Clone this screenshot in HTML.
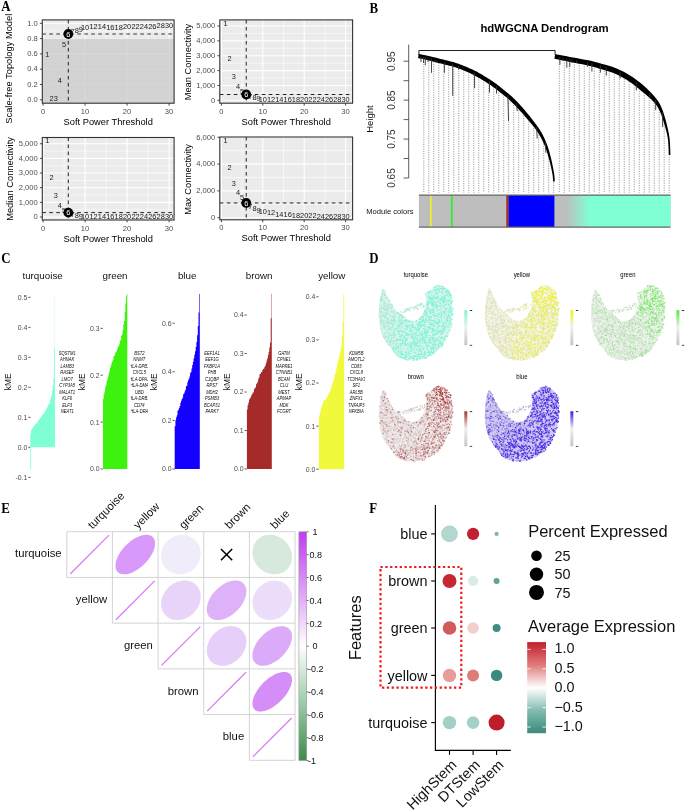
<!DOCTYPE html>
<html><head><meta charset="utf-8"><style>
html,body{margin:0;padding:0;background:#fff;}
body{width:685px;height:810px;overflow:hidden;}
svg{display:block;will-change:transform;}
</style></head><body>
<svg width="685" height="810" viewBox="0 0 685 810" font-family='"Liberation Sans", sans-serif'>
<rect width="685" height="810" fill="#fff"/>
<text x="0.00" y="0.00" font-size="14.3" text-anchor="start" fill="#000" font-weight="bold" font-family='"Liberation Serif", serif' transform="translate(1.30 11.00) scale(0.9 1)">A</text>
<text x="0.00" y="0.00" font-size="14.3" text-anchor="start" fill="#000" font-weight="bold" font-family='"Liberation Serif", serif' transform="translate(369.40 12.70) scale(0.9 1)">B</text>
<text x="0.00" y="0.00" font-size="14.3" text-anchor="start" fill="#000" font-weight="bold" font-family='"Liberation Serif", serif' transform="translate(1.20 262.50) scale(0.9 1)">C</text>
<text x="0.00" y="0.00" font-size="14.3" text-anchor="start" fill="#000" font-weight="bold" font-family='"Liberation Serif", serif' transform="translate(369.20 262.90) scale(0.9 1)">D</text>
<text x="0.00" y="0.00" font-size="14.3" text-anchor="start" fill="#000" font-weight="bold" font-family='"Liberation Serif", serif' transform="translate(1.30 512.50) scale(0.9 1)">E</text>
<text x="0.00" y="0.00" font-size="14.3" text-anchor="start" fill="#000" font-weight="bold" font-family='"Liberation Serif", serif' transform="translate(369.20 512.60) scale(0.9 1)">F</text>
<rect x="42.30" y="19.90" width="131.80" height="83.30" fill="#ebebeb" stroke="none" stroke-width="1"/>
<svg x="42.3" y="19.9" width="131.8" height="83.30000000000001" viewBox="42.3 19.9 131.8 83.30000000000001" overflow="hidden">
<line x1="64.10" y1="19.90" x2="64.10" y2="103.20" stroke="#fff" stroke-width="0.55"/>
<line x1="106.10" y1="19.90" x2="106.10" y2="103.20" stroke="#fff" stroke-width="0.55"/>
<line x1="148.10" y1="19.90" x2="148.10" y2="103.20" stroke="#fff" stroke-width="0.55"/>
<line x1="42.30" y1="92.15" x2="174.10" y2="92.15" stroke="#fff" stroke-width="0.55"/>
<line x1="42.30" y1="76.85" x2="174.10" y2="76.85" stroke="#fff" stroke-width="0.55"/>
<line x1="42.30" y1="61.55" x2="174.10" y2="61.55" stroke="#fff" stroke-width="0.55"/>
<line x1="42.30" y1="46.25" x2="174.10" y2="46.25" stroke="#fff" stroke-width="0.55"/>
<line x1="42.30" y1="30.95" x2="174.10" y2="30.95" stroke="#fff" stroke-width="0.55"/>
<line x1="43.10" y1="19.90" x2="43.10" y2="103.20" stroke="#fff" stroke-width="1.1"/>
<line x1="85.10" y1="19.90" x2="85.10" y2="103.20" stroke="#fff" stroke-width="1.1"/>
<line x1="127.10" y1="19.90" x2="127.10" y2="103.20" stroke="#fff" stroke-width="1.1"/>
<line x1="169.10" y1="19.90" x2="169.10" y2="103.20" stroke="#fff" stroke-width="1.1"/>
<line x1="42.30" y1="99.80" x2="174.10" y2="99.80" stroke="#fff" stroke-width="1.1"/>
<line x1="42.30" y1="84.50" x2="174.10" y2="84.50" stroke="#fff" stroke-width="1.1"/>
<line x1="42.30" y1="69.20" x2="174.10" y2="69.20" stroke="#fff" stroke-width="1.1"/>
<line x1="42.30" y1="53.90" x2="174.10" y2="53.90" stroke="#fff" stroke-width="1.1"/>
<line x1="42.30" y1="38.60" x2="174.10" y2="38.60" stroke="#fff" stroke-width="1.1"/>
<line x1="42.30" y1="23.30" x2="174.10" y2="23.30" stroke="#fff" stroke-width="1.1"/>
<rect x="42.30" y="38.60" width="131.80" height="64.60" fill="#c8c8c8" stroke="none" stroke-width="1" fill-opacity="0.72"/>
</svg>
<line x1="42.30" y1="34.01" x2="174.10" y2="34.01" stroke="#333" stroke-width="1.0" stroke-dasharray="3.6,3.4"/>
<line x1="68.30" y1="19.90" x2="68.30" y2="103.20" stroke="#222" stroke-width="1.0" stroke-dasharray="3.6,3.4"/>
<text x="47.30" y="57.27" font-size="7.4" text-anchor="middle" fill="#1a1a1a" font-family='"Liberation Sans", sans-serif'>1</text>
<text x="51.50" y="100.87" font-size="7.4" text-anchor="middle" fill="#1a1a1a" font-family='"Liberation Sans", sans-serif'>2</text>
<text x="55.70" y="101.02" font-size="7.4" text-anchor="middle" fill="#1a1a1a" font-family='"Liberation Sans", sans-serif'>3</text>
<text x="59.90" y="82.51" font-size="7.4" text-anchor="middle" fill="#1a1a1a" font-family='"Liberation Sans", sans-serif'>4</text>
<text x="64.10" y="46.55" font-size="7.4" text-anchor="middle" fill="#1a1a1a" font-family='"Liberation Sans", sans-serif'>5</text>
<circle cx="68.30" cy="34.01" r="4.9" fill="#000"/>
<text x="68.30" y="36.61" font-size="7.4" text-anchor="middle" fill="#fff" font-family='"Liberation Sans", sans-serif'>6</text>
<text x="72.50" y="34.31" font-size="7.4" text-anchor="middle" fill="#1a1a1a" font-family='"Liberation Sans", sans-serif'>7</text>
<text x="76.70" y="33.17" font-size="7.4" text-anchor="middle" fill="#1a1a1a" font-family='"Liberation Sans", sans-serif'>8</text>
<text x="80.90" y="32.40" font-size="7.4" text-anchor="middle" fill="#1a1a1a" font-family='"Liberation Sans", sans-serif'>9</text>
<text x="85.10" y="30.49" font-size="7.4" text-anchor="middle" fill="#1a1a1a" font-family='"Liberation Sans", sans-serif'>10</text>
<text x="93.50" y="29.34" font-size="7.4" text-anchor="middle" fill="#1a1a1a" font-family='"Liberation Sans", sans-serif'>12</text>
<text x="101.90" y="29.34" font-size="7.4" text-anchor="middle" fill="#1a1a1a" font-family='"Liberation Sans", sans-serif'>14</text>
<text x="110.30" y="29.57" font-size="7.4" text-anchor="middle" fill="#1a1a1a" font-family='"Liberation Sans", sans-serif'>16</text>
<text x="118.70" y="29.88" font-size="7.4" text-anchor="middle" fill="#1a1a1a" font-family='"Liberation Sans", sans-serif'>18</text>
<text x="127.10" y="28.96" font-size="7.4" text-anchor="middle" fill="#1a1a1a" font-family='"Liberation Sans", sans-serif'>20</text>
<text x="135.50" y="29.34" font-size="7.4" text-anchor="middle" fill="#1a1a1a" font-family='"Liberation Sans", sans-serif'>22</text>
<text x="143.90" y="28.58" font-size="7.4" text-anchor="middle" fill="#1a1a1a" font-family='"Liberation Sans", sans-serif'>24</text>
<text x="152.30" y="28.58" font-size="7.4" text-anchor="middle" fill="#1a1a1a" font-family='"Liberation Sans", sans-serif'>26</text>
<text x="160.70" y="28.20" font-size="7.4" text-anchor="middle" fill="#1a1a1a" font-family='"Liberation Sans", sans-serif'>28</text>
<text x="169.10" y="27.81" font-size="7.4" text-anchor="middle" fill="#1a1a1a" font-family='"Liberation Sans", sans-serif'>30</text>
<rect x="42.30" y="19.90" width="131.80" height="83.30" fill="none" stroke="#333" stroke-width="1.1"/>
<line x1="43.10" y1="103.20" x2="43.10" y2="105.60" stroke="#333" stroke-width="0.9"/>
<text x="43.10" y="113.80" font-size="7.6" text-anchor="middle" fill="#4d4d4d" font-family='"Liberation Sans", sans-serif'>0</text>
<line x1="85.10" y1="103.20" x2="85.10" y2="105.60" stroke="#333" stroke-width="0.9"/>
<text x="85.10" y="113.80" font-size="7.6" text-anchor="middle" fill="#4d4d4d" font-family='"Liberation Sans", sans-serif'>10</text>
<line x1="127.10" y1="103.20" x2="127.10" y2="105.60" stroke="#333" stroke-width="0.9"/>
<text x="127.10" y="113.80" font-size="7.6" text-anchor="middle" fill="#4d4d4d" font-family='"Liberation Sans", sans-serif'>20</text>
<line x1="169.10" y1="103.20" x2="169.10" y2="105.60" stroke="#333" stroke-width="0.9"/>
<text x="169.10" y="113.80" font-size="7.6" text-anchor="middle" fill="#4d4d4d" font-family='"Liberation Sans", sans-serif'>30</text>
<line x1="39.90" y1="99.80" x2="42.30" y2="99.80" stroke="#333" stroke-width="0.9"/>
<text x="37.80" y="102.00" font-size="7.6" text-anchor="end" fill="#4d4d4d" font-family='"Liberation Sans", sans-serif'>0.0</text>
<line x1="39.90" y1="84.50" x2="42.30" y2="84.50" stroke="#333" stroke-width="0.9"/>
<text x="37.80" y="86.70" font-size="7.6" text-anchor="end" fill="#4d4d4d" font-family='"Liberation Sans", sans-serif'>0.2</text>
<line x1="39.90" y1="69.20" x2="42.30" y2="69.20" stroke="#333" stroke-width="0.9"/>
<text x="37.80" y="71.40" font-size="7.6" text-anchor="end" fill="#4d4d4d" font-family='"Liberation Sans", sans-serif'>0.4</text>
<line x1="39.90" y1="53.90" x2="42.30" y2="53.90" stroke="#333" stroke-width="0.9"/>
<text x="37.80" y="56.10" font-size="7.6" text-anchor="end" fill="#4d4d4d" font-family='"Liberation Sans", sans-serif'>0.6</text>
<line x1="39.90" y1="38.60" x2="42.30" y2="38.60" stroke="#333" stroke-width="0.9"/>
<text x="37.80" y="40.80" font-size="7.6" text-anchor="end" fill="#4d4d4d" font-family='"Liberation Sans", sans-serif'>0.8</text>
<line x1="39.90" y1="23.30" x2="42.30" y2="23.30" stroke="#333" stroke-width="0.9"/>
<text x="37.80" y="25.50" font-size="7.6" text-anchor="end" fill="#4d4d4d" font-family='"Liberation Sans", sans-serif'>1.0</text>
<text x="108.20" y="124.70" font-size="9.3" text-anchor="middle" fill="#000" font-family='"Liberation Sans", sans-serif'>Soft Power Threshold</text>
<text x="12.40" y="68.75" font-size="9.3" text-anchor="middle" fill="#000" font-family='"Liberation Sans", sans-serif' transform="rotate(-90 12.40 68.75)">Scale-free Topology Model</text>
<rect x="219.80" y="19.90" width="132.80" height="83.30" fill="#ebebeb" stroke="none" stroke-width="1"/>
<svg x="219.8" y="19.9" width="132.8" height="83.30000000000001" viewBox="219.8 19.9 132.8 83.30000000000001" overflow="hidden">
<line x1="242.10" y1="19.90" x2="242.10" y2="103.20" stroke="#fff" stroke-width="0.55"/>
<line x1="283.50" y1="19.90" x2="283.50" y2="103.20" stroke="#fff" stroke-width="0.55"/>
<line x1="324.90" y1="19.90" x2="324.90" y2="103.20" stroke="#fff" stroke-width="0.55"/>
<line x1="219.80" y1="92.87" x2="352.60" y2="92.87" stroke="#fff" stroke-width="0.55"/>
<line x1="219.80" y1="78.01" x2="352.60" y2="78.01" stroke="#fff" stroke-width="0.55"/>
<line x1="219.80" y1="63.15" x2="352.60" y2="63.15" stroke="#fff" stroke-width="0.55"/>
<line x1="219.80" y1="48.29" x2="352.60" y2="48.29" stroke="#fff" stroke-width="0.55"/>
<line x1="219.80" y1="33.43" x2="352.60" y2="33.43" stroke="#fff" stroke-width="0.55"/>
<line x1="221.40" y1="19.90" x2="221.40" y2="103.20" stroke="#fff" stroke-width="1.1"/>
<line x1="262.80" y1="19.90" x2="262.80" y2="103.20" stroke="#fff" stroke-width="1.1"/>
<line x1="304.20" y1="19.90" x2="304.20" y2="103.20" stroke="#fff" stroke-width="1.1"/>
<line x1="345.60" y1="19.90" x2="345.60" y2="103.20" stroke="#fff" stroke-width="1.1"/>
<line x1="219.80" y1="100.30" x2="352.60" y2="100.30" stroke="#fff" stroke-width="1.1"/>
<line x1="219.80" y1="85.44" x2="352.60" y2="85.44" stroke="#fff" stroke-width="1.1"/>
<line x1="219.80" y1="70.58" x2="352.60" y2="70.58" stroke="#fff" stroke-width="1.1"/>
<line x1="219.80" y1="55.72" x2="352.60" y2="55.72" stroke="#fff" stroke-width="1.1"/>
<line x1="219.80" y1="40.86" x2="352.60" y2="40.86" stroke="#fff" stroke-width="1.1"/>
<line x1="219.80" y1="26.00" x2="352.60" y2="26.00" stroke="#fff" stroke-width="1.1"/>
</svg>
<line x1="219.80" y1="94.50" x2="352.60" y2="94.50" stroke="#222" stroke-width="1.0" stroke-dasharray="3.6,3.4"/>
<line x1="246.24" y1="19.90" x2="246.24" y2="103.20" stroke="#222" stroke-width="1.0" stroke-dasharray="3.6,3.4"/>
<text x="225.54" y="26.37" font-size="7.4" text-anchor="middle" fill="#1a1a1a" font-family='"Liberation Sans", sans-serif'>1</text>
<text x="229.68" y="61.29" font-size="7.4" text-anchor="middle" fill="#1a1a1a" font-family='"Liberation Sans", sans-serif'>2</text>
<text x="233.82" y="79.12" font-size="7.4" text-anchor="middle" fill="#1a1a1a" font-family='"Liberation Sans", sans-serif'>3</text>
<text x="237.96" y="88.78" font-size="7.4" text-anchor="middle" fill="#1a1a1a" font-family='"Liberation Sans", sans-serif'>4</text>
<text x="242.10" y="93.98" font-size="7.4" text-anchor="middle" fill="#1a1a1a" font-family='"Liberation Sans", sans-serif'>5</text>
<circle cx="246.24" cy="94.50" r="4.9" fill="#000"/>
<text x="246.24" y="97.10" font-size="7.4" text-anchor="middle" fill="#fff" font-family='"Liberation Sans", sans-serif'>6</text>
<text x="250.38" y="99.04" font-size="7.4" text-anchor="middle" fill="#1a1a1a" font-family='"Liberation Sans", sans-serif'>7</text>
<text x="254.52" y="100.37" font-size="7.4" text-anchor="middle" fill="#1a1a1a" font-family='"Liberation Sans", sans-serif'>8</text>
<text x="258.66" y="101.12" font-size="7.4" text-anchor="middle" fill="#1a1a1a" font-family='"Liberation Sans", sans-serif'>9</text>
<text x="262.80" y="101.56" font-size="7.4" text-anchor="middle" fill="#1a1a1a" font-family='"Liberation Sans", sans-serif'>10</text>
<text x="271.08" y="102.31" font-size="7.4" text-anchor="middle" fill="#1a1a1a" font-family='"Liberation Sans", sans-serif'>12</text>
<text x="279.36" y="102.31" font-size="7.4" text-anchor="middle" fill="#1a1a1a" font-family='"Liberation Sans", sans-serif'>14</text>
<text x="287.64" y="102.31" font-size="7.4" text-anchor="middle" fill="#1a1a1a" font-family='"Liberation Sans", sans-serif'>16</text>
<text x="295.92" y="102.31" font-size="7.4" text-anchor="middle" fill="#1a1a1a" font-family='"Liberation Sans", sans-serif'>18</text>
<text x="304.20" y="102.31" font-size="7.4" text-anchor="middle" fill="#1a1a1a" font-family='"Liberation Sans", sans-serif'>20</text>
<text x="312.48" y="102.31" font-size="7.4" text-anchor="middle" fill="#1a1a1a" font-family='"Liberation Sans", sans-serif'>22</text>
<text x="320.76" y="102.31" font-size="7.4" text-anchor="middle" fill="#1a1a1a" font-family='"Liberation Sans", sans-serif'>24</text>
<text x="329.04" y="102.31" font-size="7.4" text-anchor="middle" fill="#1a1a1a" font-family='"Liberation Sans", sans-serif'>26</text>
<text x="337.32" y="102.31" font-size="7.4" text-anchor="middle" fill="#1a1a1a" font-family='"Liberation Sans", sans-serif'>28</text>
<text x="345.60" y="102.31" font-size="7.4" text-anchor="middle" fill="#1a1a1a" font-family='"Liberation Sans", sans-serif'>30</text>
<rect x="219.80" y="19.90" width="132.80" height="83.30" fill="none" stroke="#333" stroke-width="1.1"/>
<line x1="221.40" y1="103.20" x2="221.40" y2="105.60" stroke="#333" stroke-width="0.9"/>
<text x="221.40" y="113.80" font-size="7.6" text-anchor="middle" fill="#4d4d4d" font-family='"Liberation Sans", sans-serif'>0</text>
<line x1="262.80" y1="103.20" x2="262.80" y2="105.60" stroke="#333" stroke-width="0.9"/>
<text x="262.80" y="113.80" font-size="7.6" text-anchor="middle" fill="#4d4d4d" font-family='"Liberation Sans", sans-serif'>10</text>
<line x1="304.20" y1="103.20" x2="304.20" y2="105.60" stroke="#333" stroke-width="0.9"/>
<text x="304.20" y="113.80" font-size="7.6" text-anchor="middle" fill="#4d4d4d" font-family='"Liberation Sans", sans-serif'>20</text>
<line x1="345.60" y1="103.20" x2="345.60" y2="105.60" stroke="#333" stroke-width="0.9"/>
<text x="345.60" y="113.80" font-size="7.6" text-anchor="middle" fill="#4d4d4d" font-family='"Liberation Sans", sans-serif'>30</text>
<line x1="217.40" y1="100.30" x2="219.80" y2="100.30" stroke="#333" stroke-width="0.9"/>
<text x="215.30" y="102.50" font-size="7.6" text-anchor="end" fill="#4d4d4d" font-family='"Liberation Sans", sans-serif'>0</text>
<line x1="217.40" y1="85.44" x2="219.80" y2="85.44" stroke="#333" stroke-width="0.9"/>
<text x="215.30" y="87.64" font-size="7.6" text-anchor="end" fill="#4d4d4d" font-family='"Liberation Sans", sans-serif'>1,000</text>
<line x1="217.40" y1="70.58" x2="219.80" y2="70.58" stroke="#333" stroke-width="0.9"/>
<text x="215.30" y="72.78" font-size="7.6" text-anchor="end" fill="#4d4d4d" font-family='"Liberation Sans", sans-serif'>2,000</text>
<line x1="217.40" y1="55.72" x2="219.80" y2="55.72" stroke="#333" stroke-width="0.9"/>
<text x="215.30" y="57.92" font-size="7.6" text-anchor="end" fill="#4d4d4d" font-family='"Liberation Sans", sans-serif'>3,000</text>
<line x1="217.40" y1="40.86" x2="219.80" y2="40.86" stroke="#333" stroke-width="0.9"/>
<text x="215.30" y="43.06" font-size="7.6" text-anchor="end" fill="#4d4d4d" font-family='"Liberation Sans", sans-serif'>4,000</text>
<line x1="217.40" y1="26.00" x2="219.80" y2="26.00" stroke="#333" stroke-width="0.9"/>
<text x="215.30" y="28.20" font-size="7.6" text-anchor="end" fill="#4d4d4d" font-family='"Liberation Sans", sans-serif'>5,000</text>
<text x="286.20" y="124.70" font-size="9.3" text-anchor="middle" fill="#000" font-family='"Liberation Sans", sans-serif'>Soft Power Threshold</text>
<text x="190.70" y="62.05" font-size="9.3" text-anchor="middle" fill="#000" font-family='"Liberation Sans", sans-serif' transform="rotate(-90 190.70 62.05)">Mean Connectivity</text>
<rect x="42.30" y="137.50" width="131.80" height="82.50" fill="#ebebeb" stroke="none" stroke-width="1"/>
<svg x="42.3" y="137.5" width="131.8" height="82.5" viewBox="42.3 137.5 131.8 82.5" overflow="hidden">
<line x1="64.10" y1="137.50" x2="64.10" y2="220.00" stroke="#fff" stroke-width="0.55"/>
<line x1="106.10" y1="137.50" x2="106.10" y2="220.00" stroke="#fff" stroke-width="0.55"/>
<line x1="148.10" y1="137.50" x2="148.10" y2="220.00" stroke="#fff" stroke-width="0.55"/>
<line x1="42.30" y1="209.68" x2="174.10" y2="209.68" stroke="#fff" stroke-width="0.55"/>
<line x1="42.30" y1="195.03" x2="174.10" y2="195.03" stroke="#fff" stroke-width="0.55"/>
<line x1="42.30" y1="180.38" x2="174.10" y2="180.38" stroke="#fff" stroke-width="0.55"/>
<line x1="42.30" y1="165.72" x2="174.10" y2="165.72" stroke="#fff" stroke-width="0.55"/>
<line x1="42.30" y1="151.07" x2="174.10" y2="151.07" stroke="#fff" stroke-width="0.55"/>
<line x1="43.10" y1="137.50" x2="43.10" y2="220.00" stroke="#fff" stroke-width="1.1"/>
<line x1="85.10" y1="137.50" x2="85.10" y2="220.00" stroke="#fff" stroke-width="1.1"/>
<line x1="127.10" y1="137.50" x2="127.10" y2="220.00" stroke="#fff" stroke-width="1.1"/>
<line x1="169.10" y1="137.50" x2="169.10" y2="220.00" stroke="#fff" stroke-width="1.1"/>
<line x1="42.30" y1="217.00" x2="174.10" y2="217.00" stroke="#fff" stroke-width="1.1"/>
<line x1="42.30" y1="202.35" x2="174.10" y2="202.35" stroke="#fff" stroke-width="1.1"/>
<line x1="42.30" y1="187.70" x2="174.10" y2="187.70" stroke="#fff" stroke-width="1.1"/>
<line x1="42.30" y1="173.05" x2="174.10" y2="173.05" stroke="#fff" stroke-width="1.1"/>
<line x1="42.30" y1="158.40" x2="174.10" y2="158.40" stroke="#fff" stroke-width="1.1"/>
<line x1="42.30" y1="143.75" x2="174.10" y2="143.75" stroke="#fff" stroke-width="1.1"/>
</svg>
<line x1="42.30" y1="212.60" x2="174.10" y2="212.60" stroke="#222" stroke-width="1.0" stroke-dasharray="3.6,3.4"/>
<line x1="68.30" y1="137.50" x2="68.30" y2="220.00" stroke="#222" stroke-width="1.0" stroke-dasharray="3.6,3.4"/>
<text x="47.30" y="143.42" font-size="7.4" text-anchor="middle" fill="#1a1a1a" font-family='"Liberation Sans", sans-serif'>1</text>
<text x="51.50" y="180.04" font-size="7.4" text-anchor="middle" fill="#1a1a1a" font-family='"Liberation Sans", sans-serif'>2</text>
<text x="55.70" y="198.36" font-size="7.4" text-anchor="middle" fill="#1a1a1a" font-family='"Liberation Sans", sans-serif'>3</text>
<text x="59.90" y="207.88" font-size="7.4" text-anchor="middle" fill="#1a1a1a" font-family='"Liberation Sans", sans-serif'>4</text>
<text x="64.10" y="212.57" font-size="7.4" text-anchor="middle" fill="#1a1a1a" font-family='"Liberation Sans", sans-serif'>5</text>
<circle cx="68.30" cy="212.60" r="4.9" fill="#000"/>
<text x="68.30" y="215.20" font-size="7.4" text-anchor="middle" fill="#fff" font-family='"Liberation Sans", sans-serif'>6</text>
<text x="72.50" y="217.11" font-size="7.4" text-anchor="middle" fill="#1a1a1a" font-family='"Liberation Sans", sans-serif'>7</text>
<text x="76.70" y="217.99" font-size="7.4" text-anchor="middle" fill="#1a1a1a" font-family='"Liberation Sans", sans-serif'>8</text>
<text x="80.90" y="218.57" font-size="7.4" text-anchor="middle" fill="#1a1a1a" font-family='"Liberation Sans", sans-serif'>9</text>
<text x="85.10" y="219.01" font-size="7.4" text-anchor="middle" fill="#1a1a1a" font-family='"Liberation Sans", sans-serif'>10</text>
<text x="93.50" y="219.31" font-size="7.4" text-anchor="middle" fill="#1a1a1a" font-family='"Liberation Sans", sans-serif'>12</text>
<text x="101.90" y="219.31" font-size="7.4" text-anchor="middle" fill="#1a1a1a" font-family='"Liberation Sans", sans-serif'>14</text>
<text x="110.30" y="219.31" font-size="7.4" text-anchor="middle" fill="#1a1a1a" font-family='"Liberation Sans", sans-serif'>16</text>
<text x="118.70" y="219.31" font-size="7.4" text-anchor="middle" fill="#1a1a1a" font-family='"Liberation Sans", sans-serif'>18</text>
<text x="127.10" y="219.31" font-size="7.4" text-anchor="middle" fill="#1a1a1a" font-family='"Liberation Sans", sans-serif'>20</text>
<text x="135.50" y="219.31" font-size="7.4" text-anchor="middle" fill="#1a1a1a" font-family='"Liberation Sans", sans-serif'>22</text>
<text x="143.90" y="219.31" font-size="7.4" text-anchor="middle" fill="#1a1a1a" font-family='"Liberation Sans", sans-serif'>24</text>
<text x="152.30" y="219.31" font-size="7.4" text-anchor="middle" fill="#1a1a1a" font-family='"Liberation Sans", sans-serif'>26</text>
<text x="160.70" y="219.31" font-size="7.4" text-anchor="middle" fill="#1a1a1a" font-family='"Liberation Sans", sans-serif'>28</text>
<text x="169.10" y="219.31" font-size="7.4" text-anchor="middle" fill="#1a1a1a" font-family='"Liberation Sans", sans-serif'>30</text>
<rect x="42.30" y="137.50" width="131.80" height="82.50" fill="none" stroke="#333" stroke-width="1.1"/>
<line x1="43.10" y1="220.00" x2="43.10" y2="222.40" stroke="#333" stroke-width="0.9"/>
<text x="43.10" y="230.60" font-size="7.6" text-anchor="middle" fill="#4d4d4d" font-family='"Liberation Sans", sans-serif'>0</text>
<line x1="85.10" y1="220.00" x2="85.10" y2="222.40" stroke="#333" stroke-width="0.9"/>
<text x="85.10" y="230.60" font-size="7.6" text-anchor="middle" fill="#4d4d4d" font-family='"Liberation Sans", sans-serif'>10</text>
<line x1="127.10" y1="220.00" x2="127.10" y2="222.40" stroke="#333" stroke-width="0.9"/>
<text x="127.10" y="230.60" font-size="7.6" text-anchor="middle" fill="#4d4d4d" font-family='"Liberation Sans", sans-serif'>20</text>
<line x1="169.10" y1="220.00" x2="169.10" y2="222.40" stroke="#333" stroke-width="0.9"/>
<text x="169.10" y="230.60" font-size="7.6" text-anchor="middle" fill="#4d4d4d" font-family='"Liberation Sans", sans-serif'>30</text>
<line x1="39.90" y1="217.00" x2="42.30" y2="217.00" stroke="#333" stroke-width="0.9"/>
<text x="37.80" y="219.20" font-size="7.6" text-anchor="end" fill="#4d4d4d" font-family='"Liberation Sans", sans-serif'>0</text>
<line x1="39.90" y1="202.35" x2="42.30" y2="202.35" stroke="#333" stroke-width="0.9"/>
<text x="37.80" y="204.55" font-size="7.6" text-anchor="end" fill="#4d4d4d" font-family='"Liberation Sans", sans-serif'>1,000</text>
<line x1="39.90" y1="187.70" x2="42.30" y2="187.70" stroke="#333" stroke-width="0.9"/>
<text x="37.80" y="189.90" font-size="7.6" text-anchor="end" fill="#4d4d4d" font-family='"Liberation Sans", sans-serif'>2,000</text>
<line x1="39.90" y1="173.05" x2="42.30" y2="173.05" stroke="#333" stroke-width="0.9"/>
<text x="37.80" y="175.25" font-size="7.6" text-anchor="end" fill="#4d4d4d" font-family='"Liberation Sans", sans-serif'>3,000</text>
<line x1="39.90" y1="158.40" x2="42.30" y2="158.40" stroke="#333" stroke-width="0.9"/>
<text x="37.80" y="160.60" font-size="7.6" text-anchor="end" fill="#4d4d4d" font-family='"Liberation Sans", sans-serif'>4,000</text>
<line x1="39.90" y1="143.75" x2="42.30" y2="143.75" stroke="#333" stroke-width="0.9"/>
<text x="37.80" y="145.95" font-size="7.6" text-anchor="end" fill="#4d4d4d" font-family='"Liberation Sans", sans-serif'>5,000</text>
<text x="108.20" y="241.50" font-size="9.3" text-anchor="middle" fill="#000" font-family='"Liberation Sans", sans-serif'>Soft Power Threshold</text>
<text x="12.60" y="178.95" font-size="9.3" text-anchor="middle" fill="#000" font-family='"Liberation Sans", sans-serif' transform="rotate(-90 12.60 178.95)">Median Connectivity</text>
<rect x="219.80" y="137.00" width="132.80" height="82.80" fill="#ebebeb" stroke="none" stroke-width="1"/>
<svg x="219.8" y="137.0" width="132.8" height="82.80000000000001" viewBox="219.8 137.0 132.8 82.80000000000001" overflow="hidden">
<line x1="242.10" y1="137.00" x2="242.10" y2="219.80" stroke="#fff" stroke-width="0.55"/>
<line x1="283.50" y1="137.00" x2="283.50" y2="219.80" stroke="#fff" stroke-width="0.55"/>
<line x1="324.90" y1="137.00" x2="324.90" y2="219.80" stroke="#fff" stroke-width="0.55"/>
<line x1="219.80" y1="204.30" x2="352.60" y2="204.30" stroke="#fff" stroke-width="0.55"/>
<line x1="219.80" y1="177.50" x2="352.60" y2="177.50" stroke="#fff" stroke-width="0.55"/>
<line x1="219.80" y1="150.70" x2="352.60" y2="150.70" stroke="#fff" stroke-width="0.55"/>
<line x1="221.40" y1="137.00" x2="221.40" y2="219.80" stroke="#fff" stroke-width="1.1"/>
<line x1="262.80" y1="137.00" x2="262.80" y2="219.80" stroke="#fff" stroke-width="1.1"/>
<line x1="304.20" y1="137.00" x2="304.20" y2="219.80" stroke="#fff" stroke-width="1.1"/>
<line x1="345.60" y1="137.00" x2="345.60" y2="219.80" stroke="#fff" stroke-width="1.1"/>
<line x1="219.80" y1="217.70" x2="352.60" y2="217.70" stroke="#fff" stroke-width="1.1"/>
<line x1="219.80" y1="190.90" x2="352.60" y2="190.90" stroke="#fff" stroke-width="1.1"/>
<line x1="219.80" y1="164.10" x2="352.60" y2="164.10" stroke="#fff" stroke-width="1.1"/>
<line x1="219.80" y1="137.30" x2="352.60" y2="137.30" stroke="#fff" stroke-width="1.1"/>
</svg>
<line x1="219.80" y1="202.96" x2="352.60" y2="202.96" stroke="#222" stroke-width="1.0" stroke-dasharray="3.6,3.4"/>
<line x1="246.24" y1="137.00" x2="246.24" y2="219.80" stroke="#222" stroke-width="1.0" stroke-dasharray="3.6,3.4"/>
<text x="225.54" y="143.12" font-size="7.4" text-anchor="middle" fill="#1a1a1a" font-family='"Liberation Sans", sans-serif'>1</text>
<text x="229.68" y="170.32" font-size="7.4" text-anchor="middle" fill="#1a1a1a" font-family='"Liberation Sans", sans-serif'>2</text>
<text x="233.82" y="185.59" font-size="7.4" text-anchor="middle" fill="#1a1a1a" font-family='"Liberation Sans", sans-serif'>3</text>
<text x="237.96" y="194.84" font-size="7.4" text-anchor="middle" fill="#1a1a1a" font-family='"Liberation Sans", sans-serif'>4</text>
<text x="242.10" y="199.93" font-size="7.4" text-anchor="middle" fill="#1a1a1a" font-family='"Liberation Sans", sans-serif'>5</text>
<circle cx="246.24" cy="202.96" r="4.9" fill="#000"/>
<text x="246.24" y="205.56" font-size="7.4" text-anchor="middle" fill="#fff" font-family='"Liberation Sans", sans-serif'>6</text>
<text x="250.38" y="209.11" font-size="7.4" text-anchor="middle" fill="#1a1a1a" font-family='"Liberation Sans", sans-serif'>7</text>
<text x="254.52" y="210.79" font-size="7.4" text-anchor="middle" fill="#1a1a1a" font-family='"Liberation Sans", sans-serif'>8</text>
<text x="258.66" y="212.59" font-size="7.4" text-anchor="middle" fill="#1a1a1a" font-family='"Liberation Sans", sans-serif'>9</text>
<text x="262.80" y="213.80" font-size="7.4" text-anchor="middle" fill="#1a1a1a" font-family='"Liberation Sans", sans-serif'>10</text>
<text x="271.08" y="215.27" font-size="7.4" text-anchor="middle" fill="#1a1a1a" font-family='"Liberation Sans", sans-serif'>12</text>
<text x="279.36" y="216.68" font-size="7.4" text-anchor="middle" fill="#1a1a1a" font-family='"Liberation Sans", sans-serif'>14</text>
<text x="287.64" y="217.22" font-size="7.4" text-anchor="middle" fill="#1a1a1a" font-family='"Liberation Sans", sans-serif'>16</text>
<text x="295.92" y="217.62" font-size="7.4" text-anchor="middle" fill="#1a1a1a" font-family='"Liberation Sans", sans-serif'>18</text>
<text x="304.20" y="218.02" font-size="7.4" text-anchor="middle" fill="#1a1a1a" font-family='"Liberation Sans", sans-serif'>20</text>
<text x="312.48" y="218.29" font-size="7.4" text-anchor="middle" fill="#1a1a1a" font-family='"Liberation Sans", sans-serif'>22</text>
<text x="320.76" y="218.69" font-size="7.4" text-anchor="middle" fill="#1a1a1a" font-family='"Liberation Sans", sans-serif'>24</text>
<text x="329.04" y="218.96" font-size="7.4" text-anchor="middle" fill="#1a1a1a" font-family='"Liberation Sans", sans-serif'>26</text>
<text x="337.32" y="219.09" font-size="7.4" text-anchor="middle" fill="#1a1a1a" font-family='"Liberation Sans", sans-serif'>28</text>
<text x="345.60" y="219.29" font-size="7.4" text-anchor="middle" fill="#1a1a1a" font-family='"Liberation Sans", sans-serif'>30</text>
<rect x="219.80" y="137.00" width="132.80" height="82.80" fill="none" stroke="#333" stroke-width="1.1"/>
<line x1="221.40" y1="219.80" x2="221.40" y2="222.20" stroke="#333" stroke-width="0.9"/>
<text x="221.40" y="230.40" font-size="7.6" text-anchor="middle" fill="#4d4d4d" font-family='"Liberation Sans", sans-serif'>0</text>
<line x1="262.80" y1="219.80" x2="262.80" y2="222.20" stroke="#333" stroke-width="0.9"/>
<text x="262.80" y="230.40" font-size="7.6" text-anchor="middle" fill="#4d4d4d" font-family='"Liberation Sans", sans-serif'>10</text>
<line x1="304.20" y1="219.80" x2="304.20" y2="222.20" stroke="#333" stroke-width="0.9"/>
<text x="304.20" y="230.40" font-size="7.6" text-anchor="middle" fill="#4d4d4d" font-family='"Liberation Sans", sans-serif'>20</text>
<line x1="345.60" y1="219.80" x2="345.60" y2="222.20" stroke="#333" stroke-width="0.9"/>
<text x="345.60" y="230.40" font-size="7.6" text-anchor="middle" fill="#4d4d4d" font-family='"Liberation Sans", sans-serif'>30</text>
<line x1="217.40" y1="217.70" x2="219.80" y2="217.70" stroke="#333" stroke-width="0.9"/>
<text x="215.30" y="219.90" font-size="7.6" text-anchor="end" fill="#4d4d4d" font-family='"Liberation Sans", sans-serif'>0</text>
<line x1="217.40" y1="190.90" x2="219.80" y2="190.90" stroke="#333" stroke-width="0.9"/>
<text x="215.30" y="193.10" font-size="7.6" text-anchor="end" fill="#4d4d4d" font-family='"Liberation Sans", sans-serif'>2,000</text>
<line x1="217.40" y1="164.10" x2="219.80" y2="164.10" stroke="#333" stroke-width="0.9"/>
<text x="215.30" y="166.30" font-size="7.6" text-anchor="end" fill="#4d4d4d" font-family='"Liberation Sans", sans-serif'>4,000</text>
<line x1="217.40" y1="137.30" x2="219.80" y2="137.30" stroke="#333" stroke-width="0.9"/>
<text x="215.30" y="139.50" font-size="7.6" text-anchor="end" fill="#4d4d4d" font-family='"Liberation Sans", sans-serif'>6,000</text>
<text x="286.20" y="241.30" font-size="9.3" text-anchor="middle" fill="#000" font-family='"Liberation Sans", sans-serif'>Soft Power Threshold</text>
<text x="190.70" y="179.40" font-size="9.3" text-anchor="middle" fill="#000" font-family='"Liberation Sans", sans-serif' transform="rotate(-90 190.70 179.40)">Max Connectivity</text>
<text x="544.50" y="31.90" font-size="11.35" text-anchor="middle" fill="#000" font-weight="bold" font-family='"Liberation Sans", sans-serif'>hdWGCNA Dendrogram</text>
<line x1="408.70" y1="44.60" x2="408.70" y2="178.00" stroke="#333" stroke-width="0.8"/>
<line x1="403.60" y1="61.20" x2="408.70" y2="61.20" stroke="#333" stroke-width="0.8"/>
<text x="395.40" y="61.20" font-size="10.0" text-anchor="middle" fill="#333" font-family='"Liberation Sans", sans-serif' transform="rotate(-90 395.40 61.20)">0.95</text>
<line x1="403.60" y1="80.67" x2="408.70" y2="80.67" stroke="#333" stroke-width="0.8"/>
<line x1="403.60" y1="100.13" x2="408.70" y2="100.13" stroke="#333" stroke-width="0.8"/>
<text x="395.40" y="100.13" font-size="10.0" text-anchor="middle" fill="#333" font-family='"Liberation Sans", sans-serif' transform="rotate(-90 395.40 100.13)">0.85</text>
<line x1="403.60" y1="119.60" x2="408.70" y2="119.60" stroke="#333" stroke-width="0.8"/>
<line x1="403.60" y1="139.07" x2="408.70" y2="139.07" stroke="#333" stroke-width="0.8"/>
<text x="395.40" y="139.07" font-size="10.0" text-anchor="middle" fill="#333" font-family='"Liberation Sans", sans-serif' transform="rotate(-90 395.40 139.07)">0.75</text>
<line x1="403.60" y1="158.53" x2="408.70" y2="158.53" stroke="#333" stroke-width="0.8"/>
<line x1="403.60" y1="178.00" x2="408.70" y2="178.00" stroke="#333" stroke-width="0.8"/>
<text x="395.40" y="178.00" font-size="10.0" text-anchor="middle" fill="#333" font-family='"Liberation Sans", sans-serif' transform="rotate(-90 395.40 178.00)">0.65</text>
<text x="372.60" y="119.00" font-size="9.5" text-anchor="middle" fill="#111" font-family='"Liberation Sans", sans-serif' transform="rotate(-90 372.60 119.00)">Height</text>
<text x="366.30" y="213.90" font-size="7.6" text-anchor="start" fill="#111" font-family='"Liberation Sans", sans-serif'>Module colors</text>
<line x1="423.80" y1="56.91" x2="423.80" y2="192.80" stroke="#8c8c8c" stroke-width="0.9" stroke-dasharray="1.1,1.25"/>
<line x1="428.80" y1="58.02" x2="428.80" y2="192.80" stroke="#8c8c8c" stroke-width="0.9" stroke-dasharray="1.1,1.25"/>
<line x1="433.79" y1="59.21" x2="433.79" y2="192.80" stroke="#8c8c8c" stroke-width="0.9" stroke-dasharray="1.1,1.25"/>
<line x1="438.79" y1="60.44" x2="438.79" y2="192.80" stroke="#8c8c8c" stroke-width="0.9" stroke-dasharray="1.1,1.25"/>
<line x1="443.78" y1="61.71" x2="443.78" y2="192.80" stroke="#8c8c8c" stroke-width="0.9" stroke-dasharray="1.1,1.25"/>
<line x1="448.78" y1="62.95" x2="448.78" y2="192.80" stroke="#8c8c8c" stroke-width="0.9" stroke-dasharray="1.1,1.25"/>
<line x1="453.77" y1="64.24" x2="453.77" y2="192.80" stroke="#8c8c8c" stroke-width="0.9" stroke-dasharray="1.1,1.25"/>
<line x1="458.77" y1="65.91" x2="458.77" y2="192.80" stroke="#8c8c8c" stroke-width="0.9" stroke-dasharray="1.1,1.25"/>
<line x1="463.76" y1="67.83" x2="463.76" y2="192.80" stroke="#8c8c8c" stroke-width="0.9" stroke-dasharray="1.1,1.25"/>
<line x1="468.76" y1="69.88" x2="468.76" y2="192.80" stroke="#8c8c8c" stroke-width="0.9" stroke-dasharray="1.1,1.25"/>
<line x1="473.75" y1="72.16" x2="473.75" y2="192.80" stroke="#8c8c8c" stroke-width="0.9" stroke-dasharray="1.1,1.25"/>
<line x1="478.75" y1="74.78" x2="478.75" y2="192.80" stroke="#8c8c8c" stroke-width="0.9" stroke-dasharray="1.1,1.25"/>
<line x1="483.74" y1="77.72" x2="483.74" y2="192.80" stroke="#8c8c8c" stroke-width="0.9" stroke-dasharray="1.1,1.25"/>
<line x1="488.74" y1="80.82" x2="488.74" y2="192.80" stroke="#8c8c8c" stroke-width="0.9" stroke-dasharray="1.1,1.25"/>
<line x1="493.73" y1="84.10" x2="493.73" y2="192.80" stroke="#8c8c8c" stroke-width="0.9" stroke-dasharray="1.1,1.25"/>
<line x1="498.73" y1="87.82" x2="498.73" y2="192.80" stroke="#8c8c8c" stroke-width="0.9" stroke-dasharray="1.1,1.25"/>
<line x1="503.72" y1="91.83" x2="503.72" y2="192.80" stroke="#8c8c8c" stroke-width="0.9" stroke-dasharray="1.1,1.25"/>
<line x1="508.72" y1="95.83" x2="508.72" y2="192.80" stroke="#8c8c8c" stroke-width="0.9" stroke-dasharray="1.1,1.25"/>
<line x1="513.71" y1="100.38" x2="513.71" y2="192.80" stroke="#8c8c8c" stroke-width="0.9" stroke-dasharray="1.1,1.25"/>
<line x1="518.71" y1="105.44" x2="518.71" y2="192.80" stroke="#8c8c8c" stroke-width="0.9" stroke-dasharray="1.1,1.25"/>
<line x1="523.70" y1="110.99" x2="523.70" y2="192.80" stroke="#8c8c8c" stroke-width="0.9" stroke-dasharray="1.1,1.25"/>
<line x1="528.70" y1="116.99" x2="528.70" y2="192.80" stroke="#8c8c8c" stroke-width="0.9" stroke-dasharray="1.1,1.25"/>
<line x1="533.69" y1="123.28" x2="533.69" y2="192.80" stroke="#8c8c8c" stroke-width="0.9" stroke-dasharray="1.1,1.25"/>
<line x1="538.69" y1="130.11" x2="538.69" y2="192.80" stroke="#8c8c8c" stroke-width="0.9" stroke-dasharray="1.1,1.25"/>
<line x1="543.68" y1="138.73" x2="543.68" y2="192.80" stroke="#8c8c8c" stroke-width="0.9" stroke-dasharray="1.1,1.25"/>
<line x1="548.68" y1="151.52" x2="548.68" y2="192.80" stroke="#8c8c8c" stroke-width="0.9" stroke-dasharray="1.1,1.25"/>
<line x1="553.67" y1="173.03" x2="553.67" y2="192.80" stroke="#8c8c8c" stroke-width="0.9" stroke-dasharray="1.1,1.25"/>
<line x1="559.30" y1="56.96" x2="559.30" y2="192.80" stroke="#8c8c8c" stroke-width="0.9" stroke-dasharray="1.1,1.25"/>
<line x1="564.29" y1="57.88" x2="564.29" y2="192.80" stroke="#8c8c8c" stroke-width="0.9" stroke-dasharray="1.1,1.25"/>
<line x1="569.29" y1="58.81" x2="569.29" y2="192.80" stroke="#8c8c8c" stroke-width="0.9" stroke-dasharray="1.1,1.25"/>
<line x1="574.28" y1="59.72" x2="574.28" y2="192.80" stroke="#8c8c8c" stroke-width="0.9" stroke-dasharray="1.1,1.25"/>
<line x1="579.28" y1="60.64" x2="579.28" y2="192.80" stroke="#8c8c8c" stroke-width="0.9" stroke-dasharray="1.1,1.25"/>
<line x1="584.27" y1="61.57" x2="584.27" y2="192.80" stroke="#8c8c8c" stroke-width="0.9" stroke-dasharray="1.1,1.25"/>
<line x1="589.27" y1="62.55" x2="589.27" y2="192.80" stroke="#8c8c8c" stroke-width="0.9" stroke-dasharray="1.1,1.25"/>
<line x1="594.26" y1="63.70" x2="594.26" y2="192.80" stroke="#8c8c8c" stroke-width="0.9" stroke-dasharray="1.1,1.25"/>
<line x1="599.26" y1="65.09" x2="599.26" y2="192.80" stroke="#8c8c8c" stroke-width="0.9" stroke-dasharray="1.1,1.25"/>
<line x1="604.25" y1="66.46" x2="604.25" y2="192.80" stroke="#8c8c8c" stroke-width="0.9" stroke-dasharray="1.1,1.25"/>
<line x1="609.25" y1="67.88" x2="609.25" y2="192.80" stroke="#8c8c8c" stroke-width="0.9" stroke-dasharray="1.1,1.25"/>
<line x1="614.25" y1="69.59" x2="614.25" y2="192.80" stroke="#8c8c8c" stroke-width="0.9" stroke-dasharray="1.1,1.25"/>
<line x1="619.24" y1="71.70" x2="619.24" y2="192.80" stroke="#8c8c8c" stroke-width="0.9" stroke-dasharray="1.1,1.25"/>
<line x1="624.24" y1="74.13" x2="624.24" y2="192.80" stroke="#8c8c8c" stroke-width="0.9" stroke-dasharray="1.1,1.25"/>
<line x1="629.23" y1="76.98" x2="629.23" y2="192.80" stroke="#8c8c8c" stroke-width="0.9" stroke-dasharray="1.1,1.25"/>
<line x1="634.23" y1="80.29" x2="634.23" y2="192.80" stroke="#8c8c8c" stroke-width="0.9" stroke-dasharray="1.1,1.25"/>
<line x1="639.22" y1="84.01" x2="639.22" y2="192.80" stroke="#8c8c8c" stroke-width="0.9" stroke-dasharray="1.1,1.25"/>
<line x1="644.22" y1="88.14" x2="644.22" y2="192.80" stroke="#8c8c8c" stroke-width="0.9" stroke-dasharray="1.1,1.25"/>
<line x1="649.21" y1="92.81" x2="649.21" y2="192.80" stroke="#8c8c8c" stroke-width="0.9" stroke-dasharray="1.1,1.25"/>
<line x1="654.21" y1="98.16" x2="654.21" y2="192.80" stroke="#8c8c8c" stroke-width="0.9" stroke-dasharray="1.1,1.25"/>
<line x1="659.20" y1="104.97" x2="659.20" y2="192.80" stroke="#8c8c8c" stroke-width="0.9" stroke-dasharray="1.1,1.25"/>
<line x1="664.20" y1="117.00" x2="664.20" y2="192.80" stroke="#8c8c8c" stroke-width="0.9" stroke-dasharray="1.1,1.25"/>
<line x1="669.19" y1="137.95" x2="669.19" y2="192.80" stroke="#8c8c8c" stroke-width="0.9" stroke-dasharray="1.1,1.25"/>
<path d="M418.9 55.5V50.5H555.1V55" fill="none" stroke="#222" stroke-width="1.0"/>
<path d="M418.80 54.00 L419.45 54.12 L420.32 54.27 L421.36 54.45 L422.55 54.67 L423.84 54.92 L425.20 55.20 L426.68 55.53 L428.31 55.90 L430.06 56.31 L431.85 56.74 L433.65 57.17 L435.40 57.60 L437.11 58.02 L438.83 58.45 L440.55 58.88 L442.27 59.32 L443.99 59.76 L445.70 60.20 L447.37 60.62 L449.01 61.01 L450.64 61.40 L452.30 61.83 L454.04 62.32 L455.90 62.90 L457.94 63.61 L460.16 64.43 L462.44 65.31 L464.71 66.21 L466.86 67.09 L468.80 67.90 L470.49 68.63 L472.01 69.32 L473.41 69.99 L474.75 70.66 L476.09 71.35 L477.50 72.10 L478.96 72.90 L480.43 73.74 L481.90 74.61 L483.37 75.49 L484.84 76.39 L486.30 77.30 L487.75 78.21 L489.20 79.12 L490.65 80.04 L492.10 80.99 L493.55 81.97 L495.00 83.00 L496.46 84.07 L497.93 85.19 L499.39 86.34 L500.86 87.52 L502.33 88.71 L503.80 89.90 L505.23 91.05 L506.62 92.14 L508.01 93.25 L509.44 94.44 L510.96 95.77 L512.60 97.30 L514.36 99.01 L516.20 100.84 L518.12 102.81 L520.13 104.95 L522.22 107.27 L524.40 109.80 L526.79 112.66 L529.41 115.87 L532.12 119.26 L534.77 122.68 L537.21 125.98 L539.30 129.00 L541.00 131.72 L542.43 134.26 L543.66 136.68 L544.73 139.03 L545.73 141.38 L546.70 143.80 L547.62 146.27 L548.44 148.75 L549.18 151.22 L549.86 153.70 L550.49 156.16 L551.10 158.60 L551.69 161.09 L552.26 163.65 L552.77 166.19 L553.24 168.65 L553.66 170.95 L554.00 173.00 L554.26 174.86 L554.45 176.59 L554.58 178.15 L554.67 179.51 L554.74 180.64 L554.80 181.50 L553.18 181.62 L553.10 180.75 L553.03 179.62 L552.93 178.27 L552.78 176.75 L552.57 175.07 L552.28 173.27 L551.89 171.25 L551.43 168.99 L550.90 166.56 L550.31 164.06 L549.68 161.55 L549.02 159.11 L548.33 156.71 L547.62 154.29 L546.91 151.87 L546.13 149.48 L545.28 147.10 L544.31 144.73 L543.28 142.39 L542.24 140.13 L541.13 137.89 L539.87 135.63 L538.41 133.27 L536.68 130.73 L534.57 127.87 L532.08 124.72 L529.36 121.43 L526.57 118.17 L523.86 115.09 L521.42 112.33 L519.26 109.88 L517.20 107.64 L515.22 105.58 L513.32 103.68 L511.50 101.91 L509.77 100.26 L508.19 98.82 L506.75 97.59 L505.38 96.49 L504.02 95.43 L502.61 94.35 L501.14 93.20 L499.65 92.02 L498.18 90.86 L496.72 89.72 L495.29 88.60 L493.88 87.52 L492.48 86.50 L491.09 85.52 L489.70 84.58 L488.30 83.67 L486.89 82.76 L485.46 81.87 L484.02 80.97 L482.57 80.07 L481.12 79.19 L479.68 78.33 L478.26 77.49 L476.84 76.69 L475.44 75.92 L474.08 75.19 L472.78 74.53 L471.51 73.89 L470.18 73.26 L468.73 72.61 L467.09 71.90 L465.20 71.11 L463.08 70.25 L460.85 69.37 L458.62 68.51 L456.47 67.72 L454.52 67.05 L452.79 66.51 L451.17 66.06 L449.58 65.65 L447.98 65.27 L446.33 64.88 L444.62 64.46 L442.89 64.01 L441.18 63.58 L439.47 63.15 L437.76 62.71 L436.06 62.27 L434.37 61.83 L432.63 61.39 L430.84 60.94 L429.06 60.50 L427.34 60.08 L425.74 59.70 L424.30 59.36 L423.00 59.08 L421.76 58.83 L420.62 58.61 L419.59 58.42 L418.72 58.26 L418.06 58.13Z" fill="#000"/>
<path d="M555.20 54.20 L556.73 54.48 L558.80 54.86 L561.27 55.32 L564.01 55.83 L566.90 56.36 L569.80 56.90 L572.89 57.47 L576.33 58.10 L579.91 58.75 L583.43 59.40 L586.69 60.03 L589.50 60.60 L591.73 61.09 L593.52 61.51 L595.06 61.90 L596.52 62.30 L598.11 62.76 L600.00 63.30 L602.22 63.91 L604.61 64.56 L607.13 65.26 L609.71 66.02 L612.28 66.86 L614.80 67.80 L617.27 68.82 L619.73 69.91 L622.20 71.09 L624.67 72.35 L627.13 73.72 L629.60 75.20 L632.10 76.82 L634.64 78.58 L637.18 80.44 L639.68 82.37 L642.10 84.33 L644.40 86.30 L646.62 88.31 L648.80 90.40 L650.91 92.53 L652.89 94.65 L654.70 96.72 L656.30 98.70 L657.65 100.52 L658.76 102.21 L659.71 103.85 L660.56 105.52 L661.37 107.31 L662.20 109.30 L663.05 111.52 L663.86 113.92 L664.64 116.44 L665.37 119.01 L666.06 121.58 L666.70 124.10 L667.30 126.55 L667.86 128.99 L668.38 131.42 L668.85 133.87 L669.26 136.36 L669.60 138.90 L669.86 141.69 L670.05 144.77 L670.18 147.88 L670.27 150.78 L670.34 153.23 L670.40 155.00 L668.80 155.06 L668.72 153.28 L668.64 150.83 L668.54 147.93 L668.39 144.85 L668.17 141.82 L667.87 139.10 L667.47 136.62 L667.00 134.20 L666.46 131.81 L665.86 129.43 L665.21 127.05 L664.52 124.65 L663.78 122.18 L663.00 119.67 L662.17 117.17 L661.29 114.75 L660.38 112.48 L659.44 110.40 L658.50 108.56 L657.59 106.94 L656.67 105.50 L655.66 104.13 L654.48 102.75 L653.03 101.24 L651.36 99.54 L649.48 97.74 L647.41 95.89 L645.21 94.05 L642.94 92.26 L640.70 90.50 L638.53 88.62 L636.23 86.73 L633.85 84.87 L631.43 83.08 L629.03 81.40 L626.69 79.86 L624.39 78.47 L622.09 77.17 L619.79 75.97 L617.47 74.85 L615.13 73.80 L612.82 72.82 L610.51 71.94 L608.11 71.14 L605.66 70.40 L603.21 69.70 L600.82 69.04 L598.57 68.40 L596.66 67.82 L595.10 67.35 L593.72 66.95 L592.29 66.56 L590.59 66.13 L588.45 65.63 L585.71 65.03 L582.49 64.36 L579.00 63.65 L575.44 62.95 L572.02 62.27 L568.92 61.65 L566.03 61.07 L563.15 60.49 L560.42 59.94 L557.95 59.44 L555.89 59.03 L554.36 58.73Z" fill="#000"/>
<line x1="421.00" y1="56.39" x2="421.00" y2="62.00" stroke="#333" stroke-width="0.9"/>
<line x1="423.50" y1="56.85" x2="423.50" y2="63.00" stroke="#333" stroke-width="0.9"/>
<line x1="425.30" y1="57.22" x2="425.30" y2="65.20" stroke="#333" stroke-width="0.9"/>
<line x1="428.00" y1="57.83" x2="428.00" y2="62.00" stroke="#333" stroke-width="0.9"/>
<line x1="431.50" y1="58.66" x2="431.50" y2="72.80" stroke="#333" stroke-width="0.9"/>
<line x1="436.00" y1="59.75" x2="436.00" y2="63.00" stroke="#333" stroke-width="0.9"/>
<line x1="444.40" y1="61.86" x2="444.40" y2="72.80" stroke="#333" stroke-width="0.9"/>
<line x1="452.70" y1="63.94" x2="452.70" y2="95.80" stroke="#333" stroke-width="0.9"/>
<line x1="458.60" y1="65.85" x2="458.60" y2="69.60" stroke="#333" stroke-width="0.9"/>
<line x1="463.00" y1="67.53" x2="463.00" y2="68.00" stroke="#333" stroke-width="0.9"/>
<line x1="474.60" y1="72.58" x2="474.60" y2="88.20" stroke="#333" stroke-width="0.9"/>
<line x1="489.50" y1="81.31" x2="489.50" y2="92.60" stroke="#333" stroke-width="0.9"/>
<line x1="496.50" y1="86.10" x2="496.50" y2="93.60" stroke="#333" stroke-width="0.9"/>
<line x1="507.90" y1="95.16" x2="508.50" y2="121.00" stroke="#333" stroke-width="0.9"/>
<line x1="516.60" y1="103.25" x2="517.20" y2="111.20" stroke="#333" stroke-width="0.9"/>
<line x1="536.60" y1="127.15" x2="537.20" y2="138.50" stroke="#333" stroke-width="0.9"/>
<line x1="545.30" y1="142.37" x2="545.90" y2="152.80" stroke="#333" stroke-width="0.9"/>
<line x1="559.90" y1="57.07" x2="559.90" y2="64.70" stroke="#333" stroke-width="0.9"/>
<line x1="563.00" y1="57.64" x2="563.00" y2="61.00" stroke="#333" stroke-width="0.9"/>
<line x1="566.80" y1="58.34" x2="566.80" y2="67.70" stroke="#333" stroke-width="0.9"/>
<line x1="569.80" y1="58.90" x2="569.80" y2="67.00" stroke="#333" stroke-width="0.9"/>
<line x1="572.00" y1="59.31" x2="572.00" y2="63.00" stroke="#333" stroke-width="0.9"/>
<line x1="576.70" y1="60.16" x2="576.70" y2="63.00" stroke="#333" stroke-width="0.9"/>
<line x1="587.50" y1="62.19" x2="587.50" y2="66.70" stroke="#333" stroke-width="0.9"/>
<line x1="591.90" y1="63.13" x2="591.90" y2="71.60" stroke="#333" stroke-width="0.9"/>
<line x1="600.40" y1="65.41" x2="600.40" y2="72.60" stroke="#333" stroke-width="0.9"/>
<line x1="606.30" y1="67.03" x2="606.30" y2="75.60" stroke="#333" stroke-width="0.9"/>
<line x1="620.10" y1="72.09" x2="620.10" y2="78.50" stroke="#333" stroke-width="0.9"/>
<line x1="636.30" y1="81.79" x2="636.30" y2="90.40" stroke="#333" stroke-width="0.9"/>
<line x1="649.80" y1="93.41" x2="649.80" y2="97.30" stroke="#333" stroke-width="0.9"/>
<line x1="655.70" y1="99.96" x2="655.70" y2="110.10" stroke="#333" stroke-width="0.9"/>
<line x1="662.60" y1="112.35" x2="662.60" y2="126.90" stroke="#333" stroke-width="0.9"/>
<rect x="418.90" y="195.10" width="251.60" height="32.00" fill="#bebebe" stroke="none" stroke-width="1"/>
<rect x="508.30" y="195.10" width="46.10" height="32.00" fill="#0000ff" stroke="none" stroke-width="1"/>
<rect x="506.30" y="195.10" width="2.20" height="32.00" fill="#a52a2a" stroke="none" stroke-width="1"/>
<rect x="430.20" y="195.10" width="1.30" height="32.00" fill="#ffff00" stroke="none" stroke-width="1"/>
<rect x="451.20" y="195.10" width="1.30" height="32.00" fill="#00ff00" stroke="none" stroke-width="1"/>
<defs><linearGradient id="tq" x1="0" x2="1" y1="0" y2="0"><stop offset="0" stop-color="#bebebe"/><stop offset="1" stop-color="#7fffd4"/></linearGradient></defs>
<rect x="565.80" y="195.10" width="24.20" height="32.00" fill="url(#tq)" stroke="none" stroke-width="1"/>
<rect x="590.00" y="195.10" width="80.50" height="32.00" fill="#7fffd4" stroke="none" stroke-width="1"/>
<line x1="418.90" y1="195.10" x2="670.50" y2="195.10" stroke="#666" stroke-width="1.1"/>
<line x1="418.90" y1="227.10" x2="670.50" y2="227.10" stroke="#666" stroke-width="1.1"/>
<text x="42.60" y="279.00" font-size="9.8" text-anchor="middle" fill="#111" font-family='"Liberation Sans", sans-serif'>turquoise</text>
<line x1="28.30" y1="297.30" x2="30.60" y2="297.30" stroke="#333" stroke-width="0.8"/>
<text x="27.30" y="299.70" font-size="6.9" text-anchor="end" fill="#4d4d4d" font-family='"Liberation Sans", sans-serif'>0.5</text>
<line x1="28.30" y1="327.30" x2="30.60" y2="327.30" stroke="#333" stroke-width="0.8"/>
<text x="27.30" y="329.70" font-size="6.9" text-anchor="end" fill="#4d4d4d" font-family='"Liberation Sans", sans-serif'>0.4</text>
<line x1="28.30" y1="357.30" x2="30.60" y2="357.30" stroke="#333" stroke-width="0.8"/>
<text x="27.30" y="359.70" font-size="6.9" text-anchor="end" fill="#4d4d4d" font-family='"Liberation Sans", sans-serif'>0.3</text>
<line x1="28.30" y1="387.30" x2="30.60" y2="387.30" stroke="#333" stroke-width="0.8"/>
<text x="27.30" y="389.70" font-size="6.9" text-anchor="end" fill="#4d4d4d" font-family='"Liberation Sans", sans-serif'>0.2</text>
<line x1="28.30" y1="417.30" x2="30.60" y2="417.30" stroke="#333" stroke-width="0.8"/>
<text x="27.30" y="419.70" font-size="6.9" text-anchor="end" fill="#4d4d4d" font-family='"Liberation Sans", sans-serif'>0.1</text>
<line x1="28.30" y1="447.30" x2="30.60" y2="447.30" stroke="#333" stroke-width="0.8"/>
<text x="27.30" y="449.70" font-size="6.9" text-anchor="end" fill="#4d4d4d" font-family='"Liberation Sans", sans-serif'>0.0</text>
<line x1="28.30" y1="477.30" x2="30.60" y2="477.30" stroke="#333" stroke-width="0.8"/>
<text x="27.30" y="479.70" font-size="6.9" text-anchor="end" fill="#4d4d4d" font-family='"Liberation Sans", sans-serif'>-0.1</text>
<path d="M30.30 447.30V434.37H31.00V430.03H31.70V428.81H32.40V427.88H33.10V426.78H33.80V425.97H34.50V424.67H35.20V424.04H35.90V423.43H36.60V422.44H37.30V421.72H38.00V420.48H38.70V419.81H39.40V418.78H40.10V417.96H40.80V416.99H41.50V415.74H42.20V414.86H42.90V413.91H43.60V413.25H44.30V412.20H45.00V410.84H45.70V409.79H46.40V408.09H47.10V406.96H47.80V405.34H48.50V403.91H49.20V402.97H49.90V400.25H50.60V397.30H51.30V394.72H52.00V390.69H52.70V385.41H53.40V378.19H54.10V348.30H54.80V294.60H55.00V447.30Z" fill="#7fffd4"/>
<rect x="30.30" y="447.30" width="0.80" height="21.90" fill="#7fffd4" stroke="none" stroke-width="1"/>
<text x="11.00" y="381.80" font-size="8.4" text-anchor="middle" fill="#111" font-family='"Liberation Sans", sans-serif' transform="rotate(-90 11.00 381.80)">kME</text>
<clipPath id="clturquoise"><rect x="58.50" y="340" width="17.10" height="80"/></clipPath>
<g clip-path="url(#clturquoise)">
<text x="0.00" y="0.00" font-size="5.3" text-anchor="middle" fill="#0a0a0a" font-style="italic" font-family='"Liberation Sans", sans-serif' transform="translate(67.20 355.00) scale(0.78 1)">SQSTM1</text>
<text x="0.00" y="0.00" font-size="5.3" text-anchor="middle" fill="#0a0a0a" font-style="italic" font-family='"Liberation Sans", sans-serif' transform="translate(67.20 361.49) scale(0.78 1)">AHNAK</text>
<text x="0.00" y="0.00" font-size="5.3" text-anchor="middle" fill="#0a0a0a" font-style="italic" font-family='"Liberation Sans", sans-serif' transform="translate(67.20 367.98) scale(0.78 1)">LAMB3</text>
<text x="0.00" y="0.00" font-size="5.3" text-anchor="middle" fill="#0a0a0a" font-style="italic" font-family='"Liberation Sans", sans-serif' transform="translate(67.20 374.47) scale(0.78 1)">RASEF</text>
<text x="0.00" y="0.00" font-size="5.3" text-anchor="middle" fill="#0a0a0a" font-style="italic" font-family='"Liberation Sans", sans-serif' transform="translate(67.20 380.96) scale(0.78 1)">LMO7</text>
<text x="0.00" y="0.00" font-size="5.3" text-anchor="middle" fill="#0a0a0a" font-style="italic" font-family='"Liberation Sans", sans-serif' transform="translate(67.20 387.45) scale(0.78 1)">CYP3A5</text>
<text x="0.00" y="0.00" font-size="5.3" text-anchor="middle" fill="#0a0a0a" font-style="italic" font-family='"Liberation Sans", sans-serif' transform="translate(67.20 393.94) scale(0.78 1)">MALAT1</text>
<text x="0.00" y="0.00" font-size="5.3" text-anchor="middle" fill="#0a0a0a" font-style="italic" font-family='"Liberation Sans", sans-serif' transform="translate(67.20 400.43) scale(0.78 1)">KLF6</text>
<text x="0.00" y="0.00" font-size="5.3" text-anchor="middle" fill="#0a0a0a" font-style="italic" font-family='"Liberation Sans", sans-serif' transform="translate(67.20 406.92) scale(0.78 1)">ELF3</text>
<text x="0.00" y="0.00" font-size="5.3" text-anchor="middle" fill="#0a0a0a" font-style="italic" font-family='"Liberation Sans", sans-serif' transform="translate(67.20 413.41) scale(0.78 1)">NEAT1</text>
</g>
<text x="115.00" y="279.00" font-size="9.8" text-anchor="middle" fill="#111" font-family='"Liberation Sans", sans-serif'>green</text>
<line x1="100.60" y1="328.30" x2="102.90" y2="328.30" stroke="#333" stroke-width="0.8"/>
<text x="99.60" y="330.70" font-size="6.9" text-anchor="end" fill="#4d4d4d" font-family='"Liberation Sans", sans-serif'>0.3</text>
<line x1="100.60" y1="375.20" x2="102.90" y2="375.20" stroke="#333" stroke-width="0.8"/>
<text x="99.60" y="377.60" font-size="6.9" text-anchor="end" fill="#4d4d4d" font-family='"Liberation Sans", sans-serif'>0.2</text>
<line x1="100.60" y1="422.10" x2="102.90" y2="422.10" stroke="#333" stroke-width="0.8"/>
<text x="99.60" y="424.50" font-size="6.9" text-anchor="end" fill="#4d4d4d" font-family='"Liberation Sans", sans-serif'>0.1</text>
<line x1="100.60" y1="469.00" x2="102.90" y2="469.00" stroke="#333" stroke-width="0.8"/>
<text x="99.60" y="471.40" font-size="6.9" text-anchor="end" fill="#4d4d4d" font-family='"Liberation Sans", sans-serif'>0.0</text>
<path d="M103.00 469.00V398.73H103.70V394.60H104.40V391.48H105.10V387.26H105.80V385.21H106.50V381.56H107.20V379.48H107.90V376.78H108.60V373.13H109.30V370.67H110.00V367.75H110.70V365.47H111.40V363.10H112.10V361.31H112.80V359.64H113.50V356.34H114.20V355.75H114.90V353.56H115.60V351.93H116.30V351.26H117.00V349.08H117.70V347.20H118.40V345.92H119.10V344.54H119.80V340.86H120.50V340.00H121.20V335.77H121.90V334.56H122.60V330.25H123.30V324.14H124.00V320.90H124.70V312.10H125.40V303.51H126.10V295.59H126.80V294.06H127.30V469.00Z" fill="#3cf20e"/>
<text x="85.30" y="381.80" font-size="8.4" text-anchor="middle" fill="#111" font-family='"Liberation Sans", sans-serif' transform="rotate(-90 85.30 381.80)">kME</text>
<clipPath id="clgreen"><rect x="130.80" y="340" width="17.10" height="80"/></clipPath>
<g clip-path="url(#clgreen)">
<text x="0.00" y="0.00" font-size="5.3" text-anchor="middle" fill="#0a0a0a" font-style="italic" font-family='"Liberation Sans", sans-serif' transform="translate(139.30 355.00) scale(0.78 1)">BST2</text>
<text x="0.00" y="0.00" font-size="5.3" text-anchor="middle" fill="#0a0a0a" font-style="italic" font-family='"Liberation Sans", sans-serif' transform="translate(139.30 361.49) scale(0.78 1)">NNMT</text>
<text x="0.00" y="0.00" font-size="5.3" text-anchor="middle" fill="#0a0a0a" font-style="italic" font-family='"Liberation Sans", sans-serif' transform="translate(139.30 367.98) scale(0.78 1)">HLA-DPB1</text>
<text x="0.00" y="0.00" font-size="5.3" text-anchor="middle" fill="#0a0a0a" font-style="italic" font-family='"Liberation Sans", sans-serif' transform="translate(139.30 374.47) scale(0.78 1)">CXCL5</text>
<text x="0.00" y="0.00" font-size="5.3" text-anchor="middle" fill="#0a0a0a" font-style="italic" font-family='"Liberation Sans", sans-serif' transform="translate(139.30 380.96) scale(0.78 1)">HLA-DPA1</text>
<text x="0.00" y="0.00" font-size="5.3" text-anchor="middle" fill="#0a0a0a" font-style="italic" font-family='"Liberation Sans", sans-serif' transform="translate(139.30 387.45) scale(0.78 1)">HLA-DMA</text>
<text x="0.00" y="0.00" font-size="5.3" text-anchor="middle" fill="#0a0a0a" font-style="italic" font-family='"Liberation Sans", sans-serif' transform="translate(139.30 393.94) scale(0.78 1)">UBD</text>
<text x="0.00" y="0.00" font-size="5.3" text-anchor="middle" fill="#0a0a0a" font-style="italic" font-family='"Liberation Sans", sans-serif' transform="translate(139.30 400.43) scale(0.78 1)">HLA-DRB1</text>
<text x="0.00" y="0.00" font-size="5.3" text-anchor="middle" fill="#0a0a0a" font-style="italic" font-family='"Liberation Sans", sans-serif' transform="translate(139.30 406.92) scale(0.78 1)">CD74</text>
<text x="0.00" y="0.00" font-size="5.3" text-anchor="middle" fill="#0a0a0a" font-style="italic" font-family='"Liberation Sans", sans-serif' transform="translate(139.30 413.41) scale(0.78 1)">HLA-DRA</text>
</g>
<text x="187.20" y="279.00" font-size="9.8" text-anchor="middle" fill="#111" font-family='"Liberation Sans", sans-serif'>blue</text>
<line x1="172.50" y1="323.20" x2="174.80" y2="323.20" stroke="#333" stroke-width="0.8"/>
<text x="171.50" y="325.60" font-size="6.9" text-anchor="end" fill="#4d4d4d" font-family='"Liberation Sans", sans-serif'>0.6</text>
<line x1="172.50" y1="371.80" x2="174.80" y2="371.80" stroke="#333" stroke-width="0.8"/>
<text x="171.50" y="374.20" font-size="6.9" text-anchor="end" fill="#4d4d4d" font-family='"Liberation Sans", sans-serif'>0.4</text>
<line x1="172.50" y1="420.40" x2="174.80" y2="420.40" stroke="#333" stroke-width="0.8"/>
<text x="171.50" y="422.80" font-size="6.9" text-anchor="end" fill="#4d4d4d" font-family='"Liberation Sans", sans-serif'>0.2</text>
<line x1="172.50" y1="469.00" x2="174.80" y2="469.00" stroke="#333" stroke-width="0.8"/>
<text x="171.50" y="471.40" font-size="6.9" text-anchor="end" fill="#4d4d4d" font-family='"Liberation Sans", sans-serif'>0.0</text>
<path d="M174.70 469.00V426.18H175.40V420.31H176.10V417.15H176.80V415.14H177.50V410.85H178.20V409.77H178.90V407.99H179.60V405.93H180.30V402.76H181.00V400.69H181.70V398.92H182.40V397.40H183.10V394.22H183.80V393.40H184.50V391.51H185.20V389.65H185.90V386.19H186.60V385.86H187.30V382.31H188.00V380.32H188.70V378.38H189.40V376.49H190.10V373.02H190.80V371.63H191.50V368.52H192.20V364.98H192.90V361.69H193.60V358.14H194.30V354.66H195.00V351.34H195.70V346.92H196.40V342.07H197.10V335.17H197.80V326.03H198.50V312.42H199.20V294.04H199.80V469.00Z" fill="#1400ff"/>
<text x="157.40" y="381.80" font-size="8.4" text-anchor="middle" fill="#111" font-family='"Liberation Sans", sans-serif' transform="rotate(-90 157.40 381.80)">kME</text>
<clipPath id="clblue"><rect x="203.30" y="340" width="17.10" height="80"/></clipPath>
<g clip-path="url(#clblue)">
<text x="0.00" y="0.00" font-size="5.3" text-anchor="middle" fill="#0a0a0a" font-style="italic" font-family='"Liberation Sans", sans-serif' transform="translate(212.00 355.00) scale(0.78 1)">EEF1A1</text>
<text x="0.00" y="0.00" font-size="5.3" text-anchor="middle" fill="#0a0a0a" font-style="italic" font-family='"Liberation Sans", sans-serif' transform="translate(212.00 361.49) scale(0.78 1)">EEF1G</text>
<text x="0.00" y="0.00" font-size="5.3" text-anchor="middle" fill="#0a0a0a" font-style="italic" font-family='"Liberation Sans", sans-serif' transform="translate(212.00 367.98) scale(0.78 1)">FKBP1A</text>
<text x="0.00" y="0.00" font-size="5.3" text-anchor="middle" fill="#0a0a0a" font-style="italic" font-family='"Liberation Sans", sans-serif' transform="translate(212.00 374.47) scale(0.78 1)">PHB</text>
<text x="0.00" y="0.00" font-size="5.3" text-anchor="middle" fill="#0a0a0a" font-style="italic" font-family='"Liberation Sans", sans-serif' transform="translate(212.00 380.96) scale(0.78 1)">C1QBP</text>
<text x="0.00" y="0.00" font-size="5.3" text-anchor="middle" fill="#0a0a0a" font-style="italic" font-family='"Liberation Sans", sans-serif' transform="translate(212.00 387.45) scale(0.78 1)">RPS7</text>
<text x="0.00" y="0.00" font-size="5.3" text-anchor="middle" fill="#0a0a0a" font-style="italic" font-family='"Liberation Sans", sans-serif' transform="translate(212.00 393.94) scale(0.78 1)">MDH2</text>
<text x="0.00" y="0.00" font-size="5.3" text-anchor="middle" fill="#0a0a0a" font-style="italic" font-family='"Liberation Sans", sans-serif' transform="translate(212.00 400.43) scale(0.78 1)">PSMB3</text>
<text x="0.00" y="0.00" font-size="5.3" text-anchor="middle" fill="#0a0a0a" font-style="italic" font-family='"Liberation Sans", sans-serif' transform="translate(212.00 406.92) scale(0.78 1)">BCAP31</text>
<text x="0.00" y="0.00" font-size="5.3" text-anchor="middle" fill="#0a0a0a" font-style="italic" font-family='"Liberation Sans", sans-serif' transform="translate(212.00 413.41) scale(0.78 1)">PARK7</text>
</g>
<text x="259.10" y="279.00" font-size="9.8" text-anchor="middle" fill="#111" font-family='"Liberation Sans", sans-serif'>brown</text>
<line x1="244.50" y1="315.00" x2="246.80" y2="315.00" stroke="#333" stroke-width="0.8"/>
<text x="243.50" y="317.40" font-size="6.9" text-anchor="end" fill="#4d4d4d" font-family='"Liberation Sans", sans-serif'>0.4</text>
<line x1="244.50" y1="353.50" x2="246.80" y2="353.50" stroke="#333" stroke-width="0.8"/>
<text x="243.50" y="355.90" font-size="6.9" text-anchor="end" fill="#4d4d4d" font-family='"Liberation Sans", sans-serif'>0.3</text>
<line x1="244.50" y1="392.00" x2="246.80" y2="392.00" stroke="#333" stroke-width="0.8"/>
<text x="243.50" y="394.40" font-size="6.9" text-anchor="end" fill="#4d4d4d" font-family='"Liberation Sans", sans-serif'>0.2</text>
<line x1="244.50" y1="430.50" x2="246.80" y2="430.50" stroke="#333" stroke-width="0.8"/>
<text x="243.50" y="432.90" font-size="6.9" text-anchor="end" fill="#4d4d4d" font-family='"Liberation Sans", sans-serif'>0.1</text>
<line x1="244.50" y1="469.00" x2="246.80" y2="469.00" stroke="#333" stroke-width="0.8"/>
<text x="243.50" y="471.40" font-size="6.9" text-anchor="end" fill="#4d4d4d" font-family='"Liberation Sans", sans-serif'>0.0</text>
<path d="M246.90 469.00V409.48H247.60V405.34H248.30V402.42H249.00V399.42H249.70V398.31H250.40V397.50H251.10V395.61H251.80V394.33H252.50V392.44H253.20V392.39H253.90V389.16H254.60V388.36H255.30V387.35H256.00V384.35H256.70V383.37H257.40V381.70H258.10V379.07H258.80V377.29H259.50V374.33H260.20V373.78H260.90V372.12H261.60V372.23H262.30V370.09H263.00V369.03H263.70V368.54H264.40V366.80H265.10V365.56H265.80V363.15H266.50V360.51H267.20V358.15H267.90V354.90H268.60V351.66H269.30V347.52H270.00V342.71H270.70V318.27H271.40V293.82H271.80V469.00Z" fill="#a52a2a"/>
<text x="229.60" y="381.80" font-size="8.4" text-anchor="middle" fill="#111" font-family='"Liberation Sans", sans-serif' transform="rotate(-90 229.60 381.80)">kME</text>
<clipPath id="clbrown"><rect x="275.30" y="340" width="17.10" height="80"/></clipPath>
<g clip-path="url(#clbrown)">
<text x="0.00" y="0.00" font-size="5.3" text-anchor="middle" fill="#0a0a0a" font-style="italic" font-family='"Liberation Sans", sans-serif' transform="translate(284.00 355.00) scale(0.78 1)">GATM</text>
<text x="0.00" y="0.00" font-size="5.3" text-anchor="middle" fill="#0a0a0a" font-style="italic" font-family='"Liberation Sans", sans-serif' transform="translate(284.00 361.49) scale(0.78 1)">CPNE1</text>
<text x="0.00" y="0.00" font-size="5.3" text-anchor="middle" fill="#0a0a0a" font-style="italic" font-family='"Liberation Sans", sans-serif' transform="translate(284.00 367.98) scale(0.78 1)">MAPRE1</text>
<text x="0.00" y="0.00" font-size="5.3" text-anchor="middle" fill="#0a0a0a" font-style="italic" font-family='"Liberation Sans", sans-serif' transform="translate(284.00 374.47) scale(0.78 1)">CTNNB1</text>
<text x="0.00" y="0.00" font-size="5.3" text-anchor="middle" fill="#0a0a0a" font-style="italic" font-family='"Liberation Sans", sans-serif' transform="translate(284.00 380.96) scale(0.78 1)">BCAM</text>
<text x="0.00" y="0.00" font-size="5.3" text-anchor="middle" fill="#0a0a0a" font-style="italic" font-family='"Liberation Sans", sans-serif' transform="translate(284.00 387.45) scale(0.78 1)">CLU</text>
<text x="0.00" y="0.00" font-size="5.3" text-anchor="middle" fill="#0a0a0a" font-style="italic" font-family='"Liberation Sans", sans-serif' transform="translate(284.00 393.94) scale(0.78 1)">MEST</text>
<text x="0.00" y="0.00" font-size="5.3" text-anchor="middle" fill="#0a0a0a" font-style="italic" font-family='"Liberation Sans", sans-serif' transform="translate(284.00 400.43) scale(0.78 1)">APMAP</text>
<text x="0.00" y="0.00" font-size="5.3" text-anchor="middle" fill="#0a0a0a" font-style="italic" font-family='"Liberation Sans", sans-serif' transform="translate(284.00 406.92) scale(0.78 1)">MDK</text>
<text x="0.00" y="0.00" font-size="5.3" text-anchor="middle" fill="#0a0a0a" font-style="italic" font-family='"Liberation Sans", sans-serif' transform="translate(284.00 413.41) scale(0.78 1)">FCGRT</text>
</g>
<text x="331.80" y="279.00" font-size="9.8" text-anchor="middle" fill="#111" font-family='"Liberation Sans", sans-serif'>yellow</text>
<line x1="316.30" y1="296.80" x2="318.60" y2="296.80" stroke="#333" stroke-width="0.8"/>
<text x="315.30" y="299.20" font-size="6.9" text-anchor="end" fill="#4d4d4d" font-family='"Liberation Sans", sans-serif'>0.4</text>
<line x1="316.30" y1="339.90" x2="318.60" y2="339.90" stroke="#333" stroke-width="0.8"/>
<text x="315.30" y="342.30" font-size="6.9" text-anchor="end" fill="#4d4d4d" font-family='"Liberation Sans", sans-serif'>0.3</text>
<line x1="316.30" y1="383.00" x2="318.60" y2="383.00" stroke="#333" stroke-width="0.8"/>
<text x="315.30" y="385.40" font-size="6.9" text-anchor="end" fill="#4d4d4d" font-family='"Liberation Sans", sans-serif'>0.2</text>
<line x1="316.30" y1="426.10" x2="318.60" y2="426.10" stroke="#333" stroke-width="0.8"/>
<text x="315.30" y="428.50" font-size="6.9" text-anchor="end" fill="#4d4d4d" font-family='"Liberation Sans", sans-serif'>0.1</text>
<line x1="316.30" y1="469.20" x2="318.60" y2="469.20" stroke="#333" stroke-width="0.8"/>
<text x="315.30" y="471.60" font-size="6.9" text-anchor="end" fill="#4d4d4d" font-family='"Liberation Sans", sans-serif'>0.0</text>
<path d="M318.90 469.20V416.87H319.60V413.75H320.30V410.32H321.00V407.85H321.70V405.76H322.40V403.61H323.10V401.29H323.80V400.24H324.50V400.24H325.20V399.48H325.90V397.65H326.60V397.50H327.30V396.14H328.00V394.53H328.70V393.01H329.40V391.72H330.10V389.49H330.80V387.89H331.50V384.91H332.20V383.06H332.90V381.35H333.60V378.86H334.30V375.31H335.00V373.65H335.70V370.28H336.40V367.32H337.10V363.44H337.80V361.52H338.50V358.11H339.20V355.80H339.90V352.01H340.60V349.24H341.30V345.06H342.00V335.46H342.70V322.01H343.40V294.64H344.10V294.64H344.20V469.20Z" fill="#f0f93c"/>
<text x="302.00" y="381.80" font-size="8.4" text-anchor="middle" fill="#111" font-family='"Liberation Sans", sans-serif' transform="rotate(-90 302.00 381.80)">kME</text>
<clipPath id="clyellow"><rect x="347.70" y="340" width="17.10" height="80"/></clipPath>
<g clip-path="url(#clyellow)">
<text x="0.00" y="0.00" font-size="5.3" text-anchor="middle" fill="#0a0a0a" font-style="italic" font-family='"Liberation Sans", sans-serif' transform="translate(356.30 355.00) scale(0.78 1)">KDM5B</text>
<text x="0.00" y="0.00" font-size="5.3" text-anchor="middle" fill="#0a0a0a" font-style="italic" font-family='"Liberation Sans", sans-serif' transform="translate(356.30 361.49) scale(0.78 1)">AMOTL2</text>
<text x="0.00" y="0.00" font-size="5.3" text-anchor="middle" fill="#0a0a0a" font-style="italic" font-family='"Liberation Sans", sans-serif' transform="translate(356.30 367.98) scale(0.78 1)">CD83</text>
<text x="0.00" y="0.00" font-size="5.3" text-anchor="middle" fill="#0a0a0a" font-style="italic" font-family='"Liberation Sans", sans-serif' transform="translate(356.30 374.47) scale(0.78 1)">CXCL8</text>
<text x="0.00" y="0.00" font-size="5.3" text-anchor="middle" fill="#0a0a0a" font-style="italic" font-family='"Liberation Sans", sans-serif' transform="translate(356.30 380.96) scale(0.78 1)">TC3HAV1</text>
<text x="0.00" y="0.00" font-size="5.3" text-anchor="middle" fill="#0a0a0a" font-style="italic" font-family='"Liberation Sans", sans-serif' transform="translate(356.30 387.45) scale(0.78 1)">SF1</text>
<text x="0.00" y="0.00" font-size="5.3" text-anchor="middle" fill="#0a0a0a" font-style="italic" font-family='"Liberation Sans", sans-serif' transform="translate(356.30 393.94) scale(0.78 1)">ARL5B</text>
<text x="0.00" y="0.00" font-size="5.3" text-anchor="middle" fill="#0a0a0a" font-style="italic" font-family='"Liberation Sans", sans-serif' transform="translate(356.30 400.43) scale(0.78 1)">ZNFX1</text>
<text x="0.00" y="0.00" font-size="5.3" text-anchor="middle" fill="#0a0a0a" font-style="italic" font-family='"Liberation Sans", sans-serif' transform="translate(356.30 406.92) scale(0.78 1)">TNFAIP3</text>
<text x="0.00" y="0.00" font-size="5.3" text-anchor="middle" fill="#0a0a0a" font-style="italic" font-family='"Liberation Sans", sans-serif' transform="translate(356.30 413.41) scale(0.78 1)">NFKBIA</text>
</g>
<path d="M382.9 288.3 L384.9 290.5 L386.8 295.5 L388.7 300.0 L392.8 306.5 L396.6 311.0 L400.0 313.2 L402.5 315.6 L405.5 318.9 L410.9 321.2 L416.5 320.5 L420.5 316.8 L423.2 312.6 L425.6 306.5 L426.0 301.0 L424.9 293.0 L427.3 291.7 L431.5 289.5 L434.5 286.0 L437.5 285.1 L441.5 285.6 L445.5 287.8 L448.8 291.0 L451.2 296.0 L452.2 302.0 L452.5 311.5 L452.0 318.5 L451.3 325.0 L448.5 333.5 L443.5 343.5 L437.5 351.0 L430.5 356.0 L422.6 359.0 L414.4 360.6 L405.1 359.6 L398.5 357.2 L395.0 354.5 L392.5 350.0 L387.0 344.0 L383.0 337.5 L380.2 329.0 L378.6 316.0 L379.2 304.0 L380.6 294.5Z" fill="#d6f5ed"/>
<path d="M385.1 308.1h1.15M383.2 302.4h1.15M394.1 316.5h1.15M387.7 319.5h1.15M384.5 336.4h1.15M383.6 294.1h1.15M383.9 291.3h1.15M382.7 319.9h1.15M378.9 313.7h1.15M384.8 302.2h1.15M389.0 300.6h1.15M382.7 315.7h1.15M387.4 313.6h1.15M386.8 298.8h1.15M384.6 312.6h1.15M383.0 320.1h1.15M381.6 332.5h1.15M381.9 312.0h1.15M386.0 321.1h1.15M382.4 322.4h1.15M382.4 292.5h1.15M384.9 296.0h1.15M388.3 300.0h1.15M387.1 308.0h1.15M381.7 321.1h1.15M389.8 328.1h1.15M381.6 300.2h1.15M386.6 326.0h1.15M380.2 298.4h1.15M385.9 322.4h1.15M385.1 313.8h1.15M383.4 301.1h1.15M385.7 309.1h1.15M386.5 306.8h1.15M387.1 338.3h1.15M393.5 313.1h1.15M381.4 298.8h1.15M385.9 298.2h1.15M392.7 338.0h1.15M386.9 304.5h1.15M389.7 329.2h1.15M380.3 299.3h1.15" stroke="#d6e0dd" stroke-width="1.15" fill="none"/>
<path d="M391.8 323.9h1.15M386.8 303.7h1.15M422.7 307.3h1.15M424.1 306.3h1.15M379.2 305.5h1.15M384.2 318.5h1.15M413.7 309.1h1.15M384.3 291.2h1.15M407.6 310.7h1.15M383.7 308.2h1.15M406.9 310.2h1.15M379.4 310.2h1.15M389.9 343.3h1.15M417.0 305.0h1.15M434.9 342.1h1.15M387.3 319.0h1.15M395.7 322.2h1.15M389.0 308.6h1.15M381.2 308.9h1.15M382.6 316.2h1.15M405.3 310.6h1.15M399.9 311.2h1.15M394.2 337.4h1.15M382.5 314.1h1.15M382.1 322.7h1.15M379.8 311.4h1.15M388.2 323.5h1.15M401.1 312.4h1.15M406.0 308.5h1.15M380.8 311.3h1.15M403.5 309.0h1.15M409.5 311.0h1.15M412.9 309.0h1.15M416.4 307.3h1.15M394.3 319.3h1.15M405.9 308.9h1.15M393.8 316.5h1.15M418.3 304.3h1.15M380.2 328.4h1.15M379.5 322.2h1.15M384.1 301.9h1.15M399.0 318.6h1.15M414.2 307.1h1.15M416.7 309.0h1.15M421.6 303.3h1.15M419.3 305.7h1.15M421.4 304.1h1.15M388.9 331.0h1.15M413.1 307.0h1.15M416.6 308.5h1.15M389.1 314.6h1.15M391.0 320.3h1.15M380.5 299.4h1.15M389.2 328.2h1.15M388.8 315.7h1.15M397.7 312.8h1.15M409.6 309.1h1.15M399.8 319.6h1.15M411.3 307.4h1.15M381.1 323.3h1.15M387.6 338.4h1.15M420.3 306.2h1.15M381.4 314.4h1.15M380.3 309.1h1.15M383.3 303.7h1.15M388.8 342.3h1.15M384.1 338.9h1.15M380.5 321.4h1.15M417.3 305.2h1.15M416.3 305.4h1.15M390.0 306.0h1.15M421.7 304.6h1.15M394.2 340.7h1.15M384.8 336.3h1.15M414.6 306.9h1.15M423.1 305.5h1.15M399.9 326.9h1.15M419.3 304.4h1.15M403.1 312.5h1.15M405.3 309.9h1.15M414.8 307.6h1.15M385.9 317.8h1.15M413.9 306.8h1.15M380.9 316.4h1.15M383.3 327.6h1.15M388.3 323.6h1.15M391.0 307.1h1.15M388.7 301.7h1.15M382.3 329.2h1.15M415.6 308.7h1.15M386.4 337.4h1.15M381.9 300.1h1.15M387.5 305.4h1.15M403.1 311.6h1.15M421.6 304.4h1.15M385.1 317.5h1.15M407.0 308.8h1.15M410.4 307.5h1.15M398.1 314.0h1.15M380.2 312.4h1.15M379.9 319.0h1.15M379.7 320.3h1.15M419.6 305.4h1.15M416.3 307.1h1.15M391.4 331.2h1.15M397.5 312.6h1.15M380.9 323.0h1.15M380.8 330.1h1.15M395.1 328.4h1.15M379.1 310.1h1.15M387.8 335.4h1.15M389.7 317.0h1.15M381.6 306.4h1.15M406.0 309.3h1.15M388.0 308.8h1.15M420.5 308.0h1.15M379.5 312.1h1.15M384.6 324.7h1.15M383.7 337.5h1.15M410.9 307.7h1.15M390.3 320.1h1.15M415.1 306.5h1.15M411.4 307.4h1.15M405.6 309.1h1.15M400.9 315.0h1.15M420.3 304.2h1.15M379.8 317.3h1.15M384.3 323.5h1.15M380.0 300.1h1.15M414.4 307.1h1.15M379.9 301.7h1.15M386.0 336.2h1.15M384.7 322.0h1.15M405.4 322.6h1.15M389.4 304.4h1.15M392.1 316.0h1.15M417.8 309.3h1.15M386.0 336.4h1.15" stroke="#c4e4dc" stroke-width="1.15" fill="none"/>
<path d="M380.3 320.3h1.15M384.8 329.3h1.15M391.2 313.0h1.15M429.3 300.1h1.15M394.6 325.0h1.15M393.3 333.0h1.15M391.6 319.5h1.15M390.7 322.7h1.15M451.0 303.5h1.15M398.3 317.3h1.15M393.8 311.1h1.15M396.6 312.5h1.15M391.2 342.7h1.15M395.7 339.5h1.15M387.3 325.9h1.15M384.5 306.7h1.15M394.1 320.5h1.15M391.7 304.9h1.15M381.1 296.5h1.15M389.3 329.3h1.15M390.0 332.2h1.15M411.2 348.4h1.15M385.1 310.4h1.15M391.8 312.1h1.15M392.8 335.8h1.15M388.7 315.0h1.15M390.5 334.3h1.15M379.8 311.7h1.15M387.3 328.2h1.15M401.6 322.8h1.15M382.0 292.1h1.15M386.8 309.3h1.15M410.5 331.9h1.15M392.9 325.7h1.15M387.9 321.9h1.15M388.1 307.8h1.15M388.8 300.6h1.15M387.0 305.7h1.15M391.9 311.4h1.15M381.7 308.3h1.15M420.6 342.9h1.15M383.8 308.5h1.15M402.8 328.2h1.15M437.8 339.1h1.15M390.1 345.5h1.15M398.9 324.7h1.15M396.8 326.1h1.15M382.2 290.4h1.15M382.1 321.0h1.15M388.2 344.3h1.15M388.5 300.3h1.15M431.6 299.1h1.15M382.9 299.2h1.15M386.4 306.8h1.15M393.2 331.9h1.15M382.8 336.3h1.15M385.2 297.9h1.15M380.6 317.0h1.15M384.8 327.3h1.15M383.2 305.3h1.15M387.0 297.5h1.15M387.6 311.8h1.15M381.8 316.3h1.15M387.3 318.9h1.15M393.4 319.3h1.15M424.1 333.5h1.15M382.1 294.9h1.15M383.2 335.9h1.15M397.0 347.6h1.15M384.7 329.2h1.15M430.1 302.0h1.15M392.9 321.6h1.15M384.0 316.7h1.15M400.0 328.7h1.15M390.5 323.9h1.15M396.0 313.3h1.15M384.4 334.1h1.15M384.3 326.2h1.15M391.4 323.3h1.15M393.4 342.9h1.15M404.5 339.1h1.15M380.0 324.9h1.15M434.6 286.9h1.15M383.6 312.7h1.15M390.9 309.3h1.15M440.4 342.7h1.15M394.5 330.2h1.15M399.9 331.7h1.15M384.5 337.1h1.15M380.9 300.8h1.15M385.5 313.1h1.15M387.1 311.3h1.15M443.3 338.9h1.15M443.4 325.3h1.15M389.6 335.0h1.15M380.7 297.4h1.15M390.5 307.6h1.15M383.0 314.5h1.15M386.0 309.4h1.15M389.1 300.9h1.15M389.4 334.4h1.15M432.0 334.6h1.15M390.3 320.1h1.15M384.2 309.4h1.15M384.4 294.7h1.15M380.4 305.0h1.15M385.9 332.1h1.15M379.0 309.7h1.15M390.6 316.9h1.15M383.3 309.3h1.15M392.8 331.4h1.15M386.7 321.4h1.15M385.0 326.9h1.15M439.0 288.3h1.15M383.8 321.0h1.15M395.4 321.0h1.15M383.9 329.0h1.15M390.0 321.7h1.15" stroke="#b4e8da" stroke-width="1.15" fill="none"/>
<path d="M392.3 340.6h1.15M387.8 333.9h1.15M393.8 315.0h1.15M449.9 321.8h1.15M414.2 340.5h1.15M404.4 337.1h1.15M433.1 329.2h1.15M445.9 335.2h1.15M392.9 317.7h1.15M444.0 314.2h1.15M388.2 322.7h1.15M401.2 345.2h1.15M406.3 328.2h1.15M387.2 323.8h1.15M445.7 309.0h1.15M415.9 342.6h1.15M402.5 320.5h1.15M381.8 299.9h1.15M396.8 353.8h1.15M390.0 320.9h1.15M389.7 342.4h1.15M401.8 315.4h1.15M392.6 327.8h1.15M438.3 289.9h1.15M393.3 317.3h1.15M382.4 308.4h1.15M391.9 306.4h1.15M384.2 305.5h1.15M385.9 315.0h1.15M391.5 315.6h1.15M386.0 313.7h1.15M393.0 320.6h1.15M417.4 324.9h1.15M401.0 315.1h1.15M398.8 333.6h1.15M398.9 326.7h1.15M412.6 342.0h1.15M394.6 329.1h1.15M397.9 329.7h1.15M390.9 304.4h1.15M401.4 317.2h1.15M399.0 339.2h1.15M390.5 335.6h1.15M382.7 290.2h1.15M386.5 319.3h1.15M397.0 323.6h1.15M395.1 321.6h1.15M383.5 327.2h1.15M381.5 316.6h1.15M382.6 325.1h1.15M399.4 336.7h1.15M401.3 357.5h1.15M390.5 329.5h1.15M390.3 311.6h1.15M397.6 340.5h1.15M423.7 326.3h1.15M436.1 304.7h1.15M440.5 316.0h1.15M435.3 303.6h1.15M390.2 323.7h1.15M390.8 340.0h1.15M415.3 321.6h1.15M442.7 325.7h1.15M401.7 332.4h1.15M408.8 308.1h1.15M446.5 289.5h1.15M381.3 311.8h1.15M379.2 308.6h1.15M437.7 332.1h1.15M383.6 303.8h1.15M434.9 289.3h1.15M380.7 319.9h1.15M444.3 327.1h1.15M399.5 343.9h1.15M388.8 344.3h1.15M396.7 326.9h1.15M407.0 333.8h1.15M388.7 333.5h1.15M381.5 297.2h1.15M448.3 300.9h1.15M393.0 346.2h1.15M409.4 356.6h1.15M445.0 340.2h1.15M408.8 320.9h1.15M387.3 330.4h1.15M432.5 303.6h1.15M388.8 322.3h1.15M429.1 346.4h1.15M388.9 328.3h1.15M399.0 331.1h1.15M388.6 342.4h1.15M387.6 323.6h1.15M392.1 324.9h1.15M440.1 343.7h1.15M426.9 308.9h1.15M398.9 321.2h1.15M437.3 306.2h1.15M383.1 307.7h1.15M388.6 304.5h1.15M389.1 335.6h1.15M384.0 295.6h1.15M381.2 307.3h1.15M386.8 341.6h1.15M390.1 340.8h1.15M424.5 357.9h1.15M399.1 320.2h1.15M433.2 345.8h1.15M401.2 330.6h1.15M415.3 346.5h1.15M383.6 334.0h1.15M386.8 332.2h1.15M385.0 306.4h1.15M392.4 317.0h1.15M391.6 348.4h1.15M418.5 322.1h1.15M381.5 315.5h1.15M400.0 340.5h1.15M433.5 347.2h1.15M429.8 315.6h1.15M388.3 305.6h1.15M384.3 315.4h1.15M408.7 322.5h1.15M405.0 341.6h1.15M413.3 333.6h1.15M400.9 321.1h1.15M400.8 316.7h1.15M388.0 326.2h1.15M406.1 356.8h1.15M430.2 348.7h1.15M402.5 317.3h1.15M388.1 338.5h1.15M383.3 324.6h1.15M397.5 352.5h1.15M398.4 326.8h1.15M397.8 333.9h1.15M387.3 313.6h1.15M397.0 343.5h1.15M446.6 304.1h1.15M433.5 337.9h1.15M441.3 286.5h1.15M442.2 336.7h1.15M390.6 341.2h1.15M416.7 327.6h1.15M439.1 325.8h1.15M391.2 307.5h1.15M392.8 349.1h1.15M398.0 345.3h1.15M388.7 341.3h1.15M441.5 305.5h1.15M391.2 335.2h1.15M379.9 301.0h1.15M394.1 335.5h1.15M391.3 338.0h1.15M382.1 334.2h1.15M405.6 325.9h1.15M399.5 326.6h1.15M387.8 328.9h1.15M399.4 313.7h1.15M397.4 339.0h1.15M449.0 316.7h1.15M393.2 347.0h1.15M393.5 340.8h1.15M386.3 323.3h1.15M408.1 326.1h1.15M439.5 299.1h1.15M385.3 315.9h1.15" stroke="#a2ebd9" stroke-width="1.15" fill="none"/>
<path d="M411.0 349.0h1.15M384.5 310.3h1.15M437.8 298.5h1.15M436.0 310.0h1.15M444.2 330.9h1.15M395.9 338.5h1.15M424.9 314.1h1.15M424.9 322.5h1.15M424.1 342.5h1.15M438.0 298.1h1.15M399.8 340.4h1.15M441.3 327.6h1.15M450.7 324.2h1.15M398.2 321.0h1.15M441.8 331.5h1.15M396.0 340.2h1.15M437.2 294.6h1.15M430.9 350.4h1.15M425.2 315.7h1.15M397.4 354.3h1.15M430.1 343.3h1.15M403.6 320.6h1.15M427.5 328.3h1.15M399.3 339.5h1.15M433.1 303.1h1.15M406.0 321.4h1.15M438.7 313.0h1.15M402.4 326.7h1.15M436.2 290.8h1.15M394.0 335.3h1.15M388.8 341.7h1.15M432.1 338.8h1.15M417.3 339.0h1.15M419.1 357.7h1.15M443.2 324.2h1.15M431.7 292.4h1.15M446.8 291.9h1.15M440.0 300.8h1.15M413.0 339.4h1.15M431.3 303.0h1.15M406.2 326.0h1.15M447.0 317.5h1.15M445.7 326.7h1.15M388.6 339.2h1.15M421.2 338.0h1.15M418.8 327.6h1.15M428.3 341.1h1.15M401.1 322.9h1.15M393.2 333.1h1.15M381.8 293.1h1.15M431.5 295.3h1.15M415.9 349.3h1.15M407.5 349.1h1.15M391.8 326.8h1.15M448.2 312.3h1.15M451.2 307.7h1.15M402.6 322.8h1.15M403.6 317.1h1.15M392.0 320.7h1.15M424.1 357.6h1.15M415.0 334.4h1.15M450.7 310.3h1.15M431.7 304.1h1.15M431.7 309.8h1.15M425.4 315.2h1.15M424.3 343.2h1.15M438.0 296.2h1.15M393.2 350.9h1.15M437.4 340.9h1.15M427.3 346.6h1.15M405.4 333.5h1.15M433.7 326.5h1.15M442.2 332.8h1.15M425.0 319.0h1.15M447.9 296.5h1.15M408.2 350.9h1.15M437.8 323.9h1.15M393.5 332.8h1.15M416.0 356.6h1.15M399.4 351.3h1.15M411.1 357.5h1.15M400.0 337.8h1.15M445.2 304.1h1.15M440.2 334.4h1.15M387.0 320.6h1.15M402.7 322.2h1.15M433.4 304.6h1.15M378.7 315.9h1.15M422.5 358.0h1.15M440.4 309.9h1.15M433.3 316.8h1.15M434.4 313.7h1.15M415.0 337.4h1.15M385.9 341.4h1.15M422.4 324.5h1.15M446.2 319.6h1.15M434.5 292.8h1.15M429.7 312.7h1.15M398.8 323.7h1.15M433.0 325.6h1.15M448.8 323.4h1.15M422.3 337.1h1.15M448.0 291.6h1.15M435.8 304.9h1.15M403.2 336.3h1.15M427.1 304.8h1.15M402.7 340.2h1.15M394.3 316.5h1.15M439.4 286.1h1.15M397.5 332.0h1.15M405.7 320.9h1.15M421.6 316.7h1.15M395.6 348.0h1.15M445.7 323.3h1.15M395.2 334.7h1.15M392.2 343.2h1.15M401.9 343.3h1.15M433.8 315.6h1.15M431.3 294.8h1.15M441.9 322.0h1.15M451.5 311.0h1.15M394.6 315.3h1.15M440.8 314.7h1.15M430.8 338.1h1.15M401.5 318.6h1.15M450.3 310.9h1.15M428.8 298.0h1.15M441.5 320.7h1.15M429.9 323.0h1.15M407.8 327.0h1.15M410.7 342.9h1.15M440.1 299.0h1.15M439.8 304.2h1.15M413.1 349.1h1.15M435.1 339.9h1.15M393.0 333.7h1.15M433.5 350.8h1.15M441.7 300.1h1.15M432.8 328.5h1.15M419.1 350.1h1.15M397.8 330.7h1.15M423.3 320.8h1.15M388.5 326.5h1.15M426.3 312.7h1.15M435.7 331.2h1.15M408.5 334.3h1.15M404.4 311.8h1.15M404.5 358.9h1.15M428.7 293.1h1.15M384.0 317.4h1.15M433.3 308.0h1.15M428.6 310.5h1.15M428.5 320.1h1.15M422.9 354.0h1.15M390.3 327.8h1.15M386.2 310.3h1.15M393.7 340.5h1.15M434.0 343.3h1.15M438.2 320.1h1.15M409.2 337.8h1.15M409.7 346.0h1.15M443.0 341.3h1.15M402.7 343.6h1.15M401.5 347.9h1.15M430.7 302.7h1.15M397.7 347.5h1.15M384.7 337.7h1.15M437.2 328.3h1.15M441.0 329.5h1.15M396.5 331.7h1.15M428.9 352.8h1.15M419.0 324.4h1.15M428.9 327.4h1.15M387.3 318.4h1.15M391.4 345.0h1.15M424.8 321.5h1.15M424.2 326.7h1.15M435.6 306.9h1.15M433.7 330.9h1.15M425.6 326.7h1.15M402.3 357.6h1.15M421.3 324.7h1.15M401.6 322.3h1.15M436.5 292.9h1.15M407.3 343.7h1.15M395.5 344.2h1.15M416.1 345.8h1.15M422.7 320.0h1.15M426.4 316.2h1.15M423.9 326.8h1.15M430.3 352.3h1.15M440.2 316.8h1.15M399.7 335.6h1.15M443.5 298.7h1.15M448.8 320.5h1.15M408.2 353.6h1.15M399.5 353.3h1.15M432.9 296.8h1.15M434.6 290.7h1.15M448.5 291.1h1.15M399.8 314.8h1.15M408.7 334.6h1.15M393.6 322.2h1.15M429.9 291.0h1.15M427.5 355.7h1.15M437.6 324.2h1.15M434.1 330.6h1.15M398.7 331.1h1.15M413.5 334.2h1.15M434.5 344.1h1.15M432.4 337.6h1.15M427.6 326.8h1.15M424.2 331.6h1.15M416.0 360.2h1.15M434.5 307.3h1.15M385.0 332.6h1.15M397.4 328.4h1.15M412.5 345.0h1.15M401.6 316.5h1.15M424.0 354.5h1.15M411.8 326.4h1.15M439.0 320.8h1.15M401.5 323.6h1.15M441.6 293.6h1.15M444.3 299.8h1.15M423.9 322.6h1.15M395.3 345.3h1.15M419.7 339.3h1.15M404.6 345.7h1.15M451.8 313.5h1.15M386.8 323.5h1.15M393.5 323.8h1.15M446.5 295.4h1.15M437.0 338.4h1.15M427.3 345.5h1.15M392.2 349.7h1.15M419.2 354.6h1.15M420.6 317.5h1.15M448.5 318.5h1.15M383.6 325.9h1.15M439.2 331.4h1.15M410.1 334.5h1.15M424.3 311.3h1.15M446.8 318.6h1.15M421.0 341.2h1.15M400.1 324.4h1.15M396.0 341.1h1.15M444.2 297.4h1.15M420.5 354.3h1.15M412.9 352.1h1.15M420.2 325.6h1.15M398.3 318.8h1.15M399.9 340.0h1.15M416.9 335.0h1.15M396.4 340.5h1.15M404.2 345.0h1.15M434.0 341.2h1.15M387.8 336.6h1.15M398.9 316.3h1.15M405.2 338.1h1.15M431.8 337.9h1.15M438.1 326.0h1.15M393.6 336.0h1.15M405.1 359.4h1.15M434.6 287.1h1.15M415.2 342.8h1.15M433.6 297.4h1.15M435.9 350.4h1.15M419.5 338.0h1.15M449.9 293.8h1.15M437.4 326.3h1.15M439.8 343.8h1.15M431.7 312.4h1.15M451.3 322.7h1.15M391.8 335.1h1.15M399.1 326.4h1.15M398.6 321.6h1.15M413.9 340.4h1.15M404.6 323.7h1.15M418.0 352.9h1.15M447.9 315.3h1.15M395.5 346.7h1.15M419.2 341.8h1.15M416.8 359.7h1.15M430.0 297.4h1.15M418.7 340.5h1.15M411.0 330.7h1.15M443.5 312.3h1.15M391.1 338.2h1.15M451.2 324.6h1.15M392.3 349.7h1.15M382.6 322.3h1.15M433.7 323.1h1.15M412.3 338.4h1.15M443.3 297.7h1.15M391.0 311.5h1.15M437.2 348.1h1.15M422.7 318.8h1.15M423.1 314.3h1.15M435.9 293.5h1.15M429.9 311.5h1.15M447.4 291.1h1.15M396.5 348.8h1.15M434.4 340.6h1.15M405.7 329.0h1.15M435.1 305.7h1.15M421.8 320.6h1.15M393.8 318.6h1.15M400.6 320.1h1.15M432.3 353.0h1.15M416.5 359.9h1.15M405.1 310.2h1.15M406.2 333.0h1.15M444.5 305.0h1.15M449.5 308.6h1.15M444.1 327.8h1.15M445.3 324.3h1.15" stroke="#92efd7" stroke-width="1.15" fill="none"/>
<path d="M411.9 327.5h1.15M416.1 329.6h1.15M427.0 331.8h1.15M415.5 335.3h1.15M441.0 338.8h1.15M435.5 315.4h1.15M441.5 314.4h1.15M446.3 320.7h1.15M451.5 315.2h1.15M436.4 305.5h1.15M400.8 352.2h1.15M405.9 319.4h1.15M405.2 352.7h1.15M429.8 329.4h1.15M383.6 326.5h1.15M433.3 353.4h1.15M409.3 345.1h1.15M421.7 331.3h1.15M432.6 314.5h1.15M430.4 322.8h1.15M424.1 355.0h1.15M400.6 336.5h1.15M402.5 335.6h1.15M451.7 319.4h1.15M443.5 288.2h1.15M440.2 303.0h1.15M425.2 318.9h1.15M425.2 334.8h1.15M431.6 298.6h1.15M430.3 324.6h1.15M446.0 291.6h1.15M448.8 320.2h1.15M432.1 347.2h1.15M426.1 339.5h1.15M418.3 345.1h1.15M402.0 354.2h1.15M419.3 343.4h1.15M438.7 289.9h1.15M416.7 340.0h1.15M441.0 337.4h1.15M393.6 349.7h1.15M418.2 323.2h1.15M420.2 322.3h1.15M447.4 294.8h1.15M429.5 309.5h1.15M404.7 332.1h1.15M442.3 302.7h1.15M401.6 355.1h1.15M444.6 295.2h1.15M440.4 317.0h1.15M429.2 354.3h1.15M419.4 324.1h1.15M447.5 292.2h1.15M412.7 343.1h1.15M430.6 349.2h1.15M433.8 344.1h1.15M435.4 315.8h1.15M425.9 332.4h1.15M428.0 310.7h1.15M430.6 342.9h1.15M424.2 341.1h1.15M438.7 290.8h1.15M422.8 342.7h1.15M448.9 317.0h1.15M417.5 330.4h1.15M427.1 327.6h1.15M407.2 353.2h1.15M410.2 321.3h1.15M432.2 320.6h1.15M424.8 319.6h1.15M411.2 335.8h1.15M421.7 316.9h1.15M436.8 332.5h1.15M429.4 327.9h1.15M422.4 333.1h1.15M438.7 332.4h1.15M420.3 321.8h1.15M432.4 337.7h1.15M404.8 340.2h1.15M431.2 328.3h1.15M446.5 318.3h1.15M437.8 326.1h1.15M444.1 306.4h1.15M418.8 328.1h1.15M433.3 353.3h1.15M426.7 303.7h1.15M417.1 343.1h1.15M446.6 316.2h1.15M438.2 317.0h1.15M436.2 298.6h1.15M401.4 326.7h1.15M439.3 321.4h1.15M446.6 311.0h1.15M438.1 314.3h1.15M417.6 324.2h1.15M427.3 303.1h1.15M405.9 345.6h1.15M398.0 325.6h1.15M449.7 329.6h1.15M442.3 308.1h1.15M412.6 358.5h1.15M438.0 300.7h1.15M407.4 335.7h1.15M432.9 310.0h1.15M432.3 310.2h1.15M440.0 292.0h1.15M428.8 338.8h1.15M435.5 347.4h1.15M427.5 331.3h1.15M416.2 344.9h1.15M431.7 348.5h1.15M384.2 303.6h1.15M405.1 320.2h1.15M439.3 330.7h1.15M399.6 353.2h1.15M440.3 299.1h1.15M380.4 298.7h1.15M427.4 308.4h1.15M438.3 286.2h1.15M428.3 296.0h1.15M424.8 337.4h1.15M420.4 353.8h1.15M432.4 353.4h1.15M432.9 330.4h1.15M427.9 350.9h1.15M409.6 346.2h1.15M420.5 353.7h1.15M400.2 355.1h1.15M440.8 311.9h1.15M432.4 308.8h1.15M431.3 299.9h1.15M427.8 345.1h1.15M405.9 335.3h1.15M411.0 325.2h1.15M423.0 306.6h1.15M419.7 334.0h1.15M405.0 335.0h1.15M429.3 324.6h1.15M436.5 297.6h1.15M411.0 343.8h1.15M422.8 339.3h1.15M420.9 351.3h1.15M397.7 345.7h1.15M420.7 326.3h1.15M440.3 344.8h1.15M414.7 342.9h1.15M412.1 341.6h1.15M444.8 295.8h1.15M435.2 340.8h1.15M412.6 355.9h1.15M403.7 337.8h1.15M442.8 329.9h1.15M406.6 344.4h1.15M442.7 300.5h1.15M429.9 312.6h1.15M407.5 355.2h1.15M435.4 340.0h1.15M402.4 343.6h1.15M431.0 304.8h1.15M442.9 302.2h1.15M420.4 346.5h1.15M443.1 302.8h1.15M408.2 321.1h1.15M444.9 328.0h1.15M425.1 332.2h1.15M398.7 348.0h1.15M429.0 302.8h1.15M420.1 348.2h1.15M401.5 339.4h1.15M430.2 337.2h1.15M414.8 327.8h1.15M434.2 325.6h1.15M435.9 321.5h1.15M443.2 289.1h1.15M420.6 317.0h1.15M431.0 332.3h1.15M428.2 302.6h1.15M421.9 356.5h1.15M450.8 295.2h1.15M399.5 340.6h1.15M418.7 321.7h1.15M451.6 314.6h1.15M448.0 304.1h1.15M444.9 308.5h1.15M438.5 315.1h1.15M427.3 332.4h1.15M398.8 356.4h1.15M432.4 298.4h1.15M404.9 342.3h1.15M401.3 324.1h1.15M417.5 346.6h1.15M440.1 343.3h1.15M449.3 315.6h1.15M445.9 309.4h1.15M429.0 298.5h1.15M404.3 317.7h1.15M408.3 309.4h1.15M402.1 342.3h1.15M410.3 358.2h1.15M431.0 298.5h1.15M398.5 336.5h1.15M425.6 313.7h1.15M424.2 352.5h1.15M429.7 319.4h1.15M427.9 316.9h1.15M423.0 328.5h1.15M413.2 360.5h1.15M441.0 334.3h1.15M443.3 339.1h1.15M412.1 325.8h1.15M442.9 299.9h1.15M437.0 322.3h1.15M442.1 343.6h1.15M419.2 353.8h1.15M424.3 353.5h1.15M430.0 320.5h1.15M448.6 331.4h1.15M433.2 312.4h1.15M401.3 316.0h1.15M409.9 347.3h1.15M395.6 329.0h1.15M428.8 319.6h1.15M448.0 314.5h1.15M406.1 340.0h1.15M408.1 334.9h1.15M393.7 313.1h1.15M424.7 341.4h1.15M432.8 344.0h1.15M418.2 325.6h1.15M400.6 323.6h1.15M441.8 292.9h1.15M441.8 296.8h1.15M408.5 331.5h1.15M433.1 339.2h1.15M426.2 349.4h1.15M427.1 352.4h1.15M415.6 353.7h1.15M423.7 329.8h1.15M437.7 317.3h1.15M437.1 333.8h1.15M446.8 290.7h1.15M428.0 326.7h1.15M418.2 348.8h1.15M428.6 355.5h1.15M441.2 312.2h1.15M421.8 321.5h1.15M430.3 302.8h1.15M406.3 339.5h1.15M420.6 326.9h1.15M438.4 292.4h1.15M435.4 329.3h1.15M399.8 350.2h1.15M443.5 297.2h1.15M405.2 344.8h1.15M405.8 340.4h1.15M445.6 292.8h1.15M452.2 308.5h1.15M442.1 344.6h1.15M430.9 316.7h1.15M414.5 327.4h1.15M403.2 338.4h1.15M416.9 357.9h1.15M440.2 337.3h1.15M417.0 329.1h1.15M444.1 298.4h1.15M413.9 344.6h1.15M443.8 299.0h1.15M404.7 354.2h1.15M452.3 314.4h1.15M436.7 310.7h1.15M437.3 313.8h1.15M433.6 321.2h1.15M447.9 311.0h1.15M428.9 352.1h1.15M417.5 326.1h1.15M400.1 345.3h1.15M423.2 349.3h1.15M433.2 301.1h1.15M437.9 322.9h1.15M427.0 320.3h1.15M404.7 352.2h1.15M402.9 354.4h1.15M395.6 329.4h1.15M429.5 311.4h1.15M419.9 322.8h1.15M421.1 333.0h1.15M410.0 327.2h1.15M394.1 348.4h1.15M438.7 345.9h1.15M437.4 331.4h1.15M428.0 293.3h1.15M430.1 342.6h1.15M387.4 340.2h1.15M435.6 344.7h1.15M443.5 328.3h1.15M426.6 337.2h1.15M399.8 357.4h1.15M424.5 358.2h1.15M426.0 316.5h1.15M413.5 357.9h1.15M429.4 342.9h1.15M419.6 333.7h1.15M409.9 328.6h1.15M407.3 320.6h1.15M442.9 323.7h1.15M444.5 304.6h1.15M436.9 315.5h1.15M428.3 341.3h1.15M428.2 318.1h1.15M427.0 302.2h1.15M409.2 343.2h1.15M422.3 339.1h1.15M449.3 305.9h1.15M420.5 325.2h1.15M424.9 352.9h1.15M427.7 307.0h1.15M412.5 325.3h1.15M449.5 311.8h1.15M434.9 290.7h1.15M429.8 348.0h1.15M404.9 325.8h1.15M427.3 296.3h1.15M401.3 351.3h1.15M433.4 305.1h1.15M414.7 337.8h1.15M442.5 301.1h1.15M394.4 321.0h1.15M394.2 352.1h1.15M443.4 302.2h1.15M441.1 326.3h1.15M442.7 289.8h1.15M430.3 298.4h1.15M430.2 309.5h1.15M424.7 335.1h1.15M415.8 320.6h1.15M417.7 325.5h1.15M429.3 337.6h1.15M420.2 356.4h1.15M445.5 336.2h1.15M421.3 333.0h1.15M427.3 301.3h1.15M403.0 357.8h1.15M425.8 304.9h1.15M413.5 357.8h1.15M446.8 336.3h1.15M441.3 338.2h1.15M425.1 314.1h1.15M406.8 325.4h1.15M451.7 313.2h1.15M422.4 354.5h1.15M415.5 343.2h1.15M420.4 303.2h1.15M443.8 314.0h1.15M441.5 330.7h1.15M444.6 329.7h1.15M407.4 326.2h1.15M406.8 338.8h1.15M405.9 338.7h1.15M434.3 344.6h1.15M430.5 355.3h1.15M442.0 343.2h1.15M421.3 352.6h1.15M436.6 289.7h1.15M402.2 331.1h1.15M431.7 302.7h1.15M414.1 339.9h1.15M433.6 320.2h1.15M423.3 347.6h1.15M428.3 340.4h1.15M425.5 320.6h1.15M416.2 323.8h1.15M423.5 336.8h1.15M407.6 355.0h1.15M428.8 296.5h1.15M423.2 343.0h1.15M444.4 321.7h1.15M448.2 310.5h1.15M426.9 320.7h1.15M393.6 333.9h1.15M402.0 340.0h1.15M433.8 342.7h1.15M430.2 340.3h1.15M405.5 334.2h1.15M447.1 308.0h1.15M444.9 291.4h1.15M394.9 351.7h1.15M404.5 321.0h1.15M425.9 346.0h1.15M437.4 330.8h1.15M443.1 328.7h1.15M434.8 334.1h1.15M413.5 344.1h1.15M416.7 339.2h1.15M429.7 328.3h1.15M441.4 346.1h1.15M435.7 329.9h1.15M440.7 313.9h1.15M451.3 298.5h1.15M446.2 321.0h1.15M432.0 344.0h1.15M412.1 337.1h1.15M422.3 348.8h1.15M435.4 302.5h1.15M432.3 345.1h1.15M401.7 343.4h1.15M413.4 345.3h1.15M397.6 346.6h1.15M429.1 300.5h1.15M432.8 310.9h1.15M443.9 312.4h1.15M411.3 324.9h1.15M436.9 327.3h1.15M434.3 323.2h1.15M417.4 347.3h1.15M442.4 289.0h1.15M401.0 352.1h1.15M433.0 351.8h1.15M432.9 289.6h1.15M412.5 333.9h1.15M452.4 308.7h1.15M441.1 288.2h1.15M431.7 320.9h1.15M417.4 335.3h1.15M402.3 333.6h1.15M432.9 348.5h1.15M440.8 288.3h1.15M414.6 352.9h1.15M428.7 335.5h1.15M446.5 336.4h1.15M423.7 340.6h1.15M424.0 311.9h1.15M429.1 354.2h1.15M428.1 331.1h1.15M442.7 331.5h1.15M440.3 332.5h1.15M442.0 343.7h1.15M445.3 315.2h1.15M429.8 292.4h1.15M392.7 325.3h1.15M400.6 353.1h1.15M439.2 343.5h1.15M424.8 331.0h1.15M400.7 331.1h1.15M402.0 335.5h1.15M449.2 294.6h1.15M431.8 325.1h1.15M439.4 322.7h1.15M417.5 355.3h1.15M432.1 338.3h1.15M417.4 306.0h1.15M404.2 343.6h1.15M423.9 332.3h1.15M449.7 307.5h1.15M405.6 357.3h1.15M443.6 288.8h1.15M405.7 354.2h1.15M410.5 331.8h1.15M427.3 292.3h1.15M411.1 346.4h1.15M437.4 285.3h1.15M419.6 325.8h1.15M407.2 359.8h1.15M448.6 300.9h1.15M423.5 321.2h1.15M422.5 333.9h1.15M438.1 347.8h1.15M438.4 301.4h1.15M435.3 321.0h1.15M410.3 350.8h1.15M398.4 331.9h1.15M449.4 323.4h1.15M439.3 341.2h1.15M440.0 331.4h1.15M410.4 349.2h1.15M447.8 300.7h1.15M443.3 296.7h1.15M397.4 351.1h1.15M423.3 356.1h1.15M424.7 329.2h1.15M420.7 303.8h1.15M432.0 302.1h1.15M410.6 349.3h1.15M426.2 330.6h1.15M412.8 337.3h1.15M433.1 339.7h1.15M431.9 331.8h1.15M430.8 317.5h1.15M444.6 298.5h1.15M446.1 319.1h1.15M425.8 320.0h1.15M411.1 351.1h1.15M437.4 330.6h1.15M419.1 350.9h1.15M437.7 346.1h1.15M397.1 339.2h1.15M410.8 337.0h1.15M397.8 351.1h1.15M439.4 305.9h1.15M442.1 329.9h1.15M447.3 321.7h1.15M438.4 305.8h1.15M415.9 337.3h1.15M422.0 342.1h1.15M435.5 318.9h1.15M411.4 325.9h1.15M430.7 348.7h1.15M399.3 356.7h1.15M410.5 347.0h1.15M435.6 322.4h1.15M427.4 355.1h1.15M432.9 304.3h1.15M422.8 317.7h1.15M429.3 317.3h1.15M449.1 321.5h1.15M425.2 294.0h1.15M450.3 313.0h1.15M435.5 290.1h1.15M423.3 324.9h1.15M441.2 325.4h1.15M429.8 327.0h1.15M427.6 303.9h1.15M425.4 342.4h1.15M449.3 295.4h1.15M422.0 339.2h1.15M409.5 356.2h1.15M404.4 329.1h1.15M417.4 341.1h1.15M404.1 349.2h1.15M429.2 298.6h1.15M444.0 338.6h1.15M447.8 316.4h1.15M441.1 333.1h1.15M409.0 357.6h1.15M401.3 357.8h1.15M418.1 335.9h1.15M415.1 337.5h1.15M428.6 292.0h1.15M434.8 297.1h1.15M407.2 347.9h1.15M418.8 340.7h1.15M423.1 321.3h1.15M411.2 336.6h1.15M443.9 326.4h1.15M448.6 326.0h1.15M410.7 331.4h1.15M410.1 325.0h1.15M431.7 297.6h1.15M423.7 340.8h1.15M419.8 340.7h1.15M440.3 334.5h1.15M391.6 323.6h1.15M426.4 335.6h1.15M447.6 334.3h1.15M412.9 341.8h1.15M424.6 333.4h1.15M441.9 332.9h1.15M430.6 300.7h1.15M435.2 305.4h1.15M433.5 334.4h1.15M425.8 344.9h1.15M422.1 356.5h1.15M443.9 311.3h1.15M435.0 297.8h1.15M428.0 318.3h1.15M405.2 340.8h1.15M434.5 348.6h1.15M400.3 347.6h1.15M423.3 326.2h1.15M421.9 336.2h1.15M393.3 330.2h1.15M426.8 314.4h1.15M451.5 313.9h1.15M403.4 336.5h1.15M436.3 323.5h1.15M436.7 333.2h1.15M434.9 294.1h1.15M430.2 313.3h1.15M423.1 347.2h1.15M404.5 355.8h1.15M441.1 319.1h1.15M446.4 301.8h1.15M412.2 358.1h1.15M419.0 333.6h1.15M442.1 301.2h1.15M449.9 296.1h1.15M411.6 321.6h1.15M444.4 323.0h1.15M404.4 341.3h1.15M431.9 304.1h1.15M433.6 337.5h1.15M418.0 356.5h1.15M424.4 315.1h1.15M443.4 318.0h1.15M395.4 347.2h1.15M414.4 352.6h1.15M432.2 329.6h1.15M432.4 306.3h1.15M416.5 359.5h1.15M405.1 325.6h1.15M433.2 311.1h1.15M414.9 356.5h1.15M426.0 357.4h1.15M421.9 340.1h1.15M446.9 294.6h1.15M424.2 312.7h1.15M449.7 295.4h1.15M430.4 312.0h1.15M435.9 339.4h1.15M429.5 352.5h1.15M442.5 286.3h1.15M443.5 301.0h1.15M431.6 341.0h1.15M404.6 359.3h1.15M418.8 322.0h1.15M439.3 303.4h1.15M433.5 335.3h1.15M400.3 343.6h1.15M440.6 315.0h1.15M441.9 298.3h1.15M439.3 321.4h1.15M435.9 307.3h1.15M406.3 327.3h1.15M433.9 315.9h1.15M434.3 291.0h1.15M446.6 326.4h1.15M444.2 294.9h1.15M404.7 345.1h1.15M420.8 338.6h1.15M431.5 310.3h1.15M410.9 346.8h1.15M431.0 320.2h1.15M415.4 342.3h1.15M433.0 341.0h1.15M445.6 313.3h1.15M446.0 289.2h1.15M404.6 332.3h1.15M418.4 350.8h1.15M424.9 352.0h1.15M426.1 332.9h1.15M425.4 334.8h1.15M425.2 354.2h1.15M446.5 320.5h1.15M422.2 337.9h1.15M414.3 332.4h1.15M430.1 291.7h1.15M428.2 341.4h1.15M383.8 294.2h1.15M401.8 340.8h1.15M409.7 328.6h1.15M434.7 302.0h1.15M430.6 351.1h1.15M410.4 349.4h1.15M408.1 345.3h1.15M431.0 347.0h1.15M446.1 301.4h1.15M395.5 349.3h1.15M402.0 354.2h1.15M449.2 309.4h1.15M422.3 316.5h1.15M415.0 345.9h1.15M396.0 341.4h1.15M404.8 343.2h1.15M412.5 327.2h1.15M429.1 299.7h1.15M430.4 313.0h1.15M433.9 323.1h1.15M425.7 337.0h1.15M442.4 323.2h1.15M411.8 321.4h1.15M429.0 324.2h1.15M421.7 320.2h1.15M433.7 332.0h1.15M432.8 300.0h1.15M406.5 329.4h1.15M419.0 358.9h1.15M426.6 329.9h1.15M418.8 329.9h1.15M409.3 353.9h1.15M445.6 336.5h1.15M415.8 332.9h1.15M431.6 335.7h1.15M399.0 334.2h1.15M420.4 350.6h1.15M426.1 334.1h1.15M393.5 342.2h1.15M416.4 331.9h1.15M436.3 339.8h1.15M411.9 336.7h1.15M399.7 322.3h1.15M413.1 358.8h1.15M425.6 312.5h1.15M448.2 293.0h1.15M449.3 318.4h1.15M416.9 328.8h1.15M448.7 294.0h1.15M442.6 308.0h1.15M419.0 331.3h1.15M432.8 349.9h1.15M412.4 335.6h1.15M435.0 316.4h1.15M431.1 324.2h1.15M395.6 344.0h1.15M406.7 326.8h1.15M410.5 342.7h1.15M415.8 343.1h1.15M452.3 308.7h1.15M401.2 353.5h1.15M425.4 337.4h1.15M420.3 356.7h1.15M435.9 334.3h1.15M444.1 326.8h1.15M435.7 323.7h1.15M410.1 330.5h1.15M414.2 348.0h1.15M410.6 356.6h1.15M427.8 292.2h1.15M444.2 337.3h1.15M398.6 326.0h1.15M426.7 349.3h1.15M420.5 351.4h1.15M414.0 350.7h1.15M408.4 358.6h1.15M421.5 325.3h1.15M397.6 313.7h1.15M439.8 340.9h1.15M432.9 334.6h1.15M448.4 305.1h1.15M426.8 343.0h1.15M439.9 298.5h1.15M419.0 318.9h1.15M403.6 331.5h1.15M441.4 330.9h1.15M400.7 334.8h1.15M410.3 344.6h1.15M444.2 288.2h1.15M440.3 312.2h1.15M411.9 346.8h1.15M432.1 338.9h1.15M413.5 341.9h1.15M442.9 316.0h1.15M417.2 342.2h1.15M442.7 311.7h1.15M446.9 332.5h1.15M413.4 326.9h1.15M413.0 329.2h1.15M440.2 307.0h1.15M408.4 310.0h1.15M427.4 304.4h1.15M444.6 298.7h1.15M401.2 343.9h1.15M425.7 343.5h1.15M432.3 323.5h1.15M446.9 320.7h1.15M449.3 309.1h1.15M441.6 298.8h1.15M430.9 325.0h1.15M432.3 328.4h1.15M425.1 357.9h1.15M411.9 347.1h1.15M440.0 288.6h1.15M424.1 339.0h1.15M444.3 323.4h1.15M405.0 321.4h1.15M436.8 298.7h1.15M414.4 355.5h1.15M431.3 352.7h1.15M438.8 336.9h1.15M433.9 295.2h1.15M392.2 347.8h1.15M429.3 339.6h1.15M436.4 296.6h1.15M426.9 307.2h1.15M419.1 328.3h1.15M427.9 298.3h1.15M442.3 325.8h1.15M417.4 328.7h1.15M450.4 301.0h1.15M429.2 311.7h1.15M420.2 319.3h1.15M425.1 320.2h1.15M431.9 305.6h1.15M427.1 303.9h1.15M442.2 305.4h1.15M414.7 337.0h1.15M420.3 358.2h1.15M431.9 323.7h1.15M436.6 293.5h1.15M450.6 297.5h1.15M409.2 325.5h1.15M429.9 311.8h1.15M437.1 307.7h1.15M450.7 326.8h1.15M435.2 286.3h1.15M451.9 301.1h1.15M391.5 337.8h1.15M405.2 311.5h1.15M436.8 301.7h1.15M438.2 343.2h1.15M449.9 303.2h1.15M428.0 342.6h1.15M430.0 312.2h1.15M430.4 297.5h1.15M410.9 329.9h1.15M449.3 299.6h1.15M444.6 301.7h1.15M405.6 351.8h1.15M440.7 342.5h1.15M419.8 334.9h1.15M432.0 314.7h1.15M425.0 310.1h1.15M437.0 288.3h1.15M419.9 319.5h1.15M419.4 348.9h1.15M450.6 319.9h1.15M446.3 318.3h1.15M436.8 288.3h1.15M412.2 338.5h1.15M420.8 338.3h1.15M396.2 355.1h1.15M401.1 324.2h1.15M417.8 354.2h1.15M439.0 341.6h1.15M440.7 338.0h1.15M418.9 318.7h1.15M410.2 353.5h1.15M424.6 324.6h1.15M413.9 337.7h1.15M432.7 346.9h1.15M439.6 300.0h1.15M440.3 288.4h1.15M415.5 344.2h1.15M448.5 331.5h1.15M416.6 350.7h1.15M418.1 326.0h1.15M413.4 356.6h1.15M438.4 321.6h1.15M420.3 334.9h1.15M413.3 359.3h1.15M421.6 335.1h1.15M419.8 354.6h1.15M407.3 334.4h1.15M426.7 310.0h1.15M448.6 324.6h1.15M438.7 319.6h1.15M427.9 352.4h1.15M419.0 345.7h1.15M420.2 354.6h1.15M431.9 352.6h1.15M422.8 321.1h1.15M416.6 338.9h1.15M440.7 346.9h1.15M399.8 340.3h1.15M451.4 301.5h1.15M421.5 345.5h1.15M444.7 310.2h1.15M426.4 347.5h1.15M435.9 297.9h1.15M421.0 335.6h1.15M430.2 301.5h1.15M446.1 299.7h1.15M422.2 339.0h1.15M447.9 327.7h1.15M433.2 353.2h1.15M434.0 333.8h1.15M406.7 359.8h1.15M441.2 297.0h1.15M445.4 292.1h1.15M425.1 311.4h1.15M423.9 339.7h1.15M423.3 328.5h1.15M427.7 352.5h1.15M409.1 358.2h1.15M448.8 291.9h1.15M428.7 322.4h1.15M424.8 309.7h1.15M437.8 344.4h1.15M418.6 322.6h1.15M415.3 345.0h1.15M451.2 310.7h1.15M429.9 353.5h1.15M416.8 354.8h1.15M418.6 346.2h1.15M401.3 354.3h1.15M411.6 333.3h1.15M379.8 300.4h1.15M433.4 287.5h1.15M398.9 339.5h1.15M397.3 312.9h1.15M405.8 354.4h1.15M446.8 320.5h1.15M396.8 326.3h1.15M411.6 323.9h1.15M426.0 346.1h1.15M436.9 309.2h1.15M408.3 352.4h1.15M429.5 337.2h1.15M432.0 330.8h1.15M416.0 359.1h1.15M413.0 342.8h1.15M427.0 307.6h1.15M445.9 335.9h1.15M411.0 331.3h1.15M401.3 331.2h1.15M442.4 344.8h1.15M434.3 299.2h1.15M433.9 344.9h1.15M424.0 351.8h1.15M439.2 309.9h1.15M415.2 329.3h1.15M444.5 317.3h1.15M450.8 302.6h1.15M441.6 291.5h1.15M440.2 303.2h1.15M404.5 357.6h1.15M442.2 288.1h1.15M436.6 345.0h1.15M421.6 321.9h1.15M405.5 355.8h1.15M406.2 351.8h1.15" stroke="#80f3d6" stroke-width="1.15" fill="none"/>
<text x="0.00" y="0.00" font-size="8.0" text-anchor="middle" fill="#000" font-family='"Liberation Sans", sans-serif' transform="translate(415.80 277.40) scale(0.74 1)">turquoise</text>
<defs><linearGradient id="gturquoise" x1="0" x2="0" y1="0" y2="1"><stop offset="0" stop-color="#78f5d5"/><stop offset="0.5" stop-color="#f0f0f0"/><stop offset="1" stop-color="#c4c4c4"/></linearGradient></defs>
<rect x="464.30" y="310.20" width="3.00" height="35.00" fill="url(#gturquoise)" stroke="none" stroke-width="1"/>
<line x1="469.80" y1="310.50" x2="472.20" y2="310.50" stroke="#333" stroke-width="1.0"/>
<line x1="469.80" y1="345.30" x2="472.20" y2="345.30" stroke="#333" stroke-width="0.9"/>
<path d="M488.9 288.3 L490.9 290.5 L492.9 295.5 L494.8 300.0 L498.9 306.5 L502.7 311.0 L506.1 313.2 L508.6 315.6 L511.6 318.9 L516.9 321.2 L522.5 320.5 L526.5 316.8 L529.2 312.6 L531.6 306.5 L532.0 301.0 L530.9 293.0 L533.4 291.7 L537.5 289.5 L540.5 286.0 L543.5 285.1 L547.5 285.6 L551.5 287.8 L554.9 291.0 L557.2 296.0 L558.2 302.0 L558.5 311.5 L558.0 318.5 L557.4 325.0 L554.5 333.5 L549.5 343.5 L543.5 351.0 L536.5 356.0 L528.6 359.0 L520.4 360.6 L511.2 359.6 L504.6 357.2 L501.1 354.5 L498.6 350.0 L493.1 344.0 L489.1 337.5 L486.2 329.0 L484.7 316.0 L485.2 304.0 L486.7 294.5Z" fill="#f4f5e3"/>
<path d="M484.9 313.5h1.15M504.6 346.6h1.15M494.2 308.8h1.15M496.9 347.0h1.15M492.6 302.9h1.15M491.7 326.8h1.15M501.3 325.1h1.15M502.5 315.9h1.15M486.3 322.1h1.15M501.1 325.9h1.15M501.0 326.4h1.15M496.3 339.4h1.15M491.7 337.1h1.15M488.7 293.2h1.15M492.5 337.1h1.15M506.4 355.2h1.15M491.7 341.0h1.15M507.3 312.0h1.15M499.4 309.5h1.15M509.0 335.0h1.15M496.9 318.3h1.15M487.8 293.9h1.15M512.5 322.3h1.15M495.0 302.3h1.15M503.6 325.6h1.15M485.7 322.5h1.15M500.5 316.0h1.15M500.8 315.6h1.15M491.1 322.2h1.15M497.2 317.7h1.15M489.1 292.1h1.15M496.7 320.8h1.15M499.2 316.3h1.15M497.2 332.4h1.15M508.4 329.6h1.15M504.7 326.7h1.15M496.3 305.7h1.15M493.5 300.2h1.15M490.6 298.4h1.15M496.7 330.2h1.15M516.8 359.8h1.15M492.0 305.8h1.15M513.5 308.8h1.15M493.9 332.4h1.15M488.5 295.2h1.15M494.8 345.2h1.15M503.3 339.4h1.15M490.9 328.6h1.15M504.0 321.8h1.15M502.0 323.1h1.15M492.3 329.1h1.15M498.9 341.4h1.15M507.2 353.0h1.15M497.1 334.2h1.15M525.9 352.1h1.15M505.1 318.8h1.15M492.0 330.4h1.15M493.1 342.9h1.15M486.3 311.2h1.15M485.5 319.9h1.15M511.4 310.7h1.15M488.4 325.0h1.15M500.8 331.2h1.15M485.7 316.4h1.15M491.2 323.6h1.15M504.7 311.3h1.15M490.0 311.1h1.15M496.8 331.1h1.15M501.1 345.1h1.15M493.8 331.1h1.15M495.0 329.0h1.15M494.3 333.2h1.15M489.5 308.3h1.15M501.7 348.1h1.15M503.2 340.8h1.15M498.0 339.2h1.15M488.1 334.2h1.15M505.9 331.6h1.15M495.5 305.8h1.15M506.9 355.6h1.15M495.1 327.4h1.15M505.6 348.4h1.15M494.8 335.6h1.15M489.4 300.0h1.15M516.0 335.6h1.15M486.8 303.3h1.15M486.2 308.4h1.15M488.3 292.5h1.15M497.6 313.3h1.15M501.9 326.0h1.15M504.2 333.0h1.15M496.2 309.9h1.15M497.7 347.2h1.15M496.2 342.1h1.15M500.0 323.0h1.15M495.1 306.9h1.15M517.7 326.5h1.15M491.7 313.9h1.15M492.6 339.9h1.15M494.7 306.2h1.15M496.1 326.8h1.15M490.7 308.3h1.15M499.5 345.0h1.15M493.1 298.5h1.15M488.9 328.9h1.15M491.7 313.6h1.15M504.5 336.0h1.15M502.6 323.4h1.15M504.1 348.3h1.15M490.7 292.6h1.15M495.8 323.7h1.15M503.0 337.0h1.15M493.7 311.2h1.15M498.7 350.2h1.15M492.3 325.2h1.15M488.1 320.8h1.15M494.9 315.5h1.15M500.0 319.0h1.15M512.8 308.7h1.15M501.6 331.5h1.15M490.9 302.1h1.15M506.0 335.9h1.15M485.9 309.5h1.15M509.6 348.0h1.15M509.2 309.8h1.15M519.5 337.3h1.15M489.2 291.0h1.15M495.1 335.6h1.15M504.4 340.5h1.15M488.9 308.2h1.15M496.4 319.3h1.15M491.8 303.6h1.15M503.7 320.6h1.15M494.7 304.0h1.15M492.3 331.9h1.15M506.4 341.9h1.15M487.3 316.2h1.15M492.1 318.1h1.15M505.8 315.5h1.15M494.2 305.7h1.15M488.4 293.5h1.15M496.9 320.0h1.15M500.1 341.2h1.15M498.2 337.5h1.15M490.0 337.1h1.15M510.3 353.4h1.15M486.4 300.7h1.15M492.4 325.8h1.15M506.7 326.3h1.15M490.4 293.2h1.15M490.0 318.1h1.15M495.6 331.1h1.15M503.7 320.9h1.15M512.0 334.9h1.15M490.9 306.9h1.15M495.4 324.1h1.15M491.7 318.5h1.15M503.9 338.5h1.15M499.6 350.4h1.15M492.0 301.6h1.15M505.8 331.1h1.15M505.2 341.4h1.15M485.5 311.8h1.15M491.7 312.5h1.15M490.6 303.3h1.15M496.0 332.5h1.15M502.4 334.2h1.15M509.1 345.6h1.15M498.1 336.2h1.15M495.0 345.7h1.15M485.2 306.7h1.15M487.8 299.1h1.15M493.0 323.4h1.15M488.5 323.5h1.15M506.2 353.8h1.15M490.6 295.0h1.15M501.9 315.7h1.15M500.6 322.2h1.15M498.8 339.2h1.15M486.2 312.2h1.15M491.7 339.2h1.15M495.5 330.0h1.15M519.3 310.1h1.15M516.9 352.7h1.15M488.2 325.6h1.15M506.1 341.8h1.15M507.8 322.0h1.15M494.8 329.8h1.15M486.1 323.6h1.15M507.2 319.9h1.15M491.4 295.0h1.15M498.7 316.4h1.15M489.9 311.6h1.15M500.7 318.1h1.15M505.1 319.0h1.15M498.0 335.1h1.15M496.0 302.5h1.15M513.8 320.4h1.15M554.6 326.4h1.15M509.2 343.1h1.15M507.5 320.0h1.15M497.8 334.0h1.15M487.3 328.5h1.15M504.6 320.3h1.15M490.3 317.8h1.15M489.5 309.1h1.15M501.5 322.3h1.15M486.0 305.4h1.15M506.2 314.7h1.15M487.1 316.5h1.15M530.2 319.6h1.15M507.6 310.1h1.15M494.2 344.3h1.15M515.3 324.9h1.15M488.2 291.3h1.15M494.0 338.2h1.15M492.3 300.7h1.15M503.6 315.9h1.15M485.7 311.7h1.15M519.0 310.6h1.15M506.5 316.2h1.15M500.3 337.9h1.15M493.4 334.8h1.15M501.0 350.1h1.15M501.5 348.8h1.15M485.0 318.6h1.15M486.6 325.6h1.15M492.6 336.4h1.15M488.8 288.8h1.15M508.3 311.2h1.15M494.6 304.4h1.15M500.9 346.1h1.15M493.1 340.5h1.15M502.8 326.3h1.15M497.7 312.2h1.15M495.2 339.5h1.15M501.9 311.6h1.15M495.0 321.0h1.15M504.9 351.2h1.15M508.0 335.5h1.15M524.1 333.7h1.15M488.8 329.8h1.15M504.8 337.5h1.15M498.7 346.8h1.15M493.6 300.8h1.15M502.9 316.0h1.15M502.2 348.3h1.15M492.6 327.3h1.15M494.1 315.2h1.15M513.7 329.3h1.15M510.5 319.0h1.15M511.6 311.7h1.15M505.9 329.1h1.15M493.0 313.6h1.15M514.0 328.7h1.15M502.1 325.2h1.15M492.8 331.6h1.15M515.7 347.3h1.15M500.3 328.7h1.15M499.1 317.0h1.15M490.8 305.7h1.15M503.0 312.9h1.15M499.4 328.4h1.15M510.6 326.9h1.15M488.7 304.4h1.15M493.0 337.8h1.15M491.0 317.2h1.15M490.3 302.2h1.15M494.4 320.1h1.15M487.0 316.4h1.15M513.8 343.1h1.15M503.1 350.6h1.15M502.4 353.5h1.15M493.9 301.4h1.15M502.0 327.8h1.15M503.5 340.4h1.15M501.3 330.5h1.15M500.2 320.5h1.15M504.5 313.4h1.15M515.2 321.8h1.15M493.4 326.0h1.15M510.7 320.0h1.15M488.8 328.0h1.15M509.3 330.8h1.15M500.2 323.4h1.15M508.2 347.9h1.15M500.9 342.4h1.15M504.5 336.4h1.15M499.7 320.1h1.15M506.1 352.1h1.15M492.7 342.9h1.15M492.6 321.9h1.15M493.7 341.9h1.15M487.2 298.4h1.15M505.7 330.1h1.15M495.0 325.9h1.15M495.1 301.9h1.15M505.8 311.0h1.15M490.3 311.6h1.15M489.6 291.8h1.15M486.8 316.0h1.15M497.1 327.6h1.15M491.3 303.3h1.15M489.6 307.8h1.15M508.6 334.8h1.15M488.3 297.4h1.15M505.1 339.8h1.15M512.9 326.0h1.15M488.2 313.6h1.15M496.1 324.6h1.15M485.3 313.7h1.15M495.4 345.4h1.15M500.9 320.2h1.15M506.5 335.2h1.15M507.9 344.5h1.15M485.4 313.2h1.15M504.5 330.8h1.15M485.6 321.5h1.15M506.7 324.0h1.15M510.8 322.2h1.15M495.8 307.9h1.15M489.7 319.2h1.15M493.1 298.0h1.15M492.5 312.0h1.15M487.6 328.8h1.15M493.9 336.9h1.15M492.6 309.9h1.15M492.3 329.2h1.15M502.1 333.5h1.15M486.1 309.1h1.15M487.2 301.9h1.15M487.1 325.5h1.15M511.9 327.2h1.15M489.9 338.1h1.15M495.1 315.3h1.15M485.2 307.7h1.15M495.8 332.2h1.15M500.1 347.2h1.15M516.3 308.9h1.15M495.9 323.1h1.15M519.0 309.1h1.15M519.0 308.7h1.15M495.5 339.9h1.15M494.5 331.0h1.15M511.8 328.7h1.15M506.7 309.8h1.15M501.7 351.6h1.15M508.5 339.5h1.15M494.2 303.0h1.15M505.5 337.9h1.15M497.9 313.4h1.15M494.3 313.7h1.15M495.7 325.4h1.15M493.2 339.2h1.15M498.0 324.1h1.15M536.4 335.2h1.15M488.0 333.5h1.15M518.8 325.1h1.15M498.5 346.6h1.15M508.0 327.0h1.15M488.1 326.9h1.15M497.8 312.6h1.15M495.9 318.7h1.15M518.6 351.0h1.15M489.2 326.4h1.15M503.6 343.4h1.15M497.0 329.5h1.15M512.7 333.7h1.15M487.8 308.9h1.15" stroke="#dfe0ce" stroke-width="1.15" fill="none"/>
<path d="M525.9 335.3h1.15M494.9 318.4h1.15M489.6 337.2h1.15M492.5 317.2h1.15M486.8 306.0h1.15M505.9 351.4h1.15M516.7 359.4h1.15M539.2 327.8h1.15M510.5 308.7h1.15M499.2 317.9h1.15M502.8 319.9h1.15M513.2 351.4h1.15M499.9 351.9h1.15M497.9 308.7h1.15M524.3 319.1h1.15M515.2 324.3h1.15M540.8 317.2h1.15M520.2 340.6h1.15M503.0 316.8h1.15M497.0 315.4h1.15M505.2 348.9h1.15M513.3 358.5h1.15M523.4 344.1h1.15M507.9 355.8h1.15M502.6 350.3h1.15M506.2 345.3h1.15M509.1 358.0h1.15M504.0 352.6h1.15M493.0 335.0h1.15M510.5 321.3h1.15M488.7 321.0h1.15M520.2 349.8h1.15M514.4 332.7h1.15M486.3 319.0h1.15M502.4 355.2h1.15M548.2 324.1h1.15M497.2 329.9h1.15M518.2 308.9h1.15M506.6 339.5h1.15M516.1 339.6h1.15M508.4 320.1h1.15M523.3 320.3h1.15M490.6 302.1h1.15M533.0 353.6h1.15M544.1 323.1h1.15M507.9 341.6h1.15M507.1 332.9h1.15M525.7 342.0h1.15M497.9 329.4h1.15M507.9 334.0h1.15M510.3 348.6h1.15M497.5 323.9h1.15M507.6 326.7h1.15M543.0 347.8h1.15M510.3 346.6h1.15M525.5 355.3h1.15M508.4 342.1h1.15M542.6 338.2h1.15M510.5 351.1h1.15M515.7 327.8h1.15M509.2 336.2h1.15M509.6 312.5h1.15M500.6 350.6h1.15M551.9 312.7h1.15M539.8 342.5h1.15M544.0 349.8h1.15M502.9 331.2h1.15M549.4 336.5h1.15M501.6 310.3h1.15M517.0 341.4h1.15M499.3 309.6h1.15M506.0 348.9h1.15M503.8 321.1h1.15M508.2 310.3h1.15M510.8 338.8h1.15M513.6 359.8h1.15M512.1 353.4h1.15M528.3 332.6h1.15M486.1 301.1h1.15M494.5 337.3h1.15M513.5 309.1h1.15M500.0 322.4h1.15M501.7 319.1h1.15M509.3 333.5h1.15M510.9 333.5h1.15M498.8 338.0h1.15M516.0 334.0h1.15M499.4 343.4h1.15M529.9 316.1h1.15M509.1 318.0h1.15M526.5 359.1h1.15M505.1 325.3h1.15M523.9 347.0h1.15M491.4 339.9h1.15M490.7 329.3h1.15M507.6 309.9h1.15M528.1 346.8h1.15M512.3 310.4h1.15M496.6 337.4h1.15M537.6 315.4h1.15M531.0 327.6h1.15M525.5 304.4h1.15M519.8 326.0h1.15M499.0 349.1h1.15M500.7 345.6h1.15M538.0 350.1h1.15M516.9 348.5h1.15M529.9 348.5h1.15M488.3 299.4h1.15M490.4 313.3h1.15M488.3 332.8h1.15M499.3 349.4h1.15M552.2 316.7h1.15M508.8 333.0h1.15M509.7 345.1h1.15M497.3 324.8h1.15M540.6 317.3h1.15M505.3 353.7h1.15M521.2 327.7h1.15M494.1 299.3h1.15M531.2 350.3h1.15M509.0 326.8h1.15M491.8 305.8h1.15M498.1 342.8h1.15M508.9 332.7h1.15M504.3 341.0h1.15M524.4 354.4h1.15M521.3 321.7h1.15M492.4 313.8h1.15M492.5 342.6h1.15M531.6 329.5h1.15M501.6 332.7h1.15M526.1 334.5h1.15M537.9 334.0h1.15M515.5 340.9h1.15M513.0 358.2h1.15M493.4 326.8h1.15M542.6 348.6h1.15M491.7 334.0h1.15M515.6 326.0h1.15M507.7 334.5h1.15M507.1 334.4h1.15M520.7 333.2h1.15M543.2 334.3h1.15M498.1 340.9h1.15M532.6 325.2h1.15M513.9 334.4h1.15M487.4 322.5h1.15M532.8 351.0h1.15M524.2 337.7h1.15M509.6 346.4h1.15M547.2 317.6h1.15M508.2 328.1h1.15M521.7 338.5h1.15M515.6 329.6h1.15M527.6 346.7h1.15M524.4 349.8h1.15M499.1 342.3h1.15M503.9 313.4h1.15M534.7 348.1h1.15M517.8 325.5h1.15M506.6 327.0h1.15M525.2 305.6h1.15M517.7 309.9h1.15M515.8 309.2h1.15M500.7 312.8h1.15M490.0 291.0h1.15M539.5 346.8h1.15M505.2 324.5h1.15M541.8 328.7h1.15M501.7 353.3h1.15M513.8 309.8h1.15M499.8 340.9h1.15M515.7 324.9h1.15M510.3 310.8h1.15M505.4 341.9h1.15M495.5 332.6h1.15M502.2 346.4h1.15M512.5 353.9h1.15M531.8 327.4h1.15M543.0 322.8h1.15M505.9 355.4h1.15M510.0 356.2h1.15M518.6 343.8h1.15M509.5 339.4h1.15M518.3 346.0h1.15M496.4 324.0h1.15M522.9 307.1h1.15M528.0 338.4h1.15M517.6 354.7h1.15M556.3 316.0h1.15M513.0 344.2h1.15M520.5 332.1h1.15M491.8 326.4h1.15M510.9 351.7h1.15M512.9 308.1h1.15M513.5 342.0h1.15M545.9 341.5h1.15M536.3 323.5h1.15M530.0 304.7h1.15M498.1 330.0h1.15M522.8 309.8h1.15M512.4 325.1h1.15M515.2 331.7h1.15M523.0 342.6h1.15M487.8 311.1h1.15M553.4 313.3h1.15M512.3 355.7h1.15M512.2 340.8h1.15M500.8 349.2h1.15M500.9 345.2h1.15M518.4 332.3h1.15M486.0 308.8h1.15M512.6 335.7h1.15M529.0 326.7h1.15M505.5 347.7h1.15M508.9 333.5h1.15M502.2 345.4h1.15M532.4 300.8h1.15M496.7 334.2h1.15M510.9 332.4h1.15M505.1 343.5h1.15M556.4 322.4h1.15M547.3 345.2h1.15M508.0 321.9h1.15M509.7 345.4h1.15M497.8 347.5h1.15M523.5 308.1h1.15M513.9 327.2h1.15M506.4 350.7h1.15M536.1 353.4h1.15M521.0 306.6h1.15M542.9 314.7h1.15M524.2 305.4h1.15M542.5 340.6h1.15M508.8 328.0h1.15M498.7 327.4h1.15M525.7 354.5h1.15M516.4 321.4h1.15M499.5 314.0h1.15M555.3 328.1h1.15M512.3 328.9h1.15M497.8 311.1h1.15M519.9 308.0h1.15M505.2 335.1h1.15M551.4 312.8h1.15M518.5 344.8h1.15M489.5 326.6h1.15M496.6 334.2h1.15M498.3 316.6h1.15M496.5 331.6h1.15M513.0 334.9h1.15M522.3 347.8h1.15M545.9 345.5h1.15M511.6 345.2h1.15M507.6 335.4h1.15M528.2 351.5h1.15M509.9 332.7h1.15M527.4 307.8h1.15M525.8 330.9h1.15M491.8 297.1h1.15M489.7 299.7h1.15M510.1 338.7h1.15M505.9 348.3h1.15M549.4 331.7h1.15M517.9 350.0h1.15M486.0 318.3h1.15M530.3 348.2h1.15M497.6 346.6h1.15M509.7 323.0h1.15M505.2 336.6h1.15M514.9 322.0h1.15M502.0 323.3h1.15M503.4 327.5h1.15M525.7 305.7h1.15M557.3 311.5h1.15M508.1 337.6h1.15M516.0 329.2h1.15M552.3 321.9h1.15M545.4 328.3h1.15M514.8 325.4h1.15M554.1 303.9h1.15M511.8 309.6h1.15M515.8 339.2h1.15M512.0 352.1h1.15M502.1 332.0h1.15M501.0 349.8h1.15M524.0 343.0h1.15M511.4 327.9h1.15M513.5 327.4h1.15M523.9 323.4h1.15M503.1 322.4h1.15M502.5 345.9h1.15M535.7 321.0h1.15M546.3 307.0h1.15M523.3 304.7h1.15M552.4 321.8h1.15M525.8 303.6h1.15M499.5 325.2h1.15M486.4 326.2h1.15M489.1 299.7h1.15M545.7 339.0h1.15M510.5 334.6h1.15M543.1 312.2h1.15M493.4 333.7h1.15M520.4 331.9h1.15M513.2 330.6h1.15" stroke="#e2e3ad" stroke-width="1.15" fill="none"/>
<path d="M519.6 335.0h1.15M528.7 321.2h1.15M516.3 324.4h1.15M509.9 333.4h1.15M508.2 344.8h1.15M519.9 332.7h1.15M541.1 316.7h1.15M524.2 345.0h1.15M507.5 337.9h1.15M541.1 315.0h1.15M535.1 311.6h1.15M539.0 309.5h1.15M542.9 316.3h1.15M511.0 340.8h1.15M544.1 323.4h1.15M531.7 320.5h1.15M548.2 337.5h1.15M546.0 342.6h1.15M513.0 331.5h1.15M525.2 330.3h1.15M502.8 346.5h1.15M554.3 314.8h1.15M533.7 331.8h1.15M553.9 325.2h1.15M532.4 318.1h1.15M543.8 325.1h1.15M534.8 351.1h1.15M556.5 325.5h1.15M497.3 347.8h1.15M533.6 306.5h1.15M540.4 347.6h1.15M530.7 312.2h1.15M516.8 354.3h1.15M534.6 320.6h1.15M534.9 329.9h1.15M552.6 334.4h1.15M529.7 337.7h1.15M516.7 350.5h1.15M536.3 352.3h1.15M552.8 314.8h1.15M520.2 325.0h1.15M526.0 352.0h1.15M528.8 316.3h1.15M531.1 319.7h1.15M534.3 333.5h1.15M548.3 343.0h1.15M516.5 342.4h1.15M512.8 348.2h1.15M517.5 330.7h1.15M530.7 349.4h1.15M545.2 313.4h1.15M515.5 343.0h1.15M546.5 315.1h1.15M556.0 305.4h1.15M515.3 353.1h1.15M535.0 349.8h1.15M529.2 353.0h1.15M531.1 293.9h1.15M512.0 341.5h1.15M529.0 346.4h1.15M545.5 347.1h1.15M551.4 339.5h1.15M525.9 307.8h1.15M551.8 315.8h1.15M535.3 343.3h1.15M526.8 323.8h1.15M507.7 335.3h1.15M553.6 324.7h1.15M544.8 332.6h1.15M513.3 322.9h1.15M533.7 327.6h1.15M548.0 321.2h1.15M521.3 324.1h1.15M520.9 344.5h1.15M553.5 301.3h1.15M521.3 350.5h1.15M520.1 337.6h1.15M544.7 338.8h1.15M522.7 347.7h1.15M545.2 311.6h1.15M522.3 334.3h1.15M517.3 342.5h1.15M552.1 305.2h1.15M546.4 324.9h1.15M531.3 336.7h1.15M542.7 327.9h1.15M534.3 310.6h1.15M537.7 318.4h1.15M536.9 300.9h1.15M509.7 340.4h1.15M513.8 327.2h1.15M548.9 313.1h1.15M539.9 337.3h1.15M486.4 297.2h1.15M517.2 334.5h1.15M525.3 357.7h1.15M528.7 315.5h1.15M501.3 338.8h1.15M507.4 333.6h1.15M519.8 348.3h1.15M535.6 300.1h1.15M533.3 339.8h1.15M551.4 312.9h1.15M512.1 327.9h1.15M528.3 352.3h1.15M542.7 330.4h1.15M537.7 340.1h1.15M544.0 343.5h1.15M524.1 324.0h1.15M532.0 309.4h1.15M529.3 340.5h1.15M510.7 349.3h1.15M538.7 313.0h1.15M505.9 339.1h1.15M519.6 350.7h1.15M533.9 319.0h1.15M553.1 330.4h1.15M530.1 342.6h1.15M542.5 324.2h1.15M543.0 328.3h1.15M541.0 319.1h1.15M533.7 305.5h1.15M498.9 346.1h1.15M545.2 328.3h1.15M530.3 313.1h1.15M526.5 345.2h1.15M539.0 306.4h1.15M516.4 351.3h1.15M533.3 336.9h1.15M547.8 333.1h1.15M533.7 341.2h1.15M516.4 335.0h1.15M536.6 355.4h1.15M535.1 328.0h1.15M515.3 357.3h1.15M504.8 356.8h1.15M502.8 348.1h1.15M542.6 340.5h1.15M513.2 356.5h1.15M543.7 343.3h1.15M549.1 330.2h1.15M543.0 315.1h1.15M535.0 352.9h1.15M514.9 340.6h1.15M534.5 326.6h1.15M515.7 347.6h1.15M532.8 327.7h1.15M552.5 317.1h1.15M542.6 332.4h1.15M512.2 359.0h1.15M544.0 349.5h1.15M486.4 307.2h1.15M519.8 337.8h1.15M540.5 342.7h1.15M504.5 327.0h1.15M531.6 355.1h1.15M542.2 345.4h1.15M540.8 313.9h1.15M520.8 326.4h1.15M541.3 338.0h1.15M538.0 321.1h1.15M531.3 356.3h1.15M517.1 354.3h1.15M551.0 312.2h1.15M493.0 329.9h1.15M548.4 330.1h1.15M531.5 335.8h1.15M533.1 340.3h1.15M545.7 312.3h1.15M545.8 312.1h1.15M546.1 342.6h1.15M537.1 345.5h1.15M535.9 330.5h1.15M536.8 339.2h1.15M532.3 352.5h1.15M555.1 325.9h1.15M504.7 355.2h1.15M525.6 353.9h1.15M551.6 324.3h1.15M512.7 335.0h1.15M522.6 348.9h1.15M539.8 346.3h1.15M524.8 324.8h1.15M515.1 357.5h1.15M529.1 321.6h1.15M524.2 359.3h1.15M546.9 308.9h1.15M485.7 311.9h1.15M545.0 315.7h1.15M537.0 340.0h1.15M512.5 350.5h1.15M550.6 323.7h1.15M535.9 354.8h1.15M543.2 342.1h1.15M542.5 326.9h1.15M520.0 360.5h1.15M547.4 325.9h1.15M517.7 332.4h1.15M517.7 325.9h1.15M550.7 337.8h1.15M500.0 334.9h1.15M544.5 339.4h1.15M521.3 321.8h1.15M511.7 354.3h1.15M506.6 330.8h1.15M520.1 321.1h1.15M544.6 338.2h1.15M522.5 336.0h1.15M557.8 319.7h1.15M507.8 350.2h1.15M531.0 339.6h1.15M512.2 357.7h1.15M520.3 355.5h1.15M553.3 317.9h1.15M516.1 333.1h1.15M547.8 338.3h1.15M518.0 358.0h1.15M516.3 359.1h1.15M520.9 348.5h1.15M522.2 351.8h1.15M524.7 343.3h1.15M523.1 358.0h1.15M523.1 359.8h1.15M506.6 328.5h1.15M522.9 358.4h1.15M517.1 359.7h1.15M533.6 323.2h1.15M529.0 314.6h1.15M523.8 359.5h1.15M523.8 342.7h1.15M524.9 348.9h1.15M517.7 356.6h1.15M543.8 312.6h1.15M520.0 358.9h1.15M541.9 318.0h1.15M486.7 325.4h1.15M551.8 308.0h1.15M556.7 312.8h1.15M550.8 311.3h1.15M556.2 314.2h1.15M533.3 335.5h1.15M549.5 321.6h1.15M535.7 319.9h1.15M528.7 335.6h1.15M529.0 313.9h1.15M551.7 315.4h1.15M534.7 345.7h1.15M527.3 320.6h1.15M537.6 351.8h1.15M516.4 327.7h1.15M555.8 318.0h1.15M522.1 353.1h1.15M515.1 341.6h1.15M530.0 348.9h1.15M515.4 341.4h1.15M542.5 316.6h1.15M525.4 305.8h1.15M512.9 341.4h1.15M550.9 336.3h1.15M526.0 323.4h1.15M521.9 326.2h1.15M518.2 333.5h1.15M532.8 357.3h1.15M541.0 321.5h1.15M538.0 335.3h1.15M527.4 336.3h1.15M507.1 316.3h1.15M517.7 349.0h1.15M547.5 309.6h1.15M540.7 325.5h1.15M535.8 331.4h1.15M531.3 327.2h1.15M542.6 343.4h1.15M522.9 338.1h1.15M537.8 322.7h1.15M530.3 318.6h1.15M555.9 323.9h1.15M521.9 339.4h1.15M528.4 348.2h1.15M552.0 317.4h1.15M554.3 330.3h1.15M514.3 334.4h1.15M548.6 342.0h1.15M534.4 334.1h1.15M530.6 341.4h1.15M504.8 347.2h1.15M519.7 335.5h1.15M514.1 358.0h1.15M538.5 320.9h1.15M557.6 303.5h1.15M500.0 334.0h1.15M541.3 336.2h1.15M543.2 338.2h1.15M530.8 318.1h1.15M511.4 337.6h1.15M535.8 327.7h1.15M558.0 310.1h1.15M505.4 342.5h1.15M520.1 352.3h1.15M509.5 333.2h1.15M527.2 356.6h1.15M525.8 327.6h1.15M521.0 333.1h1.15M546.7 312.1h1.15M553.2 304.2h1.15M530.1 351.5h1.15M516.1 346.4h1.15M554.6 322.1h1.15M537.5 342.0h1.15M527.3 319.4h1.15M517.2 327.3h1.15M516.5 339.4h1.15M535.6 325.0h1.15M526.0 324.1h1.15M552.3 320.6h1.15M513.6 332.9h1.15M532.6 297.5h1.15M549.5 315.5h1.15M528.0 317.7h1.15M489.7 332.7h1.15M505.3 338.9h1.15M549.5 341.7h1.15M508.0 354.5h1.15M537.4 314.2h1.15M542.1 321.8h1.15M554.6 324.5h1.15M520.1 352.9h1.15M530.5 326.2h1.15M502.9 327.3h1.15M535.6 330.9h1.15M527.5 348.9h1.15M541.1 316.4h1.15M511.0 326.2h1.15M541.0 346.4h1.15M541.2 311.9h1.15M530.5 346.2h1.15M540.8 327.4h1.15M518.0 358.8h1.15M537.6 336.9h1.15M529.7 331.2h1.15M511.5 349.1h1.15M507.9 320.6h1.15M543.1 310.0h1.15M502.8 322.2h1.15M542.4 319.7h1.15M545.1 343.1h1.15M509.0 350.2h1.15M541.0 310.2h1.15M555.5 294.1h1.15M538.4 331.5h1.15M552.9 313.6h1.15M548.5 321.0h1.15M537.5 344.2h1.15M533.3 351.3h1.15M511.5 358.3h1.15M538.4 342.6h1.15M527.1 337.6h1.15M523.7 359.4h1.15M526.7 347.2h1.15M540.2 337.0h1.15M554.8 310.2h1.15M541.4 338.8h1.15M510.9 357.6h1.15M513.7 347.1h1.15M513.1 328.3h1.15M516.6 352.6h1.15M528.7 353.7h1.15M523.9 328.0h1.15M542.7 320.5h1.15M547.7 338.6h1.15M507.7 358.3h1.15M490.1 333.4h1.15M534.2 343.9h1.15M549.1 323.2h1.15M489.1 306.7h1.15M545.0 346.8h1.15M537.0 347.8h1.15M550.6 315.9h1.15M547.5 339.9h1.15M514.0 343.9h1.15M537.5 318.8h1.15M509.4 357.3h1.15M549.4 330.5h1.15M524.2 343.3h1.15" stroke="#e5e78c" stroke-width="1.15" fill="none"/>
<path d="M535.8 336.2h1.15M544.8 323.0h1.15M513.2 343.7h1.15M519.8 357.9h1.15M520.1 357.6h1.15M535.3 337.8h1.15M528.2 353.5h1.15M524.7 332.3h1.15M536.6 315.0h1.15M541.0 335.1h1.15M534.1 310.9h1.15M521.6 338.1h1.15M529.5 349.1h1.15M547.3 331.2h1.15M529.6 342.3h1.15M524.8 309.0h1.15M554.1 312.5h1.15M530.9 325.7h1.15M531.9 333.4h1.15M528.3 321.4h1.15M537.7 342.1h1.15M525.4 345.1h1.15M523.2 327.7h1.15M525.3 326.3h1.15M540.4 306.7h1.15M526.5 325.9h1.15M533.7 338.7h1.15M533.6 321.5h1.15M520.0 353.1h1.15M538.8 321.8h1.15M557.4 322.7h1.15M517.0 355.0h1.15M535.9 292.0h1.15M539.9 347.8h1.15M541.6 338.6h1.15M555.4 297.6h1.15M527.6 334.3h1.15M528.0 356.5h1.15M538.1 302.8h1.15M535.2 311.2h1.15M535.2 355.3h1.15M536.9 350.9h1.15M524.2 326.1h1.15M543.9 314.2h1.15M518.2 344.1h1.15M521.3 335.8h1.15M532.6 308.3h1.15M519.8 337.3h1.15M526.3 345.8h1.15M543.4 341.7h1.15M532.5 309.6h1.15M532.7 344.5h1.15M533.4 327.6h1.15M516.3 326.2h1.15M538.6 315.9h1.15M522.7 336.9h1.15M541.8 329.0h1.15M518.9 332.8h1.15M534.2 312.3h1.15M546.3 341.4h1.15M546.7 345.3h1.15M514.4 349.5h1.15M546.3 308.4h1.15M555.7 298.1h1.15M547.8 341.4h1.15M553.8 302.2h1.15M542.5 316.1h1.15M537.7 301.4h1.15M531.2 354.2h1.15M523.8 346.7h1.15M538.2 305.7h1.15M517.6 356.1h1.15M547.6 313.6h1.15M547.7 299.4h1.15M526.1 325.0h1.15M511.5 349.1h1.15M540.9 332.6h1.15M526.0 318.1h1.15M541.1 343.9h1.15M544.1 323.1h1.15M555.4 310.4h1.15M540.5 323.3h1.15M527.1 325.4h1.15M522.1 356.4h1.15M542.4 309.3h1.15M544.9 305.4h1.15M534.0 297.4h1.15M551.7 337.4h1.15M532.2 355.1h1.15M518.4 350.9h1.15M540.7 315.6h1.15M536.0 355.3h1.15M541.8 301.6h1.15M547.8 319.3h1.15M539.7 349.2h1.15M544.9 315.2h1.15M549.3 323.3h1.15M552.0 331.3h1.15M551.3 299.9h1.15M552.8 307.0h1.15M548.5 330.9h1.15M536.2 304.1h1.15M535.9 310.9h1.15M531.2 293.5h1.15M550.4 328.6h1.15M534.5 347.4h1.15M554.2 325.8h1.15M550.6 333.0h1.15M544.3 343.0h1.15M532.7 300.3h1.15M516.2 337.7h1.15M552.8 319.2h1.15M523.6 322.2h1.15M529.8 355.2h1.15M551.0 325.9h1.15M537.5 298.3h1.15M537.1 354.6h1.15M533.9 309.4h1.15M518.1 347.1h1.15M538.4 332.5h1.15M544.6 332.8h1.15M521.1 340.9h1.15M556.3 319.6h1.15M529.7 348.6h1.15M558.0 309.3h1.15M548.4 313.4h1.15M532.7 318.1h1.15M532.0 307.7h1.15M516.7 359.9h1.15M530.4 320.9h1.15M526.3 325.2h1.15M522.2 339.9h1.15M538.7 338.8h1.15M524.1 305.7h1.15M541.0 317.0h1.15M520.9 343.3h1.15M516.7 349.8h1.15M534.7 300.1h1.15M551.2 315.2h1.15M539.9 346.7h1.15M514.8 346.6h1.15M518.9 338.8h1.15M544.6 318.1h1.15M553.0 325.9h1.15M543.9 328.8h1.15M521.7 355.4h1.15M528.9 346.3h1.15M531.8 332.1h1.15M531.8 320.3h1.15M548.3 318.2h1.15M557.5 302.7h1.15M547.3 342.6h1.15M526.6 350.4h1.15M534.1 356.8h1.15M539.1 348.3h1.15M549.5 322.8h1.15M546.7 311.1h1.15M535.9 323.5h1.15M539.9 314.5h1.15M535.8 315.3h1.15M519.7 333.8h1.15M546.6 334.3h1.15M521.2 344.8h1.15M528.2 342.5h1.15M544.9 344.4h1.15M552.8 324.2h1.15M515.0 346.9h1.15M557.5 314.4h1.15M537.9 318.2h1.15M514.4 347.9h1.15M547.0 313.2h1.15M532.1 347.3h1.15M541.2 338.9h1.15M544.3 319.6h1.15M504.6 352.3h1.15M542.1 342.4h1.15M531.2 322.1h1.15M552.1 329.0h1.15M517.9 355.8h1.15M543.1 315.7h1.15M545.3 310.2h1.15M552.2 314.9h1.15M543.0 325.1h1.15M528.5 344.3h1.15M537.4 299.2h1.15M534.0 354.1h1.15M541.9 289.7h1.15M540.9 351.2h1.15M533.0 347.9h1.15M531.4 324.9h1.15M540.1 331.3h1.15M542.7 330.1h1.15M527.4 329.8h1.15M525.7 331.8h1.15M535.6 337.3h1.15M544.5 326.5h1.15M556.3 309.5h1.15M547.8 326.6h1.15M551.1 325.7h1.15M527.2 343.7h1.15M538.8 319.5h1.15M517.8 358.8h1.15M538.1 312.2h1.15M551.7 335.8h1.15M530.5 323.9h1.15M531.4 342.8h1.15M541.2 332.0h1.15M544.3 319.5h1.15M539.3 300.2h1.15M558.1 302.4h1.15M540.6 335.3h1.15M517.6 330.1h1.15M539.8 346.3h1.15M516.9 346.7h1.15M533.5 311.0h1.15M537.9 344.2h1.15M532.2 339.0h1.15M552.3 335.3h1.15M546.5 305.0h1.15M542.7 343.7h1.15M517.3 341.9h1.15M522.8 323.9h1.15M539.4 308.3h1.15M521.8 349.7h1.15M540.5 314.8h1.15M553.1 307.8h1.15M544.5 308.5h1.15M512.6 346.4h1.15M543.4 317.4h1.15M534.1 337.3h1.15M521.7 322.5h1.15M550.9 337.1h1.15M536.1 302.8h1.15M537.5 335.8h1.15M524.1 319.5h1.15M520.5 338.1h1.15M527.8 316.8h1.15M544.3 346.7h1.15M542.3 337.1h1.15M518.9 329.2h1.15M518.5 353.2h1.15M551.8 310.1h1.15M542.6 304.3h1.15M534.7 307.4h1.15M528.4 348.8h1.15M537.3 322.5h1.15M553.2 328.4h1.15M540.4 320.7h1.15M526.1 338.1h1.15M554.6 308.1h1.15M554.9 314.5h1.15M547.4 327.0h1.15M529.7 334.6h1.15M526.6 340.6h1.15M532.9 311.7h1.15M537.7 354.4h1.15M548.8 307.5h1.15M538.4 315.7h1.15M552.8 325.3h1.15M529.1 345.2h1.15M535.0 325.3h1.15M541.4 324.0h1.15M536.5 316.5h1.15M526.1 332.0h1.15M529.9 329.0h1.15M551.0 312.6h1.15M544.2 338.8h1.15M531.2 337.2h1.15M525.6 355.5h1.15M516.7 323.9h1.15M538.1 305.9h1.15M557.5 309.8h1.15M537.5 314.6h1.15M541.7 349.9h1.15M523.6 305.2h1.15M553.2 300.5h1.15M528.0 345.2h1.15M542.1 323.8h1.15M534.5 307.8h1.15M529.6 327.9h1.15M519.1 342.1h1.15M542.0 351.9h1.15M533.9 298.4h1.15M532.6 301.7h1.15M546.8 332.4h1.15M531.4 293.0h1.15M528.1 314.4h1.15M529.8 331.0h1.15M546.2 334.6h1.15M531.7 305.6h1.15M537.5 343.8h1.15M543.3 328.9h1.15M524.0 335.9h1.15M553.9 314.8h1.15M547.5 327.5h1.15M540.3 347.4h1.15M528.9 336.3h1.15M524.9 333.7h1.15M537.7 335.8h1.15M526.1 332.4h1.15M520.8 352.9h1.15M506.2 348.1h1.15M558.4 308.6h1.15M545.4 305.7h1.15M549.8 320.6h1.15M548.3 343.1h1.15M510.6 341.5h1.15M542.9 307.6h1.15M525.2 331.1h1.15M526.4 354.9h1.15M544.6 312.1h1.15M554.3 331.7h1.15M554.6 329.1h1.15M530.5 310.8h1.15M516.8 348.9h1.15M541.3 302.7h1.15M544.6 313.6h1.15M541.6 307.8h1.15M525.3 355.8h1.15M530.5 352.6h1.15M557.3 322.9h1.15M531.7 323.2h1.15M541.3 337.1h1.15M553.9 304.7h1.15M550.8 326.8h1.15M529.1 358.7h1.15M530.3 319.7h1.15M511.9 355.2h1.15M533.8 347.6h1.15M525.1 341.2h1.15M549.9 308.3h1.15M541.6 307.6h1.15M536.3 352.2h1.15M537.6 313.8h1.15M514.4 351.1h1.15M531.3 316.9h1.15M552.3 306.0h1.15M531.7 315.4h1.15M542.5 316.1h1.15M516.1 343.1h1.15M536.1 355.3h1.15M551.9 306.6h1.15M534.5 340.1h1.15M534.5 335.7h1.15M512.3 357.3h1.15M529.1 316.3h1.15M523.3 338.0h1.15M549.6 333.7h1.15M533.9 305.1h1.15M522.4 359.4h1.15M532.0 313.2h1.15M554.1 318.5h1.15M534.9 353.4h1.15M542.1 316.3h1.15M534.3 334.7h1.15M527.0 355.4h1.15M532.5 347.9h1.15M549.4 307.4h1.15M523.5 353.3h1.15M535.1 299.0h1.15M550.5 318.3h1.15M512.2 331.7h1.15M539.4 311.4h1.15M530.5 328.4h1.15M537.7 314.7h1.15" stroke="#e7ea6c" stroke-width="1.15" fill="none"/>
<path d="M522.7 337.9h1.15M536.9 301.3h1.15M551.3 309.4h1.15M556.9 324.7h1.15M537.7 306.2h1.15M554.4 307.6h1.15M534.4 292.7h1.15M538.5 323.1h1.15M551.9 307.7h1.15M545.5 336.6h1.15M542.3 338.7h1.15M534.3 317.4h1.15M535.0 350.6h1.15M550.7 296.9h1.15M535.4 339.9h1.15M553.6 292.9h1.15M533.3 337.8h1.15M551.6 294.4h1.15M555.2 292.9h1.15M535.9 302.4h1.15M540.3 323.4h1.15M547.0 313.7h1.15M550.4 295.2h1.15M528.4 327.5h1.15M542.4 332.2h1.15M535.6 296.1h1.15M557.3 305.1h1.15M530.3 349.1h1.15M532.5 338.2h1.15M544.6 303.5h1.15M535.1 301.8h1.15M550.8 305.0h1.15M549.0 335.3h1.15M532.6 309.3h1.15M552.6 299.7h1.15M550.4 303.1h1.15M531.6 315.7h1.15M548.2 304.3h1.15M534.2 355.2h1.15M554.2 301.7h1.15M538.3 321.9h1.15M543.8 299.7h1.15M549.9 300.5h1.15M541.8 299.1h1.15M539.6 288.2h1.15M549.1 305.4h1.15M544.4 303.6h1.15M546.1 302.8h1.15M536.0 300.7h1.15M536.8 345.8h1.15M551.6 336.7h1.15M538.4 338.3h1.15M521.9 357.1h1.15M539.5 304.4h1.15M530.9 344.6h1.15M540.2 298.3h1.15M542.3 318.9h1.15M556.4 302.4h1.15M544.7 336.2h1.15M542.6 301.8h1.15M540.2 288.5h1.15M541.1 309.6h1.15M555.5 304.1h1.15M546.7 346.1h1.15M551.8 305.9h1.15M554.3 311.4h1.15M552.9 321.9h1.15M539.2 305.2h1.15M540.8 302.5h1.15M535.9 296.1h1.15M536.0 290.6h1.15M527.2 328.0h1.15M554.9 301.1h1.15M553.4 289.8h1.15M533.3 357.2h1.15M554.0 321.3h1.15M522.5 353.7h1.15M548.7 307.2h1.15M549.0 302.5h1.15M552.1 297.4h1.15M541.3 313.8h1.15M545.7 300.8h1.15M533.6 292.7h1.15M532.0 314.6h1.15M532.2 324.7h1.15M552.8 305.1h1.15M542.9 302.5h1.15M554.9 291.5h1.15M536.6 302.0h1.15M549.1 329.9h1.15M547.2 316.3h1.15M535.4 314.6h1.15M554.7 297.6h1.15M533.4 353.9h1.15M532.8 294.9h1.15M527.5 349.5h1.15M530.7 322.4h1.15M546.3 297.9h1.15M538.0 299.0h1.15M534.6 301.8h1.15M518.2 351.4h1.15M533.7 298.6h1.15M526.6 342.5h1.15M539.8 347.7h1.15M548.0 300.0h1.15M533.8 300.7h1.15M542.1 306.1h1.15M543.2 310.0h1.15M555.6 303.2h1.15M528.8 353.6h1.15M534.1 344.6h1.15M546.8 323.4h1.15M540.8 291.4h1.15M546.1 305.4h1.15M532.5 309.1h1.15M535.8 294.0h1.15M542.9 323.5h1.15M547.9 321.6h1.15M553.4 297.3h1.15M546.7 286.5h1.15M552.1 295.8h1.15M534.4 294.8h1.15M516.8 327.2h1.15M547.3 304.8h1.15M548.8 326.9h1.15M534.2 319.0h1.15M531.5 308.5h1.15M542.8 311.5h1.15M538.9 293.0h1.15M514.9 353.4h1.15M513.5 353.0h1.15M546.2 301.9h1.15M529.1 327.3h1.15M532.5 331.1h1.15M539.9 348.5h1.15M537.0 349.8h1.15M530.8 338.4h1.15M531.9 295.9h1.15M541.2 323.0h1.15M552.6 293.5h1.15M544.7 319.3h1.15M548.2 306.7h1.15M535.7 298.2h1.15M554.3 309.3h1.15M527.0 318.9h1.15M539.5 325.5h1.15M533.8 314.7h1.15M533.9 291.5h1.15M544.5 306.4h1.15M524.7 327.3h1.15M553.1 302.0h1.15M547.9 289.4h1.15M533.0 297.6h1.15M540.8 332.8h1.15M539.2 295.0h1.15M543.8 300.5h1.15M531.3 293.4h1.15M545.1 337.5h1.15M551.5 322.0h1.15M543.3 307.5h1.15M536.9 335.3h1.15M532.0 308.7h1.15M546.8 286.9h1.15M546.8 325.4h1.15M539.4 291.1h1.15M528.1 353.0h1.15M550.9 308.0h1.15M545.1 288.7h1.15M550.3 298.7h1.15M555.4 313.4h1.15M549.4 300.1h1.15M535.3 291.8h1.15M554.0 308.0h1.15M554.9 296.8h1.15" stroke="#eaee4b" stroke-width="1.15" fill="none"/>
<path d="M547.2 286.4h1.15M541.9 311.0h1.15M551.1 297.3h1.15M544.3 306.7h1.15M544.6 297.9h1.15M551.7 296.5h1.15M535.4 324.3h1.15M539.1 295.7h1.15M514.5 357.2h1.15M538.6 288.6h1.15M539.4 302.2h1.15M551.2 289.7h1.15M535.5 300.8h1.15M549.0 304.5h1.15M551.2 300.7h1.15M545.1 314.8h1.15M551.3 294.5h1.15M543.1 287.8h1.15M544.1 288.9h1.15M538.3 295.6h1.15M535.1 296.7h1.15M544.5 292.4h1.15M542.7 290.8h1.15M542.6 292.8h1.15M541.0 294.5h1.15M541.9 295.4h1.15M533.9 344.7h1.15M545.8 293.2h1.15M544.7 297.2h1.15M535.2 293.0h1.15M530.3 342.6h1.15M549.1 288.5h1.15M543.8 303.0h1.15M533.1 301.5h1.15M556.5 315.4h1.15M551.7 305.6h1.15M549.2 298.8h1.15M539.9 286.9h1.15M546.0 289.4h1.15M540.0 313.2h1.15M537.5 294.9h1.15M552.8 296.5h1.15M535.9 294.4h1.15M540.0 296.9h1.15M553.5 298.5h1.15M552.0 294.9h1.15M541.1 293.7h1.15M541.0 293.4h1.15M543.3 300.6h1.15M531.9 327.4h1.15M548.8 288.2h1.15M549.1 295.4h1.15M544.2 300.5h1.15M539.6 288.3h1.15M542.0 292.2h1.15M550.9 290.2h1.15M548.2 298.1h1.15M537.4 303.9h1.15M540.7 287.3h1.15M543.1 288.6h1.15M546.0 290.0h1.15M555.8 302.8h1.15M537.2 302.0h1.15M538.8 291.4h1.15M552.9 293.4h1.15M551.8 297.0h1.15M542.5 294.7h1.15M534.5 338.8h1.15M549.6 291.5h1.15M548.9 298.6h1.15M546.8 289.7h1.15M550.1 292.3h1.15M538.3 307.5h1.15M548.1 287.6h1.15M544.9 300.9h1.15M537.2 304.5h1.15M547.9 290.7h1.15M549.6 296.7h1.15M551.2 298.0h1.15M550.4 293.1h1.15M540.9 296.8h1.15M547.5 296.4h1.15M550.6 301.7h1.15M548.6 288.1h1.15M551.7 296.9h1.15M543.5 306.0h1.15M542.7 300.9h1.15M555.4 297.8h1.15M541.8 292.1h1.15M541.5 290.5h1.15M547.4 294.8h1.15M536.8 291.9h1.15M540.1 299.1h1.15M545.6 300.3h1.15M540.4 307.3h1.15M546.0 289.1h1.15M543.5 297.9h1.15M546.3 293.3h1.15M549.8 298.7h1.15M546.0 309.9h1.15M537.9 292.4h1.15" stroke="#edf12a" stroke-width="1.15" fill="none"/>
<text x="0.00" y="0.00" font-size="8.0" text-anchor="middle" fill="#000" font-family='"Liberation Sans", sans-serif' transform="translate(521.85 277.40) scale(0.74 1)">yellow</text>
<defs><linearGradient id="gyellow" x1="0" x2="0" y1="0" y2="1"><stop offset="0" stop-color="#eef31a"/><stop offset="0.5" stop-color="#f0f0f0"/><stop offset="1" stop-color="#c4c4c4"/></linearGradient></defs>
<rect x="570.35" y="310.20" width="3.00" height="35.00" fill="url(#gyellow)" stroke="none" stroke-width="1"/>
<line x1="575.85" y1="310.50" x2="578.25" y2="310.50" stroke="#333" stroke-width="1.0"/>
<line x1="575.85" y1="345.30" x2="578.25" y2="345.30" stroke="#333" stroke-width="0.9"/>
<path d="M595.0 288.3 L597.0 290.5 L598.9 295.5 L600.8 300.0 L604.9 306.5 L608.7 311.0 L612.1 313.2 L614.6 315.6 L617.6 318.9 L623.0 321.2 L628.6 320.5 L632.6 316.8 L635.3 312.6 L637.7 306.5 L638.1 301.0 L637.0 293.0 L639.4 291.7 L643.6 289.5 L646.6 286.0 L649.6 285.1 L653.6 285.6 L657.6 287.8 L660.9 291.0 L663.3 296.0 L664.3 302.0 L664.6 311.5 L664.1 318.5 L663.4 325.0 L660.6 333.5 L655.6 343.5 L649.6 351.0 L642.6 356.0 L634.7 359.0 L626.5 360.6 L617.2 359.6 L610.6 357.2 L607.1 354.5 L604.6 350.0 L599.1 344.0 L595.1 337.5 L592.3 329.0 L590.7 316.0 L591.3 304.0 L592.7 294.5Z" fill="#ebf4e9"/>
<path d="M609.5 337.1h1.15M607.0 340.8h1.15M612.2 317.8h1.15M650.6 347.8h1.15M609.4 349.6h1.15M651.6 345.7h1.15M605.3 324.7h1.15M624.6 331.0h1.15M619.3 339.6h1.15M602.1 316.4h1.15M605.3 349.9h1.15M606.0 331.9h1.15M599.2 307.9h1.15M615.2 322.7h1.15M627.7 354.2h1.15M626.2 327.2h1.15M611.8 318.1h1.15M593.4 325.7h1.15M618.0 311.2h1.15M629.1 355.0h1.15M633.1 332.2h1.15M600.4 325.6h1.15M615.0 356.2h1.15M647.2 321.8h1.15M618.3 321.2h1.15M627.7 355.4h1.15M623.8 342.7h1.15M652.4 336.8h1.15M633.0 316.5h1.15M623.4 357.4h1.15M651.2 344.6h1.15M607.5 328.0h1.15M642.6 345.6h1.15M633.5 327.1h1.15M597.4 334.6h1.15M609.2 346.4h1.15M649.9 347.2h1.15M617.3 342.1h1.15M598.1 341.4h1.15M650.0 330.5h1.15M627.0 326.9h1.15M615.6 317.6h1.15M630.3 342.0h1.15M645.9 352.7h1.15M608.2 318.0h1.15M623.6 340.0h1.15M621.6 356.1h1.15M601.2 345.3h1.15M612.2 337.8h1.15M595.0 325.1h1.15M644.1 352.5h1.15M629.4 344.8h1.15M613.3 319.3h1.15M598.1 318.6h1.15M609.9 339.7h1.15M633.6 317.1h1.15M623.2 337.6h1.15M625.1 339.4h1.15M616.0 352.5h1.15M634.7 357.2h1.15M633.8 337.2h1.15M625.5 336.9h1.15M595.4 331.5h1.15M602.6 310.0h1.15M601.6 342.1h1.15M594.3 301.7h1.15M621.9 334.4h1.15M598.0 300.7h1.15M612.3 337.5h1.15M595.2 296.0h1.15M619.8 322.2h1.15M611.4 348.7h1.15M615.4 350.6h1.15M621.8 331.5h1.15M609.2 353.7h1.15M635.3 320.6h1.15M617.5 343.7h1.15M635.3 351.3h1.15M605.8 317.2h1.15M612.1 317.5h1.15M608.2 344.6h1.15M612.5 340.8h1.15M597.5 314.6h1.15M610.9 333.2h1.15M596.4 332.2h1.15M614.7 324.4h1.15M625.2 360.3h1.15M601.3 333.2h1.15M608.9 349.2h1.15M594.4 331.9h1.15M641.9 336.1h1.15M609.6 348.2h1.15M629.4 344.2h1.15M625.2 339.3h1.15M623.3 335.4h1.15M621.0 333.5h1.15M628.4 335.5h1.15M638.9 342.2h1.15M603.4 325.5h1.15M643.0 352.1h1.15M597.2 326.9h1.15M599.3 331.2h1.15M603.4 328.9h1.15M619.2 359.0h1.15M631.0 307.6h1.15M609.1 313.2h1.15M616.0 351.1h1.15M625.1 329.0h1.15M609.1 321.6h1.15M601.4 332.3h1.15M599.5 300.9h1.15M610.7 356.3h1.15M631.8 321.4h1.15M608.7 348.3h1.15M614.8 321.6h1.15M632.6 352.8h1.15M610.1 331.0h1.15M613.7 323.5h1.15M641.2 320.0h1.15M641.3 349.5h1.15M596.3 300.8h1.15M604.6 314.9h1.15M616.4 333.7h1.15M602.1 313.0h1.15M600.5 300.5h1.15M602.2 323.2h1.15M613.1 329.2h1.15M611.6 310.3h1.15M591.6 310.4h1.15M601.6 337.9h1.15M628.0 347.3h1.15M610.1 343.7h1.15M620.4 324.4h1.15M605.7 328.8h1.15M596.2 334.0h1.15M631.6 305.5h1.15M626.4 346.8h1.15M606.7 329.9h1.15M628.3 326.8h1.15M632.3 345.3h1.15M651.0 338.7h1.15M612.0 315.1h1.15M597.6 328.1h1.15M623.3 326.6h1.15M610.4 325.4h1.15M598.5 329.6h1.15M639.2 348.7h1.15M619.1 359.7h1.15M613.1 312.0h1.15M594.0 319.2h1.15M597.7 321.1h1.15M595.3 312.2h1.15M605.9 311.6h1.15M602.8 338.9h1.15M608.4 313.9h1.15M641.1 322.3h1.15M629.5 351.9h1.15M602.3 323.7h1.15M613.0 341.2h1.15M602.1 337.5h1.15M596.8 304.7h1.15M641.6 346.1h1.15M628.5 329.6h1.15M634.8 322.9h1.15M629.7 349.3h1.15M645.6 336.0h1.15M622.9 336.4h1.15M612.7 333.0h1.15M619.4 357.8h1.15M632.3 330.7h1.15M616.2 341.3h1.15M640.6 333.6h1.15M626.0 333.8h1.15M634.5 307.4h1.15M592.8 309.4h1.15M599.2 317.9h1.15M633.1 352.4h1.15M609.1 324.0h1.15M627.4 348.7h1.15M605.9 341.7h1.15M619.3 327.4h1.15M624.4 353.1h1.15M644.4 329.6h1.15M622.7 335.6h1.15M655.5 337.9h1.15M617.6 347.4h1.15M623.4 324.0h1.15M639.2 326.7h1.15M605.8 327.9h1.15M592.9 300.5h1.15M628.6 339.0h1.15M605.9 338.8h1.15M616.5 330.0h1.15M629.5 354.1h1.15M614.2 345.1h1.15M598.5 333.7h1.15M614.2 349.5h1.15M624.3 344.1h1.15M613.8 334.6h1.15M648.3 343.6h1.15M618.4 326.4h1.15M639.1 343.4h1.15M606.6 318.9h1.15M608.4 350.1h1.15M592.8 300.6h1.15M612.3 345.1h1.15M645.2 349.0h1.15M602.8 337.5h1.15M655.0 325.1h1.15M604.3 338.8h1.15M593.0 299.2h1.15M621.3 323.6h1.15M598.1 313.9h1.15M635.9 356.8h1.15M625.7 349.9h1.15M594.1 324.7h1.15M625.6 330.6h1.15M609.5 310.5h1.15M632.6 323.2h1.15M623.7 307.6h1.15M593.7 331.2h1.15M634.4 338.1h1.15M641.5 352.4h1.15M592.1 309.0h1.15M601.0 309.0h1.15M634.0 343.2h1.15M639.3 355.9h1.15M639.0 325.0h1.15M628.6 335.6h1.15M613.7 350.0h1.15M646.0 346.0h1.15M633.3 345.0h1.15M600.9 304.8h1.15M622.7 343.2h1.15M621.9 351.4h1.15M599.7 317.0h1.15M591.5 309.9h1.15M619.5 343.0h1.15M606.2 316.0h1.15M608.8 334.0h1.15M614.9 336.6h1.15M600.6 302.3h1.15M622.9 349.7h1.15M615.4 348.8h1.15M622.4 357.0h1.15M624.3 332.3h1.15M599.8 344.1h1.15M626.9 357.2h1.15M605.3 323.7h1.15M624.7 359.8h1.15M593.0 298.9h1.15M631.4 328.4h1.15M619.4 311.8h1.15M591.2 318.2h1.15M611.1 336.9h1.15M591.7 312.6h1.15M601.5 333.1h1.15M620.2 350.6h1.15M601.3 311.9h1.15M604.0 323.2h1.15M614.6 354.2h1.15M624.1 337.6h1.15M602.4 307.7h1.15M646.8 327.6h1.15M594.3 320.7h1.15M595.3 298.0h1.15M619.7 354.0h1.15M645.3 340.0h1.15M615.9 310.2h1.15M601.9 311.8h1.15M645.7 349.3h1.15M631.1 333.9h1.15M625.4 321.1h1.15M616.9 356.6h1.15M652.6 325.4h1.15M624.8 339.6h1.15M617.3 353.3h1.15M598.5 324.2h1.15M619.0 338.5h1.15M623.9 345.9h1.15M623.5 325.0h1.15M606.6 331.6h1.15M633.5 331.5h1.15M606.2 340.5h1.15M635.8 357.4h1.15M612.5 352.7h1.15M597.4 333.5h1.15M592.4 308.7h1.15M634.1 349.2h1.15M593.9 299.1h1.15M594.3 308.5h1.15M604.2 334.6h1.15M634.3 357.2h1.15M635.3 357.7h1.15M629.7 324.9h1.15M609.3 339.6h1.15M604.3 323.1h1.15M630.9 338.9h1.15M630.7 358.9h1.15M591.5 307.6h1.15M640.3 354.1h1.15M614.3 315.7h1.15M639.1 345.6h1.15M644.7 326.9h1.15M605.6 351.7h1.15M654.9 341.6h1.15M634.0 320.5h1.15M627.9 321.0h1.15M607.4 354.6h1.15M617.4 342.9h1.15M632.0 357.9h1.15M597.3 300.8h1.15M617.6 329.9h1.15M595.9 303.4h1.15M612.2 345.3h1.15M644.6 326.9h1.15M643.1 325.9h1.15M606.2 320.1h1.15M601.0 346.0h1.15M598.4 301.6h1.15M631.1 322.8h1.15M624.7 332.6h1.15M614.4 318.3h1.15M609.9 341.8h1.15M602.5 307.2h1.15M620.0 325.0h1.15M642.7 326.2h1.15M618.8 325.9h1.15M660.3 332.0h1.15M614.8 317.2h1.15M591.6 305.9h1.15M597.1 336.2h1.15M625.3 354.2h1.15M653.0 335.5h1.15M598.9 320.9h1.15M661.2 328.6h1.15M598.7 317.4h1.15M595.4 304.1h1.15M606.6 345.9h1.15M603.5 328.2h1.15M612.7 331.7h1.15M624.0 349.2h1.15M604.2 310.7h1.15M598.7 328.6h1.15M612.8 326.1h1.15M604.5 329.8h1.15M593.9 294.6h1.15M610.4 317.7h1.15M639.7 350.7h1.15M623.0 341.2h1.15M603.6 331.4h1.15M630.1 331.7h1.15M632.9 336.2h1.15M641.6 334.9h1.15M612.0 332.7h1.15M602.9 333.0h1.15M597.1 328.9h1.15M620.0 332.7h1.15M596.7 300.1h1.15M615.6 334.0h1.15M592.4 320.2h1.15M604.6 328.0h1.15M598.3 313.6h1.15M596.6 293.1h1.15M631.3 334.3h1.15M595.9 308.2h1.15M611.2 344.8h1.15M622.9 336.0h1.15M616.6 338.3h1.15M621.5 335.7h1.15M607.1 332.8h1.15M610.6 311.3h1.15M624.8 330.9h1.15M621.1 340.3h1.15M621.4 358.7h1.15M623.6 349.1h1.15M619.7 336.8h1.15M631.4 330.3h1.15M599.1 322.1h1.15M641.5 349.9h1.15M638.4 354.4h1.15M624.0 331.5h1.15M631.0 348.3h1.15M628.6 332.9h1.15M612.0 329.5h1.15M606.3 332.9h1.15M596.6 320.9h1.15M618.6 325.6h1.15M618.3 309.8h1.15M601.7 311.8h1.15M597.0 295.2h1.15M658.9 328.9h1.15M654.6 328.0h1.15M601.3 329.8h1.15M617.9 319.3h1.15M611.5 312.5h1.15M598.1 305.4h1.15M628.3 321.4h1.15M628.7 346.7h1.15M594.2 333.9h1.15M620.6 338.5h1.15M641.7 343.9h1.15M613.0 311.2h1.15M604.8 306.5h1.15M598.9 339.6h1.15M612.6 337.6h1.15M628.1 356.5h1.15M605.9 319.0h1.15M614.4 335.5h1.15M610.5 331.2h1.15M598.3 342.3h1.15M637.9 347.5h1.15M629.2 348.6h1.15M633.0 357.6h1.15M593.4 330.3h1.15M610.3 311.1h1.15M623.5 331.4h1.15M617.6 312.1h1.15M636.7 328.1h1.15M602.7 343.9h1.15M592.3 307.9h1.15M647.5 347.0h1.15M600.5 328.4h1.15M619.6 332.8h1.15M620.7 358.9h1.15M604.4 316.5h1.15M633.1 322.3h1.15M618.0 328.3h1.15M606.4 347.0h1.15M600.2 303.2h1.15M615.4 330.3h1.15M605.2 330.0h1.15M617.4 352.1h1.15M610.4 347.3h1.15M622.6 353.2h1.15M618.7 347.3h1.15M649.8 333.5h1.15M644.5 344.0h1.15M606.0 348.2h1.15M618.6 344.8h1.15M606.9 317.1h1.15M614.6 348.2h1.15M637.9 338.1h1.15M628.1 327.4h1.15M592.0 303.9h1.15M601.1 303.8h1.15M619.2 329.9h1.15M637.0 332.7h1.15M613.1 333.4h1.15M604.2 335.8h1.15M622.2 328.6h1.15M613.9 334.8h1.15M607.9 347.5h1.15M612.2 319.3h1.15M649.7 331.6h1.15M628.6 346.4h1.15M640.4 325.6h1.15M629.1 337.6h1.15M617.1 356.2h1.15M634.6 335.3h1.15M593.9 320.8h1.15M598.0 329.8h1.15M614.3 322.8h1.15M601.9 336.6h1.15M632.8 319.5h1.15M635.3 340.9h1.15M640.7 354.2h1.15M605.9 347.6h1.15M610.9 334.6h1.15M606.9 353.1h1.15M596.7 295.3h1.15M609.5 349.6h1.15M593.1 318.4h1.15M636.9 323.6h1.15M600.3 337.2h1.15M606.7 334.3h1.15M610.8 332.3h1.15M619.7 335.4h1.15M611.1 315.8h1.15M614.2 327.1h1.15M601.3 303.4h1.15M614.2 316.9h1.15M625.8 331.0h1.15M623.8 325.8h1.15M594.5 322.8h1.15M601.0 337.8h1.15M618.0 356.0h1.15M620.5 346.2h1.15M623.2 357.2h1.15M630.8 330.2h1.15M595.4 315.6h1.15M602.3 315.6h1.15M651.5 325.4h1.15M616.4 319.6h1.15M612.0 313.7h1.15M597.7 299.5h1.15M609.6 328.9h1.15M620.6 335.1h1.15M597.9 339.3h1.15M615.5 310.4h1.15M608.1 323.5h1.15M599.4 298.5h1.15M646.3 325.1h1.15M601.0 318.8h1.15M601.2 334.8h1.15M639.8 347.6h1.15M637.3 327.2h1.15M596.5 305.4h1.15M591.7 314.3h1.15M624.0 341.6h1.15M648.2 351.6h1.15M609.4 350.4h1.15M639.5 324.5h1.15M654.9 329.6h1.15M639.2 326.6h1.15M632.1 351.3h1.15M646.0 347.3h1.15M595.7 318.7h1.15M606.3 326.9h1.15M636.2 336.1h1.15M648.5 335.0h1.15M611.9 352.4h1.15M603.5 347.9h1.15M595.7 298.1h1.15M649.1 345.6h1.15M608.9 351.1h1.15M617.3 344.7h1.15M622.4 348.1h1.15M617.6 342.1h1.15M595.6 309.4h1.15M634.7 354.9h1.15M626.9 353.5h1.15M657.0 330.4h1.15M635.0 346.1h1.15M623.5 328.0h1.15M617.1 341.8h1.15M610.0 318.1h1.15M624.1 322.7h1.15M593.1 322.5h1.15M602.4 327.1h1.15M628.0 328.3h1.15M621.5 351.7h1.15M610.7 329.6h1.15M627.3 336.2h1.15M602.0 341.7h1.15M610.8 354.0h1.15M618.4 332.3h1.15M595.3 336.5h1.15M623.5 342.0h1.15M604.2 316.3h1.15M616.7 324.7h1.15M598.2 340.4h1.15M635.2 357.1h1.15M595.9 306.6h1.15M594.8 291.0h1.15M635.5 349.3h1.15M631.4 337.5h1.15M609.5 333.3h1.15M638.6 355.0h1.15M615.6 322.4h1.15M620.1 350.3h1.15M641.1 339.2h1.15M642.7 343.0h1.15M600.7 343.1h1.15M632.6 349.7h1.15M600.9 336.5h1.15M634.7 336.5h1.15M614.1 320.0h1.15M623.6 326.0h1.15M608.1 343.8h1.15M607.5 340.6h1.15M607.8 321.3h1.15M597.0 320.4h1.15M619.9 340.0h1.15M598.1 317.1h1.15M617.5 334.4h1.15M607.1 341.1h1.15M609.4 325.3h1.15M627.3 326.3h1.15M611.5 327.3h1.15M649.3 330.0h1.15M613.6 332.0h1.15M623.0 325.3h1.15M619.4 355.1h1.15M622.4 329.6h1.15M601.9 324.0h1.15M611.7 344.9h1.15M639.8 353.9h1.15M619.0 311.3h1.15M628.7 346.4h1.15M661.1 327.3h1.15M637.3 351.5h1.15M613.6 355.4h1.15M608.9 313.6h1.15M636.6 349.3h1.15M612.0 343.6h1.15M617.8 329.9h1.15M593.9 306.5h1.15M592.7 296.0h1.15M623.6 326.2h1.15M609.7 320.7h1.15M622.1 336.2h1.15M654.9 338.7h1.15M600.6 316.2h1.15M629.1 328.3h1.15M615.5 329.8h1.15M604.5 328.7h1.15M609.7 334.9h1.15M611.5 332.5h1.15M606.6 338.7h1.15M594.2 318.3h1.15M617.2 329.6h1.15M601.0 319.2h1.15M645.5 348.6h1.15M595.3 292.5h1.15M603.8 312.0h1.15M620.6 340.4h1.15M615.2 358.8h1.15M592.8 311.2h1.15M613.6 321.6h1.15M619.3 343.4h1.15M599.9 338.7h1.15M617.4 332.7h1.15M633.9 349.4h1.15M619.8 352.4h1.15M628.7 331.2h1.15M643.4 337.0h1.15M614.2 320.4h1.15M636.6 356.8h1.15M606.4 320.4h1.15M613.8 348.8h1.15M638.4 327.0h1.15M633.3 347.1h1.15M631.7 328.8h1.15M597.8 328.6h1.15M605.3 328.7h1.15M609.2 316.3h1.15M599.0 339.2h1.15M592.1 300.5h1.15M603.1 304.4h1.15M604.3 311.8h1.15M599.7 298.1h1.15M612.2 323.7h1.15M618.5 352.3h1.15M620.5 341.6h1.15M634.6 339.3h1.15M613.3 355.9h1.15M619.1 311.1h1.15M606.1 341.8h1.15M637.7 327.3h1.15M628.9 353.0h1.15M594.4 295.2h1.15M602.7 309.0h1.15M612.8 329.7h1.15M621.1 352.1h1.15M616.0 347.4h1.15M615.1 340.4h1.15M617.5 344.7h1.15M628.1 326.8h1.15M601.4 326.2h1.15M624.5 324.4h1.15M629.6 307.8h1.15M602.1 336.9h1.15M646.4 322.1h1.15M602.4 303.2h1.15M620.5 356.2h1.15M630.0 347.9h1.15M593.2 300.2h1.15M643.1 351.7h1.15M605.9 321.1h1.15M649.9 346.8h1.15M602.3 332.0h1.15M592.7 325.9h1.15M606.1 325.7h1.15M603.2 329.9h1.15M613.7 349.1h1.15M613.8 355.7h1.15M653.5 320.4h1.15M608.8 325.2h1.15M609.6 317.6h1.15M642.6 336.2h1.15M607.4 324.7h1.15M625.8 306.8h1.15M596.1 307.5h1.15M653.9 345.3h1.15M595.4 319.2h1.15M601.5 313.5h1.15M592.0 305.2h1.15M608.8 329.0h1.15M649.1 343.3h1.15M631.3 330.8h1.15M613.4 321.2h1.15M611.6 327.6h1.15M596.6 318.3h1.15M602.8 337.5h1.15M636.9 331.1h1.15M640.8 339.8h1.15M622.2 342.4h1.15M635.1 356.5h1.15M608.2 318.3h1.15M594.1 298.7h1.15M610.9 335.0h1.15M604.8 314.5h1.15M597.0 338.2h1.15M625.2 308.2h1.15M610.5 334.5h1.15M611.2 331.6h1.15M614.1 351.7h1.15M626.4 339.7h1.15M626.7 353.0h1.15M596.6 309.5h1.15M637.8 339.9h1.15M640.1 334.2h1.15M642.9 355.5h1.15M619.1 342.8h1.15M609.9 336.8h1.15M611.0 340.7h1.15M616.3 346.4h1.15M630.2 325.5h1.15M599.6 340.5h1.15M598.0 309.5h1.15M621.0 340.4h1.15M603.7 312.5h1.15M623.4 348.0h1.15M625.6 323.3h1.15M619.8 335.5h1.15M637.9 323.7h1.15M626.6 349.9h1.15M623.9 334.7h1.15M617.4 309.3h1.15M651.8 343.5h1.15M597.8 340.5h1.15M626.3 351.3h1.15M592.4 311.9h1.15M599.9 337.7h1.15M610.8 341.5h1.15M652.9 334.1h1.15M628.7 358.0h1.15M609.1 325.5h1.15M608.2 316.1h1.15M612.1 342.1h1.15M629.0 331.4h1.15M612.8 332.4h1.15M631.4 343.1h1.15M629.8 340.8h1.15M612.6 310.1h1.15M651.2 320.5h1.15M591.6 315.3h1.15M613.8 354.3h1.15M632.0 359.4h1.15M607.5 325.8h1.15M654.4 331.8h1.15M598.5 332.2h1.15M603.8 339.4h1.15M634.1 355.3h1.15M624.5 334.5h1.15M631.0 326.9h1.15M647.0 327.9h1.15M610.4 316.8h1.15M620.0 330.8h1.15M627.4 352.1h1.15M622.8 310.2h1.15M625.5 343.8h1.15M662.0 328.1h1.15M646.1 336.7h1.15M638.3 330.1h1.15M604.0 319.0h1.15M593.7 301.5h1.15M600.5 302.9h1.15M606.6 316.5h1.15M612.4 316.9h1.15M609.3 337.9h1.15M632.1 337.3h1.15M618.8 327.8h1.15M593.3 313.3h1.15M594.5 334.0h1.15M620.3 353.7h1.15M611.0 326.8h1.15M626.9 337.6h1.15M614.2 319.9h1.15M617.4 358.2h1.15M599.2 337.9h1.15M622.3 343.3h1.15M611.7 327.6h1.15M653.9 334.8h1.15M622.9 347.9h1.15M607.1 330.5h1.15M639.0 341.0h1.15M608.5 336.6h1.15M633.0 330.7h1.15M599.0 321.6h1.15M645.4 344.3h1.15M597.9 318.2h1.15M596.3 312.0h1.15M605.9 312.7h1.15M600.9 312.8h1.15M622.8 333.8h1.15M651.4 335.4h1.15M637.9 321.3h1.15M606.5 321.8h1.15M595.6 292.0h1.15M627.1 354.9h1.15M608.7 325.7h1.15M605.7 335.3h1.15M600.9 330.6h1.15M614.4 315.7h1.15M624.0 343.0h1.15M598.1 329.5h1.15M595.0 297.8h1.15M630.2 350.1h1.15M612.6 357.4h1.15M627.3 329.2h1.15M621.7 326.6h1.15M616.5 331.6h1.15M626.7 322.5h1.15M628.8 347.0h1.15M654.4 342.6h1.15M603.0 323.1h1.15M631.1 319.5h1.15M621.1 333.8h1.15M605.5 341.8h1.15M602.2 334.4h1.15M641.7 334.1h1.15M611.9 342.7h1.15M652.3 331.3h1.15M602.8 339.3h1.15M631.0 322.6h1.15M626.9 354.0h1.15M619.7 335.4h1.15M649.5 350.1h1.15M636.6 339.9h1.15M607.8 341.9h1.15M592.4 304.6h1.15M633.7 320.2h1.15M628.9 305.6h1.15M607.3 345.1h1.15M602.0 318.1h1.15M622.0 310.6h1.15M619.1 338.1h1.15M610.1 331.3h1.15M617.3 320.7h1.15M598.4 326.6h1.15M594.8 294.9h1.15M638.9 351.8h1.15M605.4 332.9h1.15M603.0 343.1h1.15M597.1 315.8h1.15M624.2 343.4h1.15M615.0 312.2h1.15M598.7 311.0h1.15M618.0 349.6h1.15M597.7 321.7h1.15M603.2 325.3h1.15M625.3 346.6h1.15M618.9 359.3h1.15M603.1 341.7h1.15M607.1 326.7h1.15M624.4 355.4h1.15M631.1 354.8h1.15M605.7 308.9h1.15M618.3 350.5h1.15M629.7 356.8h1.15M629.9 347.9h1.15M626.8 345.7h1.15M596.2 293.3h1.15M656.7 334.0h1.15M593.9 330.0h1.15M615.8 358.2h1.15M620.1 324.2h1.15M622.0 322.6h1.15M613.8 355.7h1.15M597.2 320.7h1.15M615.2 335.4h1.15M605.5 314.6h1.15M622.8 357.3h1.15M595.7 321.4h1.15M623.2 329.1h1.15M594.6 310.1h1.15M620.4 354.0h1.15M605.1 331.6h1.15M604.5 307.7h1.15M605.5 314.3h1.15M621.3 334.5h1.15M612.6 349.1h1.15M606.1 351.2h1.15M622.6 309.1h1.15M634.7 338.1h1.15M612.2 322.8h1.15M592.6 327.0h1.15M633.8 335.4h1.15M659.7 325.2h1.15M635.5 338.6h1.15M615.6 338.4h1.15M647.2 332.3h1.15M614.5 333.7h1.15M620.3 350.9h1.15M632.6 340.6h1.15M593.4 304.6h1.15M640.4 338.2h1.15M630.0 335.9h1.15M632.0 351.6h1.15M645.6 350.7h1.15M598.7 322.6h1.15M621.2 357.0h1.15M603.0 310.4h1.15M617.9 344.2h1.15M596.8 295.4h1.15M628.2 321.0h1.15M606.6 329.2h1.15M609.6 316.4h1.15M634.4 325.0h1.15M623.9 330.5h1.15M627.7 358.8h1.15M599.3 332.9h1.15M626.2 360.0h1.15M594.3 334.2h1.15M637.6 341.5h1.15M627.8 327.6h1.15M644.6 341.8h1.15M621.5 334.4h1.15M633.7 338.8h1.15M594.2 311.1h1.15M601.5 332.9h1.15M645.8 330.6h1.15M631.7 339.2h1.15M625.7 357.8h1.15M606.3 328.4h1.15M597.1 310.6h1.15M604.0 329.9h1.15M609.3 315.0h1.15M611.9 316.4h1.15M616.1 326.8h1.15M625.2 346.8h1.15M609.5 325.2h1.15M640.2 350.1h1.15M628.2 353.0h1.15M621.1 331.1h1.15M593.0 326.2h1.15M624.4 329.6h1.15M623.5 310.0h1.15M632.2 354.0h1.15M649.9 346.7h1.15M596.5 312.9h1.15M631.2 320.2h1.15M626.4 310.2h1.15M600.9 303.4h1.15M623.9 354.0h1.15M593.9 313.9h1.15M601.4 319.5h1.15" stroke="#d2dfd0" stroke-width="1.15" fill="none"/>
<path d="M641.9 327.1h1.15M650.6 348.7h1.15M638.4 327.3h1.15M599.7 312.4h1.15M630.1 307.8h1.15M656.5 322.8h1.15M642.6 317.5h1.15M640.1 329.9h1.15M638.2 331.4h1.15M648.2 351.6h1.15M636.7 324.4h1.15M643.1 317.4h1.15M642.9 328.7h1.15M652.7 330.2h1.15M645.2 327.9h1.15M634.1 319.0h1.15M635.4 303.9h1.15M637.3 333.4h1.15M644.2 323.9h1.15M630.4 346.3h1.15M636.5 335.5h1.15M645.8 341.5h1.15M655.7 318.6h1.15M639.3 315.3h1.15M636.4 332.5h1.15M633.6 316.5h1.15M638.9 355.6h1.15M658.5 321.9h1.15M640.4 310.9h1.15M661.2 324.0h1.15M634.7 352.8h1.15M632.0 352.6h1.15M632.2 323.0h1.15M630.0 354.0h1.15M638.6 323.3h1.15M634.3 358.7h1.15M649.6 312.3h1.15M651.4 344.0h1.15M651.8 321.1h1.15M650.0 332.2h1.15M634.9 329.3h1.15M611.5 353.3h1.15M641.4 329.7h1.15M645.1 321.2h1.15M639.4 324.4h1.15M649.6 338.4h1.15M640.4 307.3h1.15M652.3 332.4h1.15M640.7 314.8h1.15M661.2 315.4h1.15M662.1 318.8h1.15M628.6 323.9h1.15M633.0 319.2h1.15M612.2 327.2h1.15M657.5 332.5h1.15M651.3 329.1h1.15M657.9 321.5h1.15M635.9 314.7h1.15M631.8 318.7h1.15M651.3 321.2h1.15M657.9 319.6h1.15M622.9 344.9h1.15M646.7 333.6h1.15M630.7 323.6h1.15M644.3 326.9h1.15M635.9 305.7h1.15M603.4 342.8h1.15M641.7 355.6h1.15M597.8 311.5h1.15M619.7 322.7h1.15M636.6 337.8h1.15M646.2 350.4h1.15M628.4 309.7h1.15M660.9 318.6h1.15M644.0 341.9h1.15M632.3 354.3h1.15M648.9 341.1h1.15M655.5 320.1h1.15M639.9 354.6h1.15M639.2 309.8h1.15M654.3 319.1h1.15M644.1 350.0h1.15M641.5 326.9h1.15M637.2 318.6h1.15M627.5 309.8h1.15M646.7 352.0h1.15M631.0 351.2h1.15M646.4 321.6h1.15M658.1 330.9h1.15M656.6 288.3h1.15M648.5 338.8h1.15M644.3 354.0h1.15M620.3 309.5h1.15M630.6 309.3h1.15M641.8 331.3h1.15M631.6 326.0h1.15M607.9 344.4h1.15M650.1 343.3h1.15M623.8 358.6h1.15M652.0 316.8h1.15M655.9 322.9h1.15M654.2 318.4h1.15M617.7 310.0h1.15M662.8 309.7h1.15M608.5 310.7h1.15M651.1 319.0h1.15M639.9 325.1h1.15M652.1 324.1h1.15M634.1 328.9h1.15M642.7 313.1h1.15M640.7 341.6h1.15M653.4 323.2h1.15M630.1 335.1h1.15M625.6 307.9h1.15M649.1 287.4h1.15M652.5 336.3h1.15M635.3 317.9h1.15M643.3 326.4h1.15M637.2 307.9h1.15M645.8 322.3h1.15M627.1 339.4h1.15M633.9 304.1h1.15M657.6 327.5h1.15M652.9 343.3h1.15M645.9 327.4h1.15M654.3 323.2h1.15M660.8 313.5h1.15M641.4 340.9h1.15M619.8 327.9h1.15M656.6 332.0h1.15M658.2 332.1h1.15M648.0 342.8h1.15M644.6 322.5h1.15M663.4 312.4h1.15M641.6 316.6h1.15M639.2 302.3h1.15M664.0 318.1h1.15M643.1 319.2h1.15M645.9 328.7h1.15M656.7 320.3h1.15M624.0 322.7h1.15M628.9 320.9h1.15M632.5 305.9h1.15M639.5 321.3h1.15M635.7 321.6h1.15M633.4 303.2h1.15M641.3 333.2h1.15M652.0 318.1h1.15M638.0 331.2h1.15M654.5 330.2h1.15M653.1 342.3h1.15M662.3 327.8h1.15M599.6 331.7h1.15M651.2 347.5h1.15M639.9 309.1h1.15M605.3 330.0h1.15M645.5 327.3h1.15M661.2 319.5h1.15M632.2 305.8h1.15M639.0 329.8h1.15M651.3 323.7h1.15M629.7 320.8h1.15M628.2 326.0h1.15M637.1 322.8h1.15M654.9 320.5h1.15M628.5 322.1h1.15M643.0 354.9h1.15M663.0 312.9h1.15M645.6 334.5h1.15M655.8 314.9h1.15M643.1 348.1h1.15M615.9 318.1h1.15M662.1 320.4h1.15M630.4 343.2h1.15M656.0 324.3h1.15M634.8 357.0h1.15M650.0 333.7h1.15M632.1 330.2h1.15M661.7 327.1h1.15M648.9 329.0h1.15M663.8 317.2h1.15M612.9 329.9h1.15M632.2 353.4h1.15M643.6 344.5h1.15M638.6 292.6h1.15M657.4 330.1h1.15M626.7 325.3h1.15M634.0 335.9h1.15M633.0 341.6h1.15M648.0 323.0h1.15M612.9 350.4h1.15M643.5 292.1h1.15M632.3 348.5h1.15M648.1 323.6h1.15M640.7 342.5h1.15M630.8 338.4h1.15M648.4 344.2h1.15M639.7 324.1h1.15M660.8 320.8h1.15M641.6 309.0h1.15M603.2 313.9h1.15M644.6 322.2h1.15M650.1 285.7h1.15M651.5 313.4h1.15M651.1 324.8h1.15M638.2 315.0h1.15M631.7 323.7h1.15M651.5 338.3h1.15M660.2 332.4h1.15M630.5 319.7h1.15M638.6 319.4h1.15M642.5 314.0h1.15M645.0 317.4h1.15M645.5 353.5h1.15M613.2 310.6h1.15M657.8 326.3h1.15M648.2 318.1h1.15M639.1 310.6h1.15M631.4 338.2h1.15M628.3 307.3h1.15M656.1 323.7h1.15M649.7 336.4h1.15M644.1 345.8h1.15M651.4 340.5h1.15M639.5 310.3h1.15M623.0 344.2h1.15M632.1 327.4h1.15M637.1 293.3h1.15M611.6 325.2h1.15M636.1 339.8h1.15M636.1 312.1h1.15M614.4 352.8h1.15M660.3 315.4h1.15M656.4 334.8h1.15M656.2 314.0h1.15M626.7 309.2h1.15M637.5 316.9h1.15M636.8 312.7h1.15M632.2 305.0h1.15M610.3 312.2h1.15M642.7 312.9h1.15M651.4 336.7h1.15M662.8 310.8h1.15M648.9 316.1h1.15M653.6 324.2h1.15M630.8 338.4h1.15M655.4 335.6h1.15M647.6 325.8h1.15M663.2 324.3h1.15M604.5 335.3h1.15M659.0 316.7h1.15M642.2 335.0h1.15M641.9 343.9h1.15M634.9 324.0h1.15M663.9 316.0h1.15M644.7 333.9h1.15M644.8 350.2h1.15M653.0 318.6h1.15M642.1 355.4h1.15M595.9 303.1h1.15M650.1 350.2h1.15M649.0 336.1h1.15M630.0 322.0h1.15M636.3 335.7h1.15M638.3 319.1h1.15M637.4 343.5h1.15M652.8 338.0h1.15M622.3 352.9h1.15M630.2 320.4h1.15M635.0 324.9h1.15M647.6 321.9h1.15M628.6 335.4h1.15M649.7 326.9h1.15M658.8 317.6h1.15M661.7 325.9h1.15M656.9 331.6h1.15M625.1 354.0h1.15M613.8 335.4h1.15M630.3 340.7h1.15M636.7 323.7h1.15M640.7 339.1h1.15M630.3 342.5h1.15M630.7 356.4h1.15M661.9 325.9h1.15M649.3 314.3h1.15M642.9 317.8h1.15M625.5 340.5h1.15M652.2 342.6h1.15M641.3 343.7h1.15M646.4 327.0h1.15M621.7 311.4h1.15M660.6 323.5h1.15M626.8 352.6h1.15M658.9 314.2h1.15M645.7 341.9h1.15M639.9 331.9h1.15M645.0 329.1h1.15M628.8 358.9h1.15M629.7 349.6h1.15M659.2 323.6h1.15M648.7 340.7h1.15" stroke="#b8e2b2" stroke-width="1.15" fill="none"/>
<path d="M643.8 295.4h1.15M644.7 310.9h1.15M650.4 309.5h1.15M644.6 293.1h1.15M650.8 317.3h1.15M611.9 342.9h1.15M654.8 295.9h1.15M608.4 325.3h1.15M662.7 300.8h1.15M643.3 302.7h1.15M657.5 288.2h1.15M653.7 297.1h1.15M622.4 328.1h1.15M652.3 300.4h1.15M656.1 320.5h1.15M651.0 316.7h1.15M640.6 303.9h1.15M654.6 292.9h1.15M654.8 319.1h1.15M651.3 286.2h1.15M662.5 310.2h1.15M649.0 318.9h1.15M619.2 334.4h1.15M646.5 310.2h1.15M658.8 290.8h1.15M658.7 323.5h1.15M657.5 300.4h1.15M660.7 304.0h1.15M632.2 329.6h1.15M645.9 323.3h1.15M663.9 308.4h1.15M643.1 302.6h1.15M610.8 325.4h1.15M641.3 296.8h1.15M644.1 302.2h1.15M651.2 286.1h1.15M617.1 350.8h1.15M606.6 329.7h1.15M623.8 351.2h1.15M644.4 310.4h1.15M641.1 298.6h1.15M640.1 312.2h1.15M644.6 303.3h1.15M653.7 325.2h1.15M605.6 338.2h1.15M650.5 312.3h1.15M603.0 339.8h1.15M604.7 349.9h1.15M647.8 320.9h1.15M647.9 310.9h1.15M651.6 307.7h1.15M654.3 314.7h1.15M641.7 315.4h1.15M648.7 308.0h1.15M653.0 313.9h1.15M655.9 288.0h1.15M649.8 311.8h1.15M656.3 316.8h1.15M642.1 307.1h1.15M646.0 312.6h1.15M659.6 310.4h1.15M658.1 310.2h1.15M646.1 295.4h1.15M662.8 311.0h1.15M660.1 297.4h1.15M656.1 318.2h1.15M625.9 327.4h1.15M647.0 291.5h1.15M660.4 301.7h1.15M637.6 312.2h1.15M645.6 307.2h1.15M607.8 354.2h1.15M656.6 290.7h1.15M640.1 319.4h1.15M655.0 294.4h1.15M656.1 321.6h1.15M639.7 306.5h1.15M661.4 308.3h1.15M649.8 303.2h1.15M647.1 300.0h1.15M611.3 314.8h1.15M640.9 352.4h1.15M661.4 293.4h1.15M641.5 310.6h1.15M613.4 346.5h1.15M638.3 296.8h1.15M642.9 309.5h1.15M663.6 306.3h1.15M652.3 309.9h1.15M640.2 308.5h1.15M640.0 304.4h1.15M624.8 345.9h1.15M660.1 312.3h1.15M648.9 349.0h1.15M597.5 295.3h1.15M647.9 290.3h1.15M640.2 312.2h1.15M618.1 321.9h1.15M663.5 298.3h1.15M644.2 302.8h1.15M657.2 320.5h1.15M649.7 302.8h1.15M607.8 330.7h1.15M628.1 339.2h1.15M657.9 313.1h1.15M660.7 292.1h1.15M660.8 291.9h1.15M661.9 319.4h1.15M607.7 342.4h1.15M653.7 289.9h1.15M643.5 290.5h1.15M660.7 297.0h1.15M615.6 341.9h1.15M658.6 309.6h1.15M657.0 294.6h1.15M620.2 327.3h1.15M661.1 303.4h1.15M626.8 334.9h1.15M642.2 304.1h1.15M641.3 308.3h1.15M650.3 312.6h1.15M649.4 320.0h1.15M658.3 306.1h1.15M651.1 306.2h1.15M648.1 305.3h1.15M651.9 293.1h1.15M594.9 313.1h1.15M642.1 352.0h1.15M632.2 323.6h1.15M642.8 311.5h1.15M633.4 342.8h1.15M646.2 316.0h1.15M637.6 297.0h1.15M661.5 306.4h1.15M647.6 313.5h1.15M650.0 328.6h1.15M623.9 351.0h1.15M643.2 293.3h1.15M643.3 308.4h1.15M611.0 354.3h1.15M657.4 321.2h1.15M642.7 291.8h1.15M644.1 289.6h1.15M647.4 288.8h1.15M624.5 343.3h1.15M663.3 306.2h1.15M649.5 287.9h1.15M660.7 298.9h1.15M646.0 301.9h1.15M663.5 306.8h1.15M645.1 338.0h1.15M644.1 296.3h1.15M644.4 312.6h1.15M661.2 320.2h1.15M650.7 307.0h1.15M661.5 311.7h1.15M657.7 308.5h1.15M652.8 324.9h1.15M651.6 320.6h1.15M656.1 315.1h1.15M640.1 295.9h1.15M651.2 295.3h1.15M661.3 312.3h1.15M595.2 335.5h1.15M632.6 335.3h1.15M607.0 318.4h1.15M638.2 299.6h1.15M647.4 308.2h1.15M663.9 317.5h1.15M605.0 319.6h1.15M661.3 294.8h1.15M664.3 310.7h1.15M643.3 309.7h1.15M640.1 306.1h1.15M655.2 314.0h1.15M664.3 302.7h1.15M653.8 313.1h1.15M640.4 309.1h1.15M604.1 340.4h1.15M656.3 317.0h1.15M652.2 313.5h1.15M652.5 339.3h1.15M641.3 306.1h1.15M652.7 323.3h1.15M654.0 332.0h1.15M658.3 314.9h1.15M600.9 336.6h1.15M655.1 312.8h1.15M602.8 318.7h1.15M657.0 305.9h1.15M663.1 295.8h1.15M595.8 297.0h1.15M662.1 305.0h1.15M657.7 301.4h1.15M662.9 307.5h1.15M640.1 315.8h1.15M622.0 332.9h1.15M656.7 318.4h1.15M638.9 305.9h1.15M606.5 339.3h1.15M638.3 338.0h1.15M646.9 313.9h1.15M639.9 296.7h1.15M652.3 289.4h1.15M642.3 304.3h1.15M643.0 293.7h1.15M656.4 301.8h1.15M639.6 292.5h1.15M661.9 310.0h1.15M659.2 305.2h1.15M651.9 323.6h1.15M597.1 306.3h1.15M652.1 318.4h1.15M646.2 320.0h1.15M658.0 314.8h1.15M661.7 314.7h1.15M626.1 326.7h1.15M648.1 327.6h1.15M623.8 334.1h1.15M611.0 350.1h1.15M650.8 317.3h1.15M649.5 288.2h1.15M652.6 316.7h1.15M664.3 306.2h1.15M599.4 344.2h1.15M641.1 310.2h1.15M601.6 311.3h1.15M648.6 315.2h1.15M638.8 331.7h1.15M650.7 311.8h1.15M649.3 308.5h1.15" stroke="#a0e496" stroke-width="1.15" fill="none"/>
<path d="M604.7 312.8h1.15M598.5 302.1h1.15M653.8 304.6h1.15M647.0 330.6h1.15M651.9 301.6h1.15M655.2 296.4h1.15M652.7 301.3h1.15M645.6 292.6h1.15M641.4 313.5h1.15M632.4 342.0h1.15M598.6 294.8h1.15M628.5 323.6h1.15M656.9 293.3h1.15M653.2 333.0h1.15M603.8 309.0h1.15M612.1 329.6h1.15M624.7 358.3h1.15M595.9 298.4h1.15M641.0 354.1h1.15M655.0 295.9h1.15M638.0 312.4h1.15M645.9 291.3h1.15M612.8 347.9h1.15M645.8 295.4h1.15M643.7 299.4h1.15M605.7 335.4h1.15M639.2 338.0h1.15M645.9 296.7h1.15M649.6 309.6h1.15M606.9 319.7h1.15M657.9 308.0h1.15M653.5 337.6h1.15M659.7 302.2h1.15M651.7 291.3h1.15M655.4 303.6h1.15M618.1 322.5h1.15M621.4 339.4h1.15M632.5 335.4h1.15M635.1 349.9h1.15M610.7 335.0h1.15M644.4 296.1h1.15M636.8 345.5h1.15M650.7 299.3h1.15M654.6 290.0h1.15M615.0 336.3h1.15M651.9 289.4h1.15M661.9 296.0h1.15M609.3 352.3h1.15M653.6 309.6h1.15M604.0 331.5h1.15M649.7 300.2h1.15M639.4 335.4h1.15M649.2 302.4h1.15M652.4 308.6h1.15M661.2 304.5h1.15M650.3 297.2h1.15M650.0 286.9h1.15M614.1 344.9h1.15M641.1 312.2h1.15M655.1 288.3h1.15M651.6 299.2h1.15M608.3 333.7h1.15M655.1 296.5h1.15M617.6 342.1h1.15M617.2 340.5h1.15M646.9 303.1h1.15M653.2 294.7h1.15M651.3 303.1h1.15M647.6 308.7h1.15M644.7 352.5h1.15M600.1 299.0h1.15M639.9 354.4h1.15M605.1 329.8h1.15M653.7 298.9h1.15M645.8 290.7h1.15M652.3 292.0h1.15M600.4 317.5h1.15M624.2 335.8h1.15M655.6 296.3h1.15M652.6 297.6h1.15M642.1 324.2h1.15M658.9 335.0h1.15M611.8 345.7h1.15M652.1 299.3h1.15M657.9 297.0h1.15M654.3 291.0h1.15M606.1 309.2h1.15M652.9 291.0h1.15M659.9 329.5h1.15M637.4 353.2h1.15M634.8 348.8h1.15M618.5 337.1h1.15M629.4 325.7h1.15M648.6 303.1h1.15M656.9 306.4h1.15M662.1 298.5h1.15M612.1 326.4h1.15M643.5 309.9h1.15M640.5 348.5h1.15M623.4 326.5h1.15M596.9 338.2h1.15M659.7 295.6h1.15M655.8 308.5h1.15M641.6 356.3h1.15M647.2 300.8h1.15M658.2 332.7h1.15M641.8 354.0h1.15M654.0 297.0h1.15M646.4 304.0h1.15M648.8 304.9h1.15M648.5 285.8h1.15M656.2 316.3h1.15M628.3 341.3h1.15M646.6 307.9h1.15M600.2 321.2h1.15M652.5 293.5h1.15M652.2 291.1h1.15M658.7 330.6h1.15M648.6 333.7h1.15M633.4 338.5h1.15M653.5 298.5h1.15M656.3 310.1h1.15M659.6 305.8h1.15M646.5 293.2h1.15M641.2 307.8h1.15M600.7 343.4h1.15M650.8 323.8h1.15M657.7 291.9h1.15M650.1 294.3h1.15M601.0 326.6h1.15M629.4 337.1h1.15M646.7 304.3h1.15M655.4 303.9h1.15M629.5 352.2h1.15M646.3 298.8h1.15M648.9 306.3h1.15M599.7 331.3h1.15M633.2 347.9h1.15M644.7 303.4h1.15M595.9 313.1h1.15" stroke="#86e678" stroke-width="1.15" fill="none"/>
<path d="M640.3 307.5h1.15M649.0 319.2h1.15M659.3 327.0h1.15M652.6 304.0h1.15M650.4 336.3h1.15M658.7 330.6h1.15M652.3 301.1h1.15M647.3 334.2h1.15M647.0 286.1h1.15M649.2 325.2h1.15M651.8 312.1h1.15M656.1 332.3h1.15M648.8 326.6h1.15M599.9 310.2h1.15M653.6 305.0h1.15M647.1 350.5h1.15M629.5 346.8h1.15M640.2 294.8h1.15M656.6 340.2h1.15M636.7 313.8h1.15M640.3 297.9h1.15M659.5 330.1h1.15M648.0 323.4h1.15M662.7 324.7h1.15M643.5 322.7h1.15M651.6 330.4h1.15M654.8 298.3h1.15M658.5 312.2h1.15M640.3 320.4h1.15M656.7 305.9h1.15M653.6 321.5h1.15M635.0 323.5h1.15M598.1 311.2h1.15M639.9 310.3h1.15M657.3 327.0h1.15M662.0 305.7h1.15M663.7 317.2h1.15M651.0 321.8h1.15M650.5 331.4h1.15M653.5 317.8h1.15M646.0 301.0h1.15M662.3 304.0h1.15M632.7 356.5h1.15M649.4 335.0h1.15M645.4 351.3h1.15" stroke="#6ee85c" stroke-width="1.15" fill="none"/>
<path d="M651.7 298.6h1.15M656.6 291.7h1.15M663.5 302.8h1.15M656.5 293.2h1.15M650.0 289.6h1.15M654.6 296.2h1.15M655.1 298.8h1.15M650.0 304.9h1.15M658.5 304.1h1.15M658.5 301.3h1.15M654.3 301.3h1.15M655.1 318.4h1.15M644.4 304.1h1.15M644.6 291.5h1.15M643.4 301.3h1.15M647.3 301.4h1.15M650.1 314.2h1.15M649.9 309.4h1.15M641.5 308.2h1.15M643.6 309.4h1.15M644.0 297.5h1.15M660.3 300.7h1.15M660.2 304.5h1.15M645.5 309.0h1.15M652.3 312.1h1.15M638.7 308.2h1.15M658.6 297.1h1.15M650.4 306.4h1.15M646.7 290.6h1.15M656.7 298.3h1.15M648.9 306.6h1.15M661.7 306.0h1.15M655.5 306.7h1.15M652.7 286.5h1.15" stroke="#54eb3e" stroke-width="1.15" fill="none"/>
<text x="0.00" y="0.00" font-size="8.0" text-anchor="middle" fill="#000" font-family='"Liberation Sans", sans-serif' transform="translate(627.90 277.40) scale(0.74 1)">green</text>
<defs><linearGradient id="ggreen" x1="0" x2="0" y1="0" y2="1"><stop offset="0" stop-color="#48ec30"/><stop offset="0.5" stop-color="#f0f0f0"/><stop offset="1" stop-color="#c4c4c4"/></linearGradient></defs>
<rect x="676.40" y="310.20" width="3.00" height="35.00" fill="url(#ggreen)" stroke="none" stroke-width="1"/>
<line x1="681.90" y1="310.50" x2="684.30" y2="310.50" stroke="#333" stroke-width="1.0"/>
<line x1="681.90" y1="345.30" x2="684.30" y2="345.30" stroke="#333" stroke-width="0.9"/>
<path d="M382.9 389.4 L384.9 391.6 L386.8 396.6 L388.7 401.1 L392.8 407.6 L396.6 412.1 L400.0 414.3 L402.5 416.7 L405.5 420.0 L410.9 422.3 L416.5 421.6 L420.5 417.9 L423.2 413.7 L425.6 407.6 L426.0 402.1 L424.9 394.1 L427.3 392.8 L431.5 390.6 L434.5 387.1 L437.5 386.2 L441.5 386.7 L445.5 388.9 L448.8 392.1 L451.2 397.1 L452.2 403.1 L452.5 412.6 L452.0 419.6 L451.3 426.1 L448.5 434.6 L443.5 444.6 L437.5 452.1 L430.5 457.1 L422.6 460.1 L414.4 461.7 L405.1 460.7 L398.5 458.3 L395.0 455.6 L392.5 451.1 L387.0 445.1 L383.0 438.6 L380.2 430.1 L378.6 417.1 L379.2 405.1 L380.6 395.6Z" fill="#f0e9e9"/>
<path d="M386.0 439.5h1.15M397.2 441.9h1.15M400.7 438.1h1.15M397.5 447.2h1.15M414.0 438.2h1.15M383.0 397.0h1.15M409.7 412.5h1.15M425.1 421.8h1.15M422.0 407.6h1.15M380.6 397.2h1.15M435.1 414.1h1.15M434.8 424.7h1.15M411.7 445.7h1.15M410.9 430.0h1.15M409.7 437.8h1.15M394.9 442.7h1.15M423.2 422.0h1.15M404.1 423.9h1.15M387.9 430.8h1.15M401.2 416.7h1.15M404.4 448.3h1.15M418.4 443.2h1.15M384.8 428.4h1.15M398.5 420.7h1.15M382.7 414.7h1.15M418.6 439.0h1.15M387.0 404.5h1.15M427.4 409.7h1.15M402.4 418.3h1.15M402.2 426.9h1.15M430.8 407.9h1.15M399.7 423.6h1.15M427.8 403.8h1.15M382.1 417.5h1.15M408.6 453.0h1.15M431.8 433.8h1.15M385.1 421.9h1.15M414.8 452.0h1.15M429.4 426.5h1.15M385.7 427.7h1.15M386.3 417.6h1.15M393.8 417.2h1.15M386.1 402.7h1.15M395.8 439.2h1.15M394.9 442.1h1.15M387.9 414.2h1.15M410.6 408.4h1.15M392.3 416.2h1.15M409.3 426.4h1.15M399.3 441.6h1.15M424.2 440.2h1.15M395.5 428.8h1.15M391.2 407.7h1.15M408.3 424.4h1.15M411.9 410.6h1.15M380.0 421.9h1.15M395.1 436.5h1.15M410.8 427.0h1.15M417.0 427.5h1.15M406.9 430.6h1.15M416.8 429.5h1.15M389.8 426.7h1.15M415.8 423.7h1.15M405.3 454.1h1.15M414.3 438.1h1.15M415.0 427.1h1.15M400.9 429.5h1.15M426.2 443.3h1.15M381.4 430.9h1.15M385.4 412.4h1.15M384.4 422.0h1.15M394.0 438.2h1.15M407.8 424.3h1.15M386.0 433.8h1.15M389.4 445.2h1.15M391.1 421.3h1.15M397.8 413.4h1.15M420.4 421.1h1.15M385.7 442.1h1.15M403.2 460.0h1.15M400.1 412.5h1.15M402.3 420.3h1.15M410.1 436.3h1.15M398.9 444.6h1.15M383.3 425.4h1.15M409.7 452.1h1.15M401.0 426.8h1.15M402.7 448.7h1.15M416.0 446.4h1.15M427.7 447.3h1.15M383.4 395.5h1.15M380.0 420.6h1.15M405.4 438.0h1.15M411.5 444.7h1.15M409.9 458.0h1.15M424.9 443.6h1.15M382.3 416.1h1.15M394.2 412.8h1.15M430.1 423.5h1.15M420.5 428.2h1.15M385.3 392.8h1.15M403.6 421.0h1.15M412.7 408.4h1.15M385.9 425.4h1.15M379.1 416.2h1.15M385.3 432.1h1.15M418.0 444.3h1.15M410.8 434.2h1.15M406.0 423.7h1.15M412.5 408.1h1.15M416.3 434.8h1.15M408.2 409.6h1.15M385.6 406.8h1.15M446.7 429.8h1.15M399.2 432.9h1.15M380.6 422.1h1.15M415.4 451.0h1.15M386.9 429.9h1.15M381.8 418.4h1.15M422.1 437.8h1.15M384.0 396.5h1.15M423.8 420.3h1.15M426.0 445.0h1.15M387.0 418.4h1.15M400.1 417.0h1.15M385.9 422.8h1.15M391.4 427.6h1.15M398.8 434.7h1.15M413.5 428.4h1.15M399.3 431.2h1.15M412.3 436.3h1.15M426.8 450.6h1.15M407.3 428.4h1.15M388.6 445.7h1.15M416.6 449.2h1.15M412.6 423.6h1.15M389.8 430.9h1.15M419.1 433.6h1.15M413.9 438.3h1.15M425.9 411.7h1.15M444.2 433.5h1.15M424.2 416.3h1.15M399.3 432.2h1.15M407.1 432.1h1.15M389.7 446.6h1.15M382.4 395.9h1.15M393.1 430.4h1.15M386.9 414.1h1.15M402.1 420.3h1.15M384.5 410.8h1.15M415.1 428.8h1.15M447.2 426.3h1.15M409.2 452.8h1.15M412.1 409.1h1.15M383.8 391.2h1.15M393.1 447.0h1.15M389.8 404.8h1.15M439.8 433.8h1.15M416.7 448.8h1.15M404.4 434.1h1.15M403.0 413.7h1.15M417.7 438.9h1.15M404.2 418.9h1.15M442.0 440.3h1.15M381.1 430.9h1.15M381.0 405.0h1.15M407.2 457.5h1.15M410.5 453.3h1.15M422.9 444.2h1.15M393.7 452.4h1.15M425.3 421.7h1.15M392.1 433.7h1.15M410.6 431.2h1.15M400.1 423.7h1.15M417.6 410.3h1.15M427.4 451.3h1.15M397.8 438.1h1.15M418.0 459.6h1.15M401.4 428.5h1.15M406.8 458.1h1.15M402.2 426.0h1.15M405.9 427.9h1.15M382.7 391.2h1.15M389.1 413.5h1.15M421.0 453.1h1.15M397.4 419.3h1.15M407.4 432.0h1.15M424.9 454.3h1.15M402.1 445.3h1.15M405.0 447.6h1.15M387.9 416.8h1.15M394.2 438.8h1.15M399.0 414.2h1.15M424.2 445.4h1.15M422.7 434.3h1.15M415.1 407.5h1.15M398.6 426.7h1.15M416.9 460.5h1.15M391.9 422.4h1.15M404.0 447.0h1.15M424.9 433.8h1.15M410.3 440.5h1.15M415.5 446.4h1.15M386.2 421.2h1.15M407.1 424.3h1.15M409.4 452.2h1.15M380.3 408.6h1.15M403.2 459.9h1.15M416.0 433.6h1.15M387.6 443.4h1.15M404.7 422.9h1.15M409.1 435.0h1.15M384.2 414.1h1.15M383.0 406.1h1.15M421.7 434.9h1.15M423.1 408.3h1.15M412.8 422.9h1.15M424.4 448.8h1.15M383.9 431.9h1.15M391.0 406.2h1.15M387.5 426.9h1.15M403.6 450.5h1.15M411.9 442.4h1.15M385.4 438.5h1.15M411.5 446.3h1.15M406.0 410.9h1.15M404.2 419.9h1.15M403.9 423.6h1.15M428.1 440.6h1.15M416.5 444.3h1.15M396.6 437.8h1.15M427.4 417.9h1.15M413.9 444.8h1.15M382.0 392.9h1.15M399.6 427.7h1.15M394.3 439.9h1.15M412.7 443.3h1.15M400.8 421.9h1.15M389.6 404.4h1.15M403.8 444.7h1.15M397.6 432.5h1.15M448.9 429.4h1.15M384.3 393.7h1.15M383.6 417.3h1.15M437.8 432.2h1.15M392.1 441.6h1.15M412.0 423.3h1.15M423.0 440.8h1.15M425.3 409.9h1.15M404.8 410.4h1.15M384.6 408.4h1.15M409.8 449.6h1.15M384.3 438.5h1.15M398.0 423.4h1.15M409.3 431.0h1.15M386.0 413.4h1.15M397.0 424.4h1.15M423.5 430.5h1.15M382.4 425.9h1.15M394.0 424.6h1.15M418.1 410.1h1.15M380.4 416.7h1.15M410.1 436.9h1.15M391.5 444.9h1.15M428.9 440.6h1.15M380.9 399.6h1.15M410.4 425.1h1.15M389.0 441.0h1.15M392.3 414.2h1.15M392.2 440.0h1.15M390.9 422.6h1.15M382.4 429.9h1.15M394.5 416.6h1.15M400.1 435.8h1.15M386.7 404.7h1.15M415.3 434.7h1.15M381.9 403.9h1.15M403.7 434.7h1.15M384.3 398.2h1.15M380.7 424.0h1.15M394.6 431.2h1.15M423.6 423.2h1.15M388.3 408.1h1.15M407.6 441.2h1.15M388.1 408.9h1.15M406.3 460.7h1.15M413.3 434.7h1.15M406.4 438.3h1.15M382.4 405.7h1.15M414.5 440.5h1.15M388.7 403.9h1.15M413.9 410.3h1.15M418.3 433.8h1.15M419.7 409.8h1.15M394.1 438.7h1.15M436.4 420.9h1.15M406.7 429.1h1.15M414.7 432.2h1.15M385.0 428.4h1.15M400.6 419.5h1.15M394.1 423.7h1.15M394.8 417.6h1.15M420.6 440.1h1.15M409.6 451.2h1.15M387.3 402.3h1.15M387.5 442.4h1.15M396.7 439.4h1.15M393.8 449.0h1.15M446.9 434.4h1.15M401.8 424.0h1.15M410.5 435.8h1.15M389.7 447.7h1.15M382.1 403.0h1.15M402.9 420.0h1.15M413.4 433.4h1.15M408.4 453.7h1.15M399.7 414.5h1.15M421.8 405.9h1.15M392.1 407.6h1.15M397.1 416.3h1.15M439.2 429.4h1.15M408.0 453.2h1.15M394.3 424.5h1.15M420.7 418.1h1.15M419.9 418.5h1.15M403.5 412.0h1.15M384.9 435.1h1.15M402.2 442.6h1.15M393.6 446.6h1.15M403.9 436.5h1.15M388.2 409.6h1.15M402.6 419.8h1.15M417.4 459.6h1.15M414.5 434.2h1.15M413.1 443.2h1.15M418.7 408.9h1.15M423.0 428.8h1.15M425.9 399.0h1.15M390.7 430.7h1.15M431.1 422.1h1.15M391.9 415.0h1.15M404.5 422.8h1.15M393.4 427.9h1.15M382.3 414.3h1.15M420.5 436.8h1.15M382.7 404.9h1.15M435.0 446.4h1.15M397.0 411.9h1.15M417.5 432.4h1.15M398.2 434.8h1.15M385.0 439.5h1.15M402.3 438.8h1.15M384.0 407.7h1.15M404.1 410.9h1.15M384.8 394.9h1.15M413.1 458.2h1.15M408.1 458.1h1.15M425.9 437.8h1.15M427.2 409.1h1.15M385.8 432.5h1.15M388.6 422.6h1.15M405.3 421.1h1.15M428.0 452.9h1.15M390.0 430.5h1.15M386.7 426.4h1.15M381.5 434.0h1.15M406.0 425.5h1.15M402.3 444.0h1.15M382.1 393.4h1.15M391.0 439.4h1.15M416.7 407.4h1.15M383.8 429.4h1.15M416.9 430.3h1.15M422.9 419.2h1.15M407.8 433.4h1.15M383.9 406.1h1.15M406.1 459.3h1.15M398.8 446.4h1.15M394.8 424.5h1.15M384.3 399.4h1.15M388.5 401.6h1.15M384.8 420.7h1.15M422.7 425.1h1.15M397.0 413.1h1.15M397.4 442.1h1.15M399.2 440.1h1.15M407.5 446.5h1.15M388.1 423.5h1.15M390.6 410.6h1.15M405.3 436.6h1.15M384.6 422.8h1.15M391.1 415.9h1.15M390.0 429.4h1.15M387.1 404.2h1.15M383.4 413.0h1.15M419.6 430.1h1.15M428.1 409.3h1.15M386.3 440.4h1.15M418.0 408.8h1.15M422.7 422.0h1.15M403.3 444.5h1.15M402.2 416.8h1.15M404.2 425.2h1.15M426.3 444.7h1.15M388.1 425.9h1.15M414.6 447.7h1.15M402.3 412.0h1.15M408.2 435.0h1.15M383.8 409.4h1.15M419.2 422.4h1.15M424.7 454.3h1.15M382.2 429.9h1.15M380.3 417.7h1.15M401.2 429.5h1.15M392.6 444.9h1.15M395.8 434.2h1.15M436.0 433.1h1.15M386.1 436.5h1.15M391.4 427.6h1.15M410.8 440.8h1.15M433.6 441.3h1.15M385.9 418.6h1.15M400.8 432.8h1.15M397.0 422.8h1.15M428.0 439.3h1.15M393.7 419.6h1.15M407.3 410.6h1.15M408.4 436.0h1.15M385.3 418.4h1.15M407.5 410.2h1.15M395.6 429.0h1.15M426.8 420.3h1.15M390.6 409.7h1.15M402.8 439.3h1.15M389.0 445.1h1.15M392.0 446.8h1.15M414.0 422.0h1.15M414.2 424.0h1.15M398.9 434.8h1.15M393.1 451.6h1.15M420.1 432.0h1.15M393.8 444.7h1.15M397.8 429.1h1.15M412.2 431.2h1.15M432.2 428.1h1.15M420.8 431.2h1.15M385.4 431.7h1.15M394.3 425.3h1.15M416.0 449.8h1.15M392.9 440.9h1.15M408.6 410.7h1.15M416.0 406.8h1.15M409.6 408.6h1.15M415.0 459.3h1.15M381.6 434.2h1.15M410.6 428.7h1.15M381.1 420.6h1.15M392.1 442.4h1.15M411.2 450.3h1.15M436.9 440.9h1.15M386.3 418.5h1.15M399.8 427.2h1.15M395.6 418.4h1.15M400.8 432.2h1.15M420.6 429.2h1.15M414.9 428.0h1.15M379.8 415.3h1.15M384.1 438.2h1.15M418.2 410.5h1.15M382.7 401.9h1.15M387.9 402.2h1.15M409.3 451.4h1.15M402.6 412.3h1.15M382.6 429.8h1.15M435.7 421.4h1.15M423.3 457.7h1.15M410.2 439.8h1.15M395.7 439.6h1.15M405.1 437.8h1.15M392.8 411.5h1.15M413.0 458.8h1.15M399.5 438.8h1.15M410.2 429.4h1.15M418.4 453.2h1.15M388.6 420.3h1.15M391.8 427.2h1.15M409.3 429.8h1.15M400.0 426.5h1.15M381.8 423.1h1.15M384.0 396.8h1.15M413.3 443.6h1.15M399.4 433.1h1.15M383.2 434.1h1.15M389.5 417.8h1.15M408.7 429.1h1.15M411.5 423.8h1.15M434.6 448.0h1.15M391.1 432.7h1.15M380.7 418.1h1.15M411.2 411.2h1.15M394.5 434.4h1.15M395.4 429.7h1.15M389.7 436.0h1.15M397.9 426.3h1.15M403.2 441.6h1.15M406.6 458.1h1.15M442.6 435.8h1.15M415.0 433.4h1.15M391.6 447.4h1.15M380.4 415.1h1.15M423.6 426.3h1.15M379.0 412.6h1.15M404.7 420.9h1.15M404.4 434.9h1.15M382.9 418.0h1.15M393.4 421.6h1.15M419.6 458.9h1.15M383.9 403.8h1.15M425.0 416.2h1.15M415.3 455.5h1.15M410.6 427.6h1.15M407.6 438.7h1.15M405.3 435.0h1.15M403.7 432.7h1.15M419.9 451.3h1.15M383.6 393.1h1.15M391.7 427.3h1.15M389.9 422.1h1.15M383.4 399.9h1.15M407.8 439.9h1.15M415.4 431.9h1.15M403.9 437.5h1.15M379.3 413.3h1.15M406.3 424.4h1.15M404.3 434.1h1.15M403.1 422.9h1.15M400.8 447.3h1.15M394.3 443.5h1.15M385.8 437.6h1.15M380.2 424.4h1.15M387.1 433.3h1.15M396.6 440.5h1.15M381.9 409.8h1.15M390.2 437.6h1.15M394.0 422.3h1.15M383.3 401.4h1.15M387.8 426.8h1.15M390.6 428.2h1.15M414.3 407.8h1.15M388.3 409.0h1.15M404.8 444.9h1.15M383.4 401.2h1.15M408.3 442.0h1.15M418.9 446.6h1.15M394.9 427.9h1.15M384.8 422.6h1.15M413.1 457.1h1.15M382.5 401.7h1.15M383.9 399.8h1.15M384.3 403.8h1.15M411.8 447.4h1.15M426.3 409.2h1.15M418.8 431.3h1.15M407.3 444.6h1.15M382.7 393.1h1.15M423.4 417.2h1.15M410.3 448.4h1.15M409.4 422.0h1.15M410.3 435.3h1.15M423.3 420.7h1.15M407.0 443.1h1.15M442.1 420.5h1.15M420.4 446.1h1.15M407.3 446.6h1.15M394.1 448.1h1.15M396.2 425.3h1.15M412.3 442.2h1.15M383.4 418.5h1.15M381.3 425.2h1.15M388.5 423.5h1.15M412.1 432.6h1.15M379.2 413.5h1.15M435.6 438.3h1.15M393.6 448.3h1.15M387.1 436.0h1.15M409.1 448.0h1.15M429.7 422.6h1.15M400.8 434.7h1.15M396.1 430.0h1.15M420.0 441.0h1.15M388.5 404.8h1.15M413.9 446.2h1.15M393.5 442.3h1.15M420.4 450.1h1.15M407.4 412.3h1.15M409.8 435.7h1.15M416.2 453.1h1.15M426.3 394.7h1.15M401.4 421.8h1.15M429.6 422.9h1.15M431.9 447.7h1.15M382.2 399.1h1.15M420.4 408.2h1.15M405.6 413.1h1.15M409.5 433.8h1.15M401.3 417.8h1.15M408.7 443.2h1.15M407.2 428.6h1.15M388.0 402.2h1.15M381.1 406.5h1.15M394.3 426.6h1.15M382.3 397.9h1.15M403.0 447.4h1.15M419.5 449.2h1.15M399.0 421.1h1.15M418.0 410.2h1.15M417.7 422.6h1.15M389.2 429.5h1.15M390.8 413.5h1.15M421.9 418.0h1.15M412.5 455.9h1.15M397.5 411.5h1.15M381.0 430.7h1.15M417.3 425.1h1.15M403.1 413.6h1.15M397.5 448.1h1.15M416.1 454.4h1.15M395.5 448.8h1.15M405.6 430.2h1.15M380.7 422.2h1.15M415.2 444.9h1.15M414.0 411.1h1.15M380.0 427.4h1.15M382.8 433.4h1.15M381.0 398.4h1.15M406.2 432.4h1.15M397.5 425.9h1.15M390.8 405.9h1.15M389.3 409.4h1.15M381.9 423.1h1.15M415.9 459.6h1.15M395.7 419.8h1.15M414.1 422.8h1.15M422.3 419.5h1.15M394.6 425.9h1.15M408.9 411.0h1.15M397.5 442.5h1.15M387.2 433.1h1.15M401.9 440.8h1.15M413.6 446.5h1.15M390.6 415.0h1.15M388.6 428.8h1.15M399.3 431.2h1.15M385.9 403.5h1.15M406.1 440.8h1.15M402.8 450.2h1.15M405.9 437.0h1.15M381.4 406.4h1.15M404.8 422.7h1.15M381.8 409.3h1.15M390.8 413.0h1.15M387.3 433.1h1.15M396.2 418.5h1.15M384.1 423.4h1.15M399.6 435.0h1.15M392.0 443.5h1.15M421.5 418.7h1.15M415.1 439.0h1.15M392.8 417.5h1.15M436.9 430.9h1.15M403.2 427.1h1.15M406.2 437.5h1.15M385.7 438.4h1.15M391.3 435.7h1.15M382.5 413.2h1.15M391.8 442.7h1.15M427.4 447.0h1.15M421.5 440.7h1.15M416.3 443.8h1.15M409.8 460.4h1.15M400.9 447.8h1.15M380.7 401.9h1.15M429.3 411.6h1.15M430.9 415.5h1.15M387.1 442.4h1.15M401.9 429.9h1.15M406.8 453.5h1.15M391.8 427.4h1.15M408.5 421.5h1.15M399.7 415.5h1.15M438.0 450.0h1.15M416.5 456.3h1.15M396.7 416.1h1.15M384.8 403.7h1.15M400.6 434.4h1.15M415.8 409.9h1.15M438.0 450.4h1.15M388.1 443.4h1.15" stroke="#d9cfcf" stroke-width="1.15" fill="none"/>
<path d="M394.7 454.6h1.15M410.9 432.3h1.15M450.0 427.6h1.15M424.0 404.9h1.15M413.2 457.0h1.15M417.3 449.6h1.15M397.1 451.4h1.15M428.6 438.3h1.15M425.7 396.2h1.15M429.2 423.0h1.15M405.7 459.0h1.15M404.4 451.0h1.15M436.1 419.4h1.15M439.7 448.5h1.15M442.7 433.7h1.15M444.4 420.7h1.15M415.8 455.3h1.15M433.5 422.7h1.15M431.6 420.6h1.15M434.1 415.6h1.15M432.5 449.3h1.15M428.8 445.8h1.15M428.5 411.5h1.15M382.6 391.8h1.15M423.4 415.1h1.15M426.4 403.3h1.15M400.0 427.9h1.15M429.6 405.6h1.15M429.1 397.9h1.15M420.5 447.2h1.15M413.3 442.6h1.15M427.9 430.0h1.15M429.7 402.5h1.15M449.0 425.3h1.15M384.1 422.6h1.15M414.3 461.7h1.15M427.7 410.3h1.15M432.7 448.5h1.15M398.9 411.9h1.15M433.9 424.3h1.15M430.8 455.3h1.15M424.4 453.3h1.15M415.7 451.3h1.15M407.7 437.8h1.15M438.3 424.2h1.15M384.7 431.6h1.15M425.9 394.6h1.15M432.0 446.3h1.15M425.2 436.4h1.15M437.0 435.9h1.15M414.6 450.6h1.15M443.0 443.3h1.15M429.2 456.3h1.15M419.4 434.3h1.15M422.1 455.8h1.15M409.6 459.2h1.15M421.5 436.8h1.15M432.2 430.5h1.15M424.0 406.9h1.15M420.8 422.0h1.15M450.1 422.4h1.15M428.2 430.4h1.15M427.1 406.9h1.15M422.7 421.6h1.15M394.8 451.7h1.15M419.6 452.8h1.15M419.5 409.5h1.15M443.5 432.8h1.15M432.3 430.4h1.15M426.3 410.4h1.15M438.5 445.9h1.15M422.5 445.0h1.15M429.0 423.0h1.15M444.4 428.1h1.15M390.5 448.3h1.15M431.0 424.3h1.15M422.1 434.8h1.15M410.6 456.4h1.15M410.3 446.8h1.15M434.5 416.8h1.15M433.8 413.5h1.15M447.6 419.8h1.15M432.1 417.0h1.15M400.7 458.8h1.15M420.4 424.2h1.15M442.2 439.2h1.15M434.1 430.4h1.15M404.6 431.6h1.15M389.1 422.7h1.15M435.4 433.0h1.15M436.9 430.1h1.15M426.9 399.9h1.15M386.0 432.8h1.15M428.2 426.6h1.15M427.7 418.4h1.15M449.4 416.0h1.15M406.6 457.5h1.15M442.6 425.2h1.15M427.3 412.8h1.15M405.4 450.4h1.15M431.5 429.8h1.15M440.5 442.2h1.15M427.9 432.4h1.15M439.9 428.4h1.15M429.1 434.1h1.15M419.7 406.1h1.15M433.4 434.6h1.15M423.2 443.9h1.15M409.1 433.3h1.15M397.5 422.3h1.15M390.9 413.2h1.15M445.2 420.0h1.15M404.7 460.4h1.15M427.9 405.2h1.15M404.6 446.5h1.15M443.1 414.8h1.15M414.9 438.7h1.15M440.6 428.0h1.15M441.0 427.9h1.15M417.3 446.8h1.15M431.5 454.1h1.15M430.2 411.0h1.15M398.3 457.5h1.15M420.8 456.4h1.15M433.1 415.8h1.15M446.5 419.5h1.15M436.8 426.2h1.15M440.8 444.1h1.15M439.9 419.6h1.15M443.5 415.1h1.15M428.2 397.2h1.15M404.3 451.6h1.15M427.6 437.5h1.15M433.4 449.6h1.15M433.9 438.2h1.15M423.4 433.9h1.15M446.3 413.6h1.15M420.8 446.4h1.15M427.6 433.1h1.15M438.2 448.8h1.15M430.9 448.0h1.15M433.5 449.0h1.15M435.5 417.5h1.15M417.9 421.0h1.15M424.6 451.1h1.15M429.1 401.6h1.15M433.9 452.4h1.15M439.0 445.2h1.15M417.0 444.2h1.15M425.4 440.2h1.15M441.8 446.0h1.15M430.1 448.7h1.15M442.1 430.2h1.15M405.0 434.5h1.15M427.7 426.3h1.15M429.3 406.8h1.15M438.6 445.5h1.15M439.4 425.5h1.15M439.2 414.6h1.15M425.0 424.1h1.15M446.8 427.2h1.15M452.4 413.0h1.15M404.4 447.2h1.15M435.1 436.8h1.15M445.6 433.7h1.15M408.0 439.6h1.15M418.4 432.3h1.15M420.5 423.4h1.15M436.9 414.4h1.15M425.7 409.5h1.15M413.7 422.6h1.15M417.6 455.6h1.15M431.3 404.1h1.15M428.3 454.4h1.15M406.1 438.1h1.15M432.3 416.2h1.15M436.2 434.6h1.15M427.9 444.7h1.15M417.4 458.8h1.15M452.3 412.6h1.15M406.9 454.4h1.15M417.8 449.5h1.15M440.4 426.2h1.15M396.4 452.1h1.15M435.1 445.2h1.15M427.8 435.6h1.15M424.8 440.6h1.15M409.9 456.0h1.15M396.6 452.0h1.15M424.9 457.6h1.15M416.7 444.7h1.15M446.7 419.1h1.15M418.2 424.5h1.15M443.0 421.2h1.15M433.7 427.3h1.15M442.4 421.3h1.15M406.5 449.9h1.15M440.8 426.3h1.15M416.1 442.9h1.15M412.9 460.9h1.15M448.3 432.1h1.15M427.0 451.8h1.15M424.4 423.8h1.15M408.4 445.6h1.15M452.0 416.9h1.15M447.2 418.8h1.15M429.4 405.1h1.15M415.7 447.2h1.15M431.5 453.5h1.15M408.4 452.7h1.15M435.3 428.2h1.15M386.5 399.0h1.15M406.7 451.3h1.15M431.2 415.8h1.15M439.3 432.6h1.15M426.0 416.2h1.15M426.7 408.7h1.15M409.6 435.0h1.15M437.4 451.7h1.15M405.5 452.6h1.15M428.5 456.3h1.15M426.5 413.4h1.15M385.5 430.8h1.15M435.0 431.8h1.15M414.7 440.6h1.15M424.8 439.4h1.15M445.6 420.4h1.15M430.5 430.3h1.15M399.8 446.9h1.15M415.7 435.5h1.15M441.4 439.3h1.15M436.3 422.7h1.15M438.3 430.9h1.15M420.3 455.6h1.15M430.3 424.6h1.15M449.2 424.7h1.15M427.3 446.3h1.15M434.3 420.2h1.15M430.8 453.6h1.15M432.6 443.4h1.15M449.8 413.8h1.15M428.8 408.3h1.15M429.9 401.5h1.15M427.0 438.6h1.15M436.8 428.5h1.15M428.0 452.9h1.15M442.1 434.1h1.15M409.8 435.4h1.15M443.4 425.2h1.15M412.6 437.4h1.15M397.3 412.2h1.15M439.1 439.3h1.15M427.4 445.6h1.15M424.4 430.6h1.15M445.0 422.7h1.15M420.6 420.1h1.15M437.6 447.9h1.15M404.5 455.4h1.15M440.4 435.5h1.15M418.0 436.9h1.15M443.2 432.5h1.15M432.4 406.7h1.15M416.0 458.5h1.15M402.2 449.7h1.15M450.1 412.6h1.15M427.8 423.9h1.15M412.7 451.4h1.15M422.7 421.3h1.15M424.9 441.6h1.15M437.4 409.9h1.15M440.0 413.5h1.15M434.5 437.7h1.15M399.3 451.9h1.15M435.2 427.7h1.15M415.2 442.1h1.15M426.2 404.8h1.15M430.4 443.5h1.15M385.8 415.4h1.15M426.7 412.8h1.15M441.9 424.5h1.15M428.1 408.6h1.15M439.0 446.4h1.15M417.2 457.0h1.15M430.4 410.9h1.15M441.0 442.9h1.15M388.3 406.0h1.15M425.8 447.9h1.15M397.5 411.2h1.15M385.0 405.9h1.15M448.1 410.3h1.15M422.3 420.6h1.15M427.7 394.9h1.15M416.5 451.9h1.15M443.3 414.9h1.15M394.8 426.2h1.15M441.5 428.8h1.15M418.5 432.2h1.15M419.9 453.7h1.15M440.0 419.0h1.15M417.6 455.9h1.15M439.7 441.6h1.15M423.5 427.0h1.15M421.2 458.4h1.15M427.6 415.1h1.15M415.1 454.9h1.15M420.2 447.9h1.15M407.2 443.9h1.15M407.6 450.4h1.15M427.1 441.0h1.15M415.0 450.8h1.15M438.0 436.6h1.15M440.6 431.1h1.15M444.9 428.2h1.15M444.0 430.1h1.15M430.6 426.5h1.15M438.8 423.0h1.15M427.3 448.2h1.15M420.4 458.4h1.15M426.9 404.8h1.15M429.2 397.1h1.15M435.9 422.4h1.15M396.3 418.8h1.15M404.4 452.8h1.15M434.8 446.5h1.15M423.0 448.7h1.15M425.1 418.9h1.15M427.0 450.9h1.15M413.6 434.7h1.15M401.2 448.6h1.15M429.1 422.2h1.15M425.0 414.6h1.15M432.4 423.4h1.15M426.6 445.9h1.15M419.4 459.5h1.15M422.0 447.0h1.15M426.3 447.0h1.15M432.0 438.6h1.15M439.7 421.5h1.15M410.8 440.1h1.15M424.8 424.1h1.15M426.4 396.1h1.15M430.4 419.5h1.15M431.9 434.7h1.15M421.4 438.7h1.15M407.8 454.0h1.15M433.3 423.1h1.15M425.9 416.9h1.15M441.6 426.7h1.15M410.0 409.8h1.15M433.0 439.5h1.15M415.3 440.7h1.15M428.0 450.8h1.15M451.2 409.6h1.15M425.5 413.2h1.15M420.6 439.9h1.15M408.3 454.7h1.15M423.8 453.4h1.15M444.1 418.3h1.15M425.9 448.6h1.15M430.7 420.6h1.15M436.9 440.8h1.15M439.3 426.4h1.15M427.0 414.6h1.15M448.4 411.2h1.15M441.6 405.6h1.15M409.4 425.0h1.15M443.9 420.3h1.15M425.7 438.4h1.15M446.5 430.2h1.15M383.2 423.7h1.15M435.6 417.2h1.15M443.1 414.7h1.15M423.1 451.3h1.15M396.8 428.4h1.15M418.5 438.0h1.15M431.7 453.4h1.15M426.4 436.8h1.15M425.1 448.1h1.15M428.7 408.8h1.15M420.7 455.6h1.15" stroke="#d0b2b2" stroke-width="1.15" fill="none"/>
<path d="M427.8 398.6h1.15M429.5 394.6h1.15M423.3 455.8h1.15M393.0 438.7h1.15M427.2 413.0h1.15M406.4 430.9h1.15M438.5 439.8h1.15M430.8 400.1h1.15M407.1 431.3h1.15M405.1 454.4h1.15M381.0 420.4h1.15M446.7 418.5h1.15M450.3 418.3h1.15M441.5 418.1h1.15M448.3 415.5h1.15M450.6 417.6h1.15M398.5 422.4h1.15M401.7 456.2h1.15M409.9 427.7h1.15M450.0 404.7h1.15M434.4 407.4h1.15M448.0 405.2h1.15M450.0 421.5h1.15M421.3 449.6h1.15M420.6 439.2h1.15M439.7 437.1h1.15M399.9 458.0h1.15M395.8 450.2h1.15M439.9 412.3h1.15M439.5 410.5h1.15M431.1 451.7h1.15M438.1 437.7h1.15M440.5 436.4h1.15M423.8 459.6h1.15M392.4 420.1h1.15M440.7 438.4h1.15M428.6 409.7h1.15M384.9 424.7h1.15M432.9 389.7h1.15M432.5 397.6h1.15M434.2 414.3h1.15M383.7 415.1h1.15M432.6 404.9h1.15M438.6 418.7h1.15M445.4 408.0h1.15M408.2 425.4h1.15M432.1 404.1h1.15M428.5 393.8h1.15M412.5 453.4h1.15M437.3 449.7h1.15M434.2 451.9h1.15M433.4 388.6h1.15M400.0 451.4h1.15M425.8 452.1h1.15M450.5 411.1h1.15M449.0 433.0h1.15M442.4 424.8h1.15M436.6 431.0h1.15M451.1 424.7h1.15M383.2 430.5h1.15M431.8 390.4h1.15M434.1 431.8h1.15M405.6 421.5h1.15M429.4 417.6h1.15M402.6 451.4h1.15M433.7 411.5h1.15M390.1 442.4h1.15M431.4 398.6h1.15M433.1 447.6h1.15M446.7 424.2h1.15M430.4 423.3h1.15M397.9 452.8h1.15M431.3 401.0h1.15M379.4 406.7h1.15M424.7 456.3h1.15M448.7 424.5h1.15M387.1 436.2h1.15M430.6 441.6h1.15M399.2 453.7h1.15M440.0 442.3h1.15M444.3 419.2h1.15M433.5 437.8h1.15M445.7 424.7h1.15M419.6 441.0h1.15M438.6 433.6h1.15M438.3 417.1h1.15M424.2 454.4h1.15M401.0 445.6h1.15M428.6 456.1h1.15M429.7 406.7h1.15M431.9 450.7h1.15M437.6 434.2h1.15M401.7 453.1h1.15M445.3 411.5h1.15M402.7 451.3h1.15M442.7 419.3h1.15M434.2 412.5h1.15M446.7 421.0h1.15M436.1 416.6h1.15M411.2 425.7h1.15M447.5 403.7h1.15M448.7 414.4h1.15M444.5 410.5h1.15M430.3 437.4h1.15M445.2 410.3h1.15M398.1 430.7h1.15M445.8 406.6h1.15M435.5 408.8h1.15M402.9 451.3h1.15M429.1 447.4h1.15M437.8 409.7h1.15M439.4 447.8h1.15M392.4 439.5h1.15M444.5 414.1h1.15M435.7 406.8h1.15M426.0 407.0h1.15M448.9 428.7h1.15M424.4 451.2h1.15M442.6 420.8h1.15M440.4 426.8h1.15M383.7 397.1h1.15M402.1 428.5h1.15M439.6 436.5h1.15M447.9 414.9h1.15M427.0 399.9h1.15M432.0 443.7h1.15M447.8 414.1h1.15M442.7 441.0h1.15M422.9 447.8h1.15M439.4 434.0h1.15M430.5 443.7h1.15M428.2 409.4h1.15M445.8 406.4h1.15M429.3 418.6h1.15M437.4 416.1h1.15M447.9 414.9h1.15M443.3 416.3h1.15M428.6 424.8h1.15M385.1 415.2h1.15M430.7 435.9h1.15M439.5 412.4h1.15M441.6 408.9h1.15M431.7 422.5h1.15M427.9 444.1h1.15M389.7 411.7h1.15M419.5 435.6h1.15M446.3 407.4h1.15M443.9 425.6h1.15M434.5 403.9h1.15M425.2 429.5h1.15M415.2 453.0h1.15M450.3 411.2h1.15M432.8 414.5h1.15M425.6 396.3h1.15M446.2 424.1h1.15M431.9 403.3h1.15M442.1 438.1h1.15M431.1 392.0h1.15M446.0 416.5h1.15M404.7 431.1h1.15M424.7 452.4h1.15M404.6 452.4h1.15M439.9 408.0h1.15M438.4 444.2h1.15M443.3 417.0h1.15M384.6 394.3h1.15M439.9 445.9h1.15M396.1 455.7h1.15M445.3 414.8h1.15M450.9 410.8h1.15M426.4 433.5h1.15M441.4 444.1h1.15M420.1 441.6h1.15M406.1 440.8h1.15M438.2 413.2h1.15M400.7 456.2h1.15M445.3 408.3h1.15M435.6 398.2h1.15M402.5 422.8h1.15M439.7 415.2h1.15M432.0 440.1h1.15M436.0 423.7h1.15M448.3 408.5h1.15M426.4 453.4h1.15M433.4 436.5h1.15M435.8 418.7h1.15M424.0 425.0h1.15M398.7 455.5h1.15M433.0 412.1h1.15M435.3 419.2h1.15M441.6 420.5h1.15M430.3 405.6h1.15M421.7 421.6h1.15M451.1 415.3h1.15M447.5 426.9h1.15M426.8 418.3h1.15M447.0 414.2h1.15M441.6 415.8h1.15M432.5 439.2h1.15M447.8 411.7h1.15M384.0 403.7h1.15M434.7 424.4h1.15M403.2 453.0h1.15M434.3 437.5h1.15M440.1 437.5h1.15M399.0 456.9h1.15M430.8 397.5h1.15M436.5 407.6h1.15M440.2 415.9h1.15M432.0 442.6h1.15M446.5 416.7h1.15M447.0 417.8h1.15M430.8 407.5h1.15M402.3 449.7h1.15M407.7 421.9h1.15M406.6 455.5h1.15M431.2 396.2h1.15M443.4 414.0h1.15M442.3 437.0h1.15M434.4 436.9h1.15M437.3 445.6h1.15M445.0 420.2h1.15M431.6 452.3h1.15M427.8 435.3h1.15M428.2 456.7h1.15M385.0 403.0h1.15M432.1 400.4h1.15M437.6 413.3h1.15M382.6 426.7h1.15M437.1 422.7h1.15M393.2 429.9h1.15M452.1 406.5h1.15M397.0 455.0h1.15M450.9 404.9h1.15M441.7 418.9h1.15M444.3 438.0h1.15M445.8 432.3h1.15M439.8 434.3h1.15M431.6 404.5h1.15M428.6 440.7h1.15M443.3 410.7h1.15M446.3 424.4h1.15M446.9 401.2h1.15M444.1 409.1h1.15M443.4 418.8h1.15M433.9 454.1h1.15M415.9 452.9h1.15M399.3 430.3h1.15M427.0 393.2h1.15M431.2 442.5h1.15M385.5 409.6h1.15M386.2 424.3h1.15M435.1 428.9h1.15M428.4 401.2h1.15M436.3 447.8h1.15M452.2 411.8h1.15M450.1 417.4h1.15M435.3 413.5h1.15M440.4 417.9h1.15M389.3 426.2h1.15M410.9 409.7h1.15M449.2 412.6h1.15M445.6 437.5h1.15M423.5 453.5h1.15M448.1 423.7h1.15M443.6 414.7h1.15" stroke="#c79595" stroke-width="1.15" fill="none"/>
<path d="M387.2 411.7h1.15M386.5 426.1h1.15M410.8 431.4h1.15M436.9 405.6h1.15M432.4 397.2h1.15M427.3 428.5h1.15M450.9 405.0h1.15M398.6 454.8h1.15M400.9 454.4h1.15M392.9 446.3h1.15M448.9 397.7h1.15M450.4 403.6h1.15M385.7 410.7h1.15M441.9 408.9h1.15M447.1 407.3h1.15M380.6 397.0h1.15M436.5 387.1h1.15M448.5 407.1h1.15M438.2 423.2h1.15M434.0 390.5h1.15M400.0 422.3h1.15M439.0 405.8h1.15M450.6 402.6h1.15M451.3 405.7h1.15M433.5 390.4h1.15M426.0 414.4h1.15M427.0 419.7h1.15M391.1 442.2h1.15M432.4 397.7h1.15M394.2 424.3h1.15M381.6 420.9h1.15M447.9 400.1h1.15M390.3 418.0h1.15M438.9 389.3h1.15M414.9 449.7h1.15M428.6 403.2h1.15M392.0 409.4h1.15M415.8 450.3h1.15M451.9 412.8h1.15M450.5 417.0h1.15M448.3 406.6h1.15M446.2 409.9h1.15M437.6 400.7h1.15M413.6 441.5h1.15M397.2 421.3h1.15M436.9 404.0h1.15M417.8 439.0h1.15M446.4 417.5h1.15M447.7 404.0h1.15M437.2 403.4h1.15M436.0 387.9h1.15M425.2 431.3h1.15M448.0 433.3h1.15M415.2 457.3h1.15M433.9 407.8h1.15M387.7 400.7h1.15M448.3 411.8h1.15M440.3 412.1h1.15M383.2 428.6h1.15M400.7 432.1h1.15M451.6 408.2h1.15M391.9 439.0h1.15M429.6 406.9h1.15M435.4 409.5h1.15M383.9 397.3h1.15M397.4 431.5h1.15M382.5 422.2h1.15M400.6 454.1h1.15M443.4 402.9h1.15M435.1 389.5h1.15M398.1 452.5h1.15M449.1 397.7h1.15M426.5 394.6h1.15M437.5 409.8h1.15M438.4 407.0h1.15M446.2 408.3h1.15M447.5 408.4h1.15M448.4 408.8h1.15M438.0 387.1h1.15M391.7 420.7h1.15M395.5 417.0h1.15M398.5 430.2h1.15M399.9 435.4h1.15M433.8 397.5h1.15M439.5 406.9h1.15M448.6 429.9h1.15M380.2 412.1h1.15M398.4 412.4h1.15M438.6 386.6h1.15M435.3 393.4h1.15M444.3 404.4h1.15M386.2 407.5h1.15M442.5 402.0h1.15M427.0 426.6h1.15M397.8 418.3h1.15M392.4 434.6h1.15M434.1 391.9h1.15M447.9 416.6h1.15M421.5 417.5h1.15M381.3 412.9h1.15M418.5 458.7h1.15M432.6 394.7h1.15M438.7 407.0h1.15M416.1 448.1h1.15M410.8 447.6h1.15M424.2 447.1h1.15M391.5 417.6h1.15M440.6 403.6h1.15M435.9 388.5h1.15M404.7 445.5h1.15M443.8 406.6h1.15M400.3 449.6h1.15M416.3 443.0h1.15M401.3 456.8h1.15M386.8 409.9h1.15M436.1 430.4h1.15M428.1 417.5h1.15M401.0 428.1h1.15M390.1 412.5h1.15M449.0 401.4h1.15M428.9 448.3h1.15M418.5 448.0h1.15M407.8 432.3h1.15M419.3 423.2h1.15M410.2 450.3h1.15M396.9 454.4h1.15M414.6 448.5h1.15M404.0 420.4h1.15M448.2 406.9h1.15M431.8 403.0h1.15M446.4 403.6h1.15M417.6 425.7h1.15M443.5 405.2h1.15M387.0 398.5h1.15M387.5 431.1h1.15M390.9 449.0h1.15M433.8 388.6h1.15M437.0 402.3h1.15M433.7 401.9h1.15M434.7 387.8h1.15M382.7 433.2h1.15" stroke="#bd7777" stroke-width="1.15" fill="none"/>
<path d="M437.9 424.1h1.15M393.4 452.3h1.15M424.4 449.3h1.15M403.0 458.4h1.15M436.4 391.0h1.15M444.4 403.0h1.15M438.8 448.1h1.15M412.5 460.4h1.15M447.2 403.8h1.15M437.9 405.3h1.15M379.4 423.0h1.15M421.1 444.5h1.15M442.8 436.9h1.15M446.6 396.3h1.15M436.7 398.0h1.15M387.8 440.9h1.15M431.1 397.5h1.15M436.3 389.6h1.15M427.5 443.4h1.15M438.6 441.0h1.15M417.6 439.7h1.15M450.0 395.0h1.15M425.5 436.9h1.15M424.0 448.9h1.15M426.7 408.6h1.15M433.7 398.4h1.15M419.8 422.5h1.15M444.7 402.3h1.15M402.3 457.7h1.15M412.7 427.6h1.15M447.0 402.1h1.15M437.9 391.6h1.15M433.5 437.2h1.15M440.1 395.7h1.15M439.9 433.2h1.15M437.7 404.0h1.15M449.5 430.2h1.15M439.9 401.4h1.15M445.6 390.4h1.15M446.9 419.5h1.15M422.8 454.6h1.15M432.9 398.1h1.15M433.1 452.3h1.15M432.7 419.5h1.15M421.2 437.7h1.15M440.2 408.0h1.15M433.4 436.6h1.15M428.2 424.2h1.15M438.0 389.6h1.15M422.0 460.1h1.15M440.0 390.8h1.15M435.2 430.5h1.15M445.0 421.3h1.15M423.3 452.3h1.15M448.5 394.5h1.15M444.6 403.5h1.15M443.4 401.1h1.15M448.3 417.3h1.15M445.7 392.3h1.15M439.9 388.3h1.15M433.8 400.8h1.15M441.6 393.2h1.15M440.6 395.6h1.15M430.7 410.2h1.15M410.9 459.5h1.15M422.1 434.7h1.15M423.2 445.8h1.15M439.0 395.6h1.15M424.2 433.2h1.15M424.7 456.9h1.15M412.3 449.1h1.15M417.9 438.6h1.15M434.5 447.8h1.15M429.4 395.5h1.15M426.7 447.9h1.15M442.6 397.7h1.15M443.1 412.6h1.15M444.1 432.7h1.15M441.2 445.3h1.15M442.1 392.6h1.15M436.3 450.7h1.15M448.5 392.5h1.15M434.5 432.1h1.15M402.4 450.7h1.15M438.0 417.8h1.15M440.1 404.4h1.15M418.2 452.1h1.15M437.4 427.3h1.15M433.1 431.2h1.15M405.5 456.6h1.15M436.6 386.5h1.15M415.9 422.4h1.15M427.1 406.5h1.15M440.1 421.1h1.15M437.0 394.9h1.15M443.0 407.4h1.15M437.0 435.1h1.15M427.1 447.5h1.15M441.5 389.4h1.15M442.4 440.6h1.15M446.1 402.6h1.15M446.2 397.8h1.15M435.4 398.0h1.15M449.9 397.3h1.15M437.6 386.4h1.15M382.6 400.6h1.15M436.6 399.6h1.15M450.7 400.9h1.15M449.4 402.3h1.15M428.3 423.2h1.15M446.3 399.8h1.15M399.6 448.9h1.15M441.4 434.7h1.15M438.7 447.2h1.15M440.7 387.2h1.15M425.5 443.5h1.15M404.0 458.6h1.15M432.1 446.9h1.15" stroke="#b45a5a" stroke-width="1.15" fill="none"/>
<path d="M439.4 392.9h1.15M448.1 427.3h1.15M403.9 457.2h1.15M443.1 399.6h1.15M400.3 456.8h1.15M441.9 388.0h1.15M444.3 434.5h1.15M448.9 402.8h1.15M436.0 389.5h1.15M439.1 391.9h1.15M433.7 418.7h1.15M426.7 403.6h1.15M441.2 394.9h1.15M440.1 393.8h1.15M441.9 399.8h1.15M446.7 390.2h1.15M448.2 416.3h1.15M435.9 394.7h1.15M441.3 396.5h1.15M441.3 399.5h1.15M442.9 398.4h1.15M436.0 398.8h1.15M444.2 401.4h1.15M420.1 455.7h1.15M439.2 414.6h1.15M438.1 411.2h1.15M430.8 444.0h1.15M425.7 428.8h1.15M433.6 432.4h1.15M433.5 442.7h1.15M447.9 396.7h1.15M423.7 441.4h1.15M444.4 389.0h1.15M433.3 390.7h1.15M444.0 392.4h1.15M439.2 394.8h1.15M446.4 428.1h1.15M443.1 399.8h1.15M433.1 420.3h1.15M444.8 395.0h1.15M435.9 392.4h1.15M429.0 425.7h1.15M435.0 401.2h1.15M415.5 453.3h1.15M436.7 394.0h1.15M440.2 418.2h1.15M433.3 426.4h1.15M422.1 449.4h1.15M439.6 409.9h1.15M441.7 393.3h1.15M439.0 389.6h1.15M440.1 422.0h1.15M446.1 392.9h1.15M428.7 432.6h1.15M446.0 395.8h1.15M442.0 396.6h1.15M439.6 398.9h1.15M438.5 426.9h1.15M450.0 395.0h1.15M404.8 453.1h1.15M439.8 393.0h1.15M435.0 395.6h1.15M443.3 388.0h1.15M444.5 392.0h1.15M437.2 414.7h1.15M447.6 397.3h1.15M439.2 389.5h1.15M450.3 395.3h1.15M439.6 401.5h1.15M442.1 398.5h1.15M444.7 402.6h1.15M439.9 389.0h1.15M435.6 445.1h1.15M443.8 441.0h1.15M445.2 397.3h1.15M445.2 407.1h1.15M442.1 394.3h1.15M444.5 390.1h1.15M445.2 393.2h1.15M435.0 411.0h1.15M429.1 399.8h1.15M442.6 399.5h1.15M440.8 405.1h1.15M426.7 452.9h1.15M445.4 417.5h1.15M427.6 450.5h1.15M440.5 391.3h1.15M440.3 392.6h1.15M440.5 390.5h1.15M427.2 414.9h1.15M436.7 425.4h1.15M440.9 399.7h1.15M437.8 409.7h1.15M427.0 398.0h1.15M442.6 404.8h1.15M434.8 435.0h1.15M426.0 395.7h1.15" stroke="#ab3d3d" stroke-width="1.15" fill="none"/>
<text x="0.00" y="0.00" font-size="8.0" text-anchor="middle" fill="#000" font-family='"Liberation Sans", sans-serif' transform="translate(415.80 378.50) scale(0.74 1)">brown</text>
<defs><linearGradient id="gbrown" x1="0" x2="0" y1="0" y2="1"><stop offset="0" stop-color="#a62e2e"/><stop offset="0.5" stop-color="#f0f0f0"/><stop offset="1" stop-color="#c4c4c4"/></linearGradient></defs>
<rect x="464.30" y="411.30" width="3.00" height="35.00" fill="url(#gbrown)" stroke="none" stroke-width="1"/>
<line x1="469.80" y1="411.60" x2="472.20" y2="411.60" stroke="#333" stroke-width="1.0"/>
<line x1="469.80" y1="446.40" x2="472.20" y2="446.40" stroke="#333" stroke-width="0.9"/>
<path d="M488.9 389.4 L490.9 391.6 L492.9 396.6 L494.8 401.1 L498.9 407.6 L502.7 412.1 L506.1 414.3 L508.6 416.7 L511.6 420.0 L516.9 422.3 L522.5 421.6 L526.5 417.9 L529.2 413.7 L531.6 407.6 L532.0 402.1 L530.9 394.1 L533.4 392.8 L537.5 390.6 L540.5 387.1 L543.5 386.2 L547.5 386.7 L551.5 388.9 L554.9 392.1 L557.2 397.1 L558.2 403.1 L558.5 412.6 L558.0 419.6 L557.4 426.1 L554.5 434.6 L549.5 444.6 L543.5 452.1 L536.5 457.1 L528.6 460.1 L520.4 461.7 L511.2 460.7 L504.6 458.3 L501.1 455.6 L498.6 451.1 L493.1 445.1 L489.1 438.6 L486.2 430.1 L484.7 417.1 L485.2 405.1 L486.7 395.6Z" fill="#d0c9f2"/>
<path d="M512.5 412.5h1.15M529.9 421.0h1.15M486.3 420.4h1.15M496.1 425.6h1.15M526.0 426.5h1.15M498.7 412.2h1.15M526.1 441.3h1.15M486.4 408.8h1.15M493.4 407.3h1.15M503.6 419.3h1.15M499.3 429.3h1.15M491.7 435.2h1.15M500.5 412.9h1.15M497.1 410.5h1.15M495.9 405.2h1.15M498.7 411.2h1.15M506.9 450.7h1.15M496.7 419.3h1.15M503.4 422.1h1.15M505.0 418.4h1.15M500.0 428.9h1.15M499.9 431.0h1.15M507.7 429.3h1.15M487.8 409.5h1.15M498.5 420.6h1.15M497.4 443.5h1.15M505.4 441.7h1.15M516.1 410.9h1.15M501.0 412.1h1.15M522.7 406.6h1.15M512.9 409.6h1.15M510.2 411.3h1.15M490.0 410.9h1.15M498.8 408.2h1.15M485.4 411.4h1.15M496.8 411.5h1.15M524.6 409.9h1.15M508.1 423.8h1.15M505.3 430.9h1.15M491.8 411.1h1.15M498.0 419.2h1.15M501.9 411.3h1.15M505.3 414.5h1.15M507.1 413.4h1.15M519.1 425.7h1.15M528.6 415.0h1.15M494.0 424.8h1.15M507.7 417.5h1.15M489.9 437.4h1.15M506.5 417.4h1.15M498.3 408.4h1.15M498.6 411.3h1.15M515.1 425.8h1.15M499.8 410.5h1.15M527.1 417.2h1.15M517.4 409.6h1.15M508.3 419.6h1.15M498.3 410.5h1.15M494.0 403.7h1.15M489.8 392.0h1.15M497.2 410.8h1.15M524.7 409.8h1.15M489.9 404.1h1.15M515.8 412.3h1.15M495.0 414.6h1.15M528.5 416.9h1.15M512.5 412.0h1.15M509.4 418.8h1.15M516.0 432.3h1.15M490.6 440.6h1.15M491.0 419.7h1.15M487.3 409.0h1.15M505.5 413.8h1.15M506.2 430.5h1.15M501.6 431.0h1.15M497.8 423.0h1.15M487.7 434.6h1.15M508.0 423.2h1.15M494.2 405.3h1.15M515.8 423.3h1.15M504.0 414.2h1.15M505.2 435.1h1.15M507.2 412.8h1.15M515.8 412.2h1.15M505.5 416.6h1.15M507.8 420.7h1.15M499.5 414.4h1.15M487.3 405.9h1.15M512.8 447.9h1.15M493.2 407.1h1.15M502.8 416.7h1.15M542.2 444.4h1.15M491.6 428.9h1.15M487.8 400.4h1.15M497.6 418.3h1.15M503.6 414.7h1.15M491.1 406.1h1.15M518.1 422.2h1.15M509.1 413.6h1.15M500.7 410.5h1.15M506.5 417.0h1.15M488.2 402.0h1.15M519.2 410.3h1.15M541.3 408.5h1.15M511.3 432.1h1.15M513.5 435.9h1.15M516.0 410.9h1.15M495.3 428.1h1.15M522.1 407.7h1.15" stroke="#d0cedf" stroke-width="1.15" fill="none"/>
<path d="M502.0 411.8h1.15M520.8 457.9h1.15M520.0 422.1h1.15M504.3 429.8h1.15M494.2 435.2h1.15M496.5 404.4h1.15M508.0 425.4h1.15M485.6 423.6h1.15M489.1 397.5h1.15M512.2 427.3h1.15M523.7 409.6h1.15M494.0 436.9h1.15M491.9 405.5h1.15M499.7 440.7h1.15M489.6 430.2h1.15M486.4 410.2h1.15M514.0 424.9h1.15M509.6 418.5h1.15M518.3 424.4h1.15M512.6 411.1h1.15M497.6 440.1h1.15M550.5 389.8h1.15M500.8 413.3h1.15M496.6 430.5h1.15M497.4 423.5h1.15M499.7 424.0h1.15M552.1 437.2h1.15M527.8 406.0h1.15M491.5 406.9h1.15M517.8 411.6h1.15M528.0 427.3h1.15M489.9 397.8h1.15M503.2 439.4h1.15M517.6 432.3h1.15M486.7 417.1h1.15M504.8 433.5h1.15M524.9 407.0h1.15M499.1 417.8h1.15M489.7 404.9h1.15M498.9 411.8h1.15M495.6 418.0h1.15M538.4 401.4h1.15M519.1 408.1h1.15M501.6 434.5h1.15M491.1 431.9h1.15M498.3 419.3h1.15M495.3 444.9h1.15M506.0 421.5h1.15M520.4 426.2h1.15M529.9 405.2h1.15M522.7 407.5h1.15M489.1 432.5h1.15M539.0 407.1h1.15M501.5 415.9h1.15M499.9 413.3h1.15M490.7 417.8h1.15M505.3 449.5h1.15M528.1 407.7h1.15M507.9 430.3h1.15M526.2 406.7h1.15M491.5 427.2h1.15M512.8 439.0h1.15M490.9 430.5h1.15M495.5 403.5h1.15M485.3 422.1h1.15M486.1 409.9h1.15M489.2 419.0h1.15M491.4 418.5h1.15M497.4 420.2h1.15M508.8 437.8h1.15M490.9 398.3h1.15M506.1 431.2h1.15M489.5 429.8h1.15M484.8 417.3h1.15M508.4 412.2h1.15M494.4 434.0h1.15M513.2 411.8h1.15M485.8 423.6h1.15M505.8 412.3h1.15M500.1 434.8h1.15M496.3 414.0h1.15M487.9 432.9h1.15M487.5 429.6h1.15M514.0 434.5h1.15M504.9 417.7h1.15M506.1 416.4h1.15M518.1 422.9h1.15M500.7 416.6h1.15M519.2 409.7h1.15M489.9 409.1h1.15M530.0 453.1h1.15M535.1 422.6h1.15M498.3 437.4h1.15M533.2 421.6h1.15M506.7 428.8h1.15M506.4 455.3h1.15M493.5 421.7h1.15M512.1 411.7h1.15M513.8 409.5h1.15M486.3 418.6h1.15M529.4 406.1h1.15M506.7 430.1h1.15M503.2 413.5h1.15M497.5 419.0h1.15M514.7 428.1h1.15M517.2 426.4h1.15M509.6 421.4h1.15M522.9 406.3h1.15M502.9 415.0h1.15M492.7 408.1h1.15M504.3 446.5h1.15M510.0 434.6h1.15M503.7 432.8h1.15M509.1 424.7h1.15M490.5 406.3h1.15M529.1 406.4h1.15M493.1 412.0h1.15M494.6 433.5h1.15M528.5 407.0h1.15M504.0 439.2h1.15M504.3 420.1h1.15M520.2 409.4h1.15M521.2 408.8h1.15M529.3 417.3h1.15M486.6 399.5h1.15M502.4 411.3h1.15M496.8 410.6h1.15M503.6 411.6h1.15M522.1 423.0h1.15M491.6 394.7h1.15M506.6 419.1h1.15" stroke="#b5ade0" stroke-width="1.15" fill="none"/>
<path d="M509.0 435.4h1.15M508.0 432.1h1.15M501.6 428.4h1.15M523.8 421.6h1.15M533.7 417.1h1.15M543.6 440.9h1.15M519.2 431.4h1.15M519.3 433.8h1.15M502.3 419.8h1.15M494.0 430.1h1.15M551.2 397.5h1.15M549.6 440.3h1.15M547.7 387.7h1.15M505.2 418.3h1.15M501.7 419.8h1.15M506.2 426.8h1.15M525.2 427.4h1.15M512.3 425.8h1.15M498.5 445.5h1.15M504.9 456.0h1.15M558.2 411.8h1.15M496.1 429.8h1.15M491.7 394.8h1.15M520.5 422.7h1.15M488.5 398.3h1.15M507.3 433.6h1.15M505.7 418.0h1.15M496.4 407.4h1.15M513.3 442.1h1.15M492.0 435.4h1.15M536.5 454.0h1.15M533.1 426.9h1.15M521.7 425.0h1.15M504.7 429.1h1.15M496.3 411.6h1.15M538.1 429.9h1.15M508.4 422.9h1.15M530.8 414.7h1.15M544.3 418.8h1.15M490.0 420.3h1.15M494.4 410.4h1.15M496.3 407.8h1.15M493.7 424.7h1.15M518.9 428.4h1.15M491.9 436.0h1.15M499.6 430.0h1.15M488.5 401.4h1.15M493.2 426.1h1.15M535.6 443.7h1.15M523.1 431.8h1.15M516.8 435.0h1.15M532.2 402.2h1.15M557.6 418.6h1.15M485.1 410.2h1.15M546.3 387.0h1.15M506.7 445.3h1.15M497.0 417.3h1.15M496.7 415.3h1.15M534.8 409.0h1.15M492.8 424.8h1.15M520.5 438.7h1.15M534.3 406.3h1.15M498.9 415.9h1.15M486.4 425.9h1.15M496.3 415.7h1.15M526.8 446.0h1.15M495.6 422.8h1.15M505.7 434.6h1.15M502.6 427.2h1.15M540.5 428.4h1.15M490.1 425.4h1.15M533.6 410.3h1.15M523.0 431.4h1.15M508.6 459.5h1.15M526.1 456.2h1.15M488.5 391.6h1.15M497.2 414.4h1.15M493.3 424.4h1.15M536.4 407.0h1.15M498.7 410.5h1.15M519.5 426.5h1.15M488.5 406.9h1.15M486.1 427.4h1.15M497.3 412.7h1.15M489.9 407.0h1.15M487.4 430.2h1.15M511.5 446.0h1.15M546.2 436.9h1.15M508.7 439.2h1.15M487.6 427.3h1.15M490.4 429.8h1.15M523.3 446.1h1.15M505.8 421.6h1.15M554.6 431.2h1.15M550.5 408.0h1.15M529.4 433.9h1.15M492.8 402.6h1.15M535.3 446.1h1.15M535.5 438.1h1.15M497.8 415.1h1.15M514.4 427.2h1.15M487.3 430.6h1.15M535.6 445.0h1.15M498.5 426.8h1.15M489.3 414.8h1.15M508.2 425.3h1.15M537.0 451.4h1.15M519.5 422.9h1.15M496.1 432.3h1.15M496.8 425.7h1.15M495.0 446.6h1.15M492.3 417.3h1.15M549.8 398.5h1.15M524.3 432.2h1.15M501.1 432.8h1.15M521.9 434.0h1.15M495.7 445.2h1.15M506.5 421.9h1.15M503.2 449.7h1.15M489.2 421.0h1.15M516.0 434.3h1.15M491.0 427.2h1.15M505.4 438.4h1.15M542.8 427.5h1.15M532.7 401.7h1.15M487.4 394.4h1.15M497.6 436.5h1.15M492.5 417.6h1.15M501.3 454.6h1.15M504.1 420.7h1.15M506.3 436.4h1.15M497.1 434.4h1.15M508.2 444.9h1.15M487.1 410.9h1.15M488.1 410.9h1.15M517.0 443.9h1.15M514.4 427.7h1.15M495.8 410.6h1.15M495.2 406.1h1.15M494.0 441.7h1.15M495.2 416.8h1.15M495.8 412.0h1.15M505.7 430.3h1.15M555.1 396.2h1.15M492.3 427.9h1.15M498.8 409.2h1.15M519.7 433.3h1.15M500.6 419.5h1.15M485.9 418.8h1.15M493.6 400.8h1.15M536.3 412.5h1.15M487.2 409.0h1.15M531.6 420.6h1.15M496.7 406.9h1.15M530.1 419.8h1.15M499.6 421.9h1.15M503.5 451.7h1.15M514.3 433.0h1.15M538.4 421.1h1.15M493.7 437.3h1.15M489.3 434.6h1.15M504.0 417.0h1.15M535.8 418.1h1.15M501.6 429.7h1.15M506.1 421.9h1.15M498.3 427.3h1.15M534.4 420.4h1.15M491.8 397.8h1.15M523.4 438.8h1.15M519.8 435.9h1.15M505.1 457.8h1.15M532.0 425.7h1.15M501.3 420.8h1.15M553.9 428.5h1.15M556.5 428.0h1.15M541.1 387.7h1.15M508.1 448.6h1.15M496.8 422.5h1.15M510.4 432.1h1.15M546.4 413.3h1.15M533.1 449.7h1.15M541.6 417.3h1.15M485.6 411.5h1.15M489.3 409.6h1.15M489.4 429.3h1.15M537.2 449.9h1.15M490.7 421.3h1.15M514.6 432.5h1.15M553.1 431.8h1.15M491.3 417.7h1.15" stroke="#9a8ce2" stroke-width="1.15" fill="none"/>
<path d="M554.9 398.1h1.15M526.8 421.2h1.15M545.7 447.0h1.15M520.4 455.0h1.15M546.9 435.9h1.15M495.8 439.9h1.15M549.8 414.4h1.15M485.8 411.4h1.15M551.5 398.9h1.15M520.0 460.0h1.15M557.5 414.8h1.15M502.9 423.6h1.15M544.9 389.3h1.15M531.8 417.8h1.15M547.6 436.0h1.15M505.3 455.0h1.15M540.5 416.3h1.15M512.5 456.6h1.15M554.7 393.9h1.15M548.0 413.9h1.15M538.8 438.4h1.15M547.8 392.3h1.15M501.8 440.1h1.15M494.6 405.4h1.15M553.4 412.8h1.15M553.4 396.6h1.15M543.7 433.2h1.15M503.5 433.7h1.15M501.2 422.5h1.15M557.4 412.9h1.15M503.1 416.5h1.15M516.5 426.0h1.15M520.5 428.5h1.15M541.5 413.3h1.15M504.1 435.3h1.15M539.8 428.7h1.15M542.9 397.7h1.15M490.9 427.2h1.15M531.5 418.0h1.15M557.1 397.2h1.15M540.6 446.7h1.15M487.3 397.0h1.15M504.2 450.0h1.15M516.6 436.9h1.15M487.9 398.4h1.15M503.9 433.8h1.15M552.7 424.5h1.15M547.4 433.0h1.15M535.8 401.0h1.15M535.6 413.4h1.15M499.4 423.4h1.15M532.1 409.1h1.15M500.1 453.6h1.15M551.0 441.0h1.15M526.3 460.0h1.15M527.3 416.8h1.15M516.2 461.0h1.15M497.2 435.8h1.15M499.2 417.2h1.15M551.2 393.8h1.15M495.1 402.9h1.15M536.2 423.1h1.15M531.2 409.4h1.15M489.0 398.3h1.15M504.7 417.9h1.15M501.4 446.1h1.15M523.1 443.3h1.15M511.8 423.1h1.15M508.2 424.3h1.15M524.9 428.3h1.15M490.3 393.0h1.15M496.9 438.1h1.15M506.3 449.5h1.15M551.5 400.4h1.15M502.4 425.6h1.15M507.5 432.9h1.15M488.1 399.5h1.15M532.6 409.2h1.15M539.2 415.0h1.15M496.5 437.3h1.15M520.5 427.3h1.15M493.9 411.6h1.15M509.0 423.8h1.15M529.1 425.5h1.15M534.8 400.4h1.15M513.4 424.3h1.15M510.6 423.5h1.15M526.1 420.4h1.15M547.1 444.2h1.15M510.3 449.9h1.15M525.3 435.9h1.15M520.3 430.7h1.15M504.1 445.9h1.15M531.5 413.3h1.15M544.5 413.4h1.15M526.2 460.3h1.15M508.0 429.7h1.15M527.0 419.2h1.15M486.2 426.7h1.15M546.2 407.6h1.15M547.6 411.3h1.15M504.3 428.7h1.15M557.6 407.7h1.15M512.4 434.3h1.15M510.7 445.3h1.15M534.2 433.5h1.15M524.5 423.7h1.15M536.1 422.8h1.15M537.8 410.5h1.15M525.5 449.5h1.15M524.6 439.4h1.15M522.0 436.9h1.15M496.8 446.5h1.15M536.2 420.9h1.15M529.4 441.9h1.15M508.2 426.6h1.15M515.0 446.2h1.15M516.2 457.7h1.15M539.4 414.1h1.15M556.0 401.8h1.15M487.2 418.1h1.15M504.4 457.0h1.15M511.9 434.9h1.15M503.6 422.6h1.15M551.1 440.2h1.15M490.0 416.5h1.15M508.5 447.5h1.15M534.6 402.4h1.15M548.4 392.0h1.15M540.8 415.4h1.15M519.6 424.7h1.15M535.7 410.4h1.15M485.9 404.7h1.15M529.2 422.8h1.15M500.7 441.5h1.15M538.3 415.4h1.15M547.8 398.8h1.15M511.0 456.2h1.15M534.1 402.6h1.15M519.1 455.1h1.15M536.2 400.8h1.15M498.0 419.4h1.15M534.6 447.6h1.15M500.8 446.0h1.15M499.5 416.4h1.15M553.1 435.7h1.15M521.2 445.8h1.15M556.5 419.1h1.15M523.3 438.0h1.15M506.2 425.4h1.15M555.4 404.9h1.15M546.1 399.5h1.15M507.4 436.9h1.15M507.7 419.0h1.15M526.7 418.5h1.15M503.2 439.8h1.15M556.2 395.4h1.15M518.1 443.6h1.15M526.8 446.9h1.15M492.2 436.1h1.15M543.0 392.6h1.15M537.1 424.1h1.15M522.0 450.1h1.15M508.1 456.2h1.15M496.3 444.6h1.15M518.0 433.6h1.15M548.0 405.2h1.15M533.0 422.4h1.15M498.9 436.9h1.15M556.9 420.6h1.15M515.3 432.2h1.15M537.5 419.0h1.15M537.2 454.2h1.15M495.1 416.3h1.15M492.7 411.3h1.15M490.0 423.7h1.15M504.3 436.2h1.15M527.9 435.0h1.15M512.2 431.7h1.15M535.7 436.7h1.15M533.7 408.6h1.15M537.2 447.9h1.15M548.0 432.6h1.15M549.7 442.2h1.15M543.8 415.3h1.15M510.3 443.3h1.15M507.1 436.0h1.15M498.8 438.7h1.15M516.4 426.6h1.15M545.2 386.9h1.15M508.6 419.2h1.15M495.8 446.3h1.15M495.5 424.9h1.15M518.8 424.5h1.15M519.6 437.4h1.15M506.9 415.4h1.15M513.2 439.0h1.15M518.2 431.8h1.15M524.0 422.8h1.15M520.7 439.2h1.15M515.9 428.8h1.15M524.0 433.3h1.15M547.0 398.6h1.15M552.8 431.2h1.15M507.4 445.9h1.15M516.4 425.6h1.15M523.6 435.9h1.15M520.7 450.4h1.15M555.6 400.2h1.15M488.3 417.5h1.15M495.2 426.0h1.15M485.6 405.1h1.15M490.6 423.7h1.15M518.0 425.2h1.15M504.8 444.3h1.15M494.2 428.3h1.15M551.0 413.3h1.15M487.9 425.1h1.15M485.6 417.4h1.15M502.6 442.3h1.15M525.8 430.7h1.15M504.0 452.1h1.15M532.5 421.4h1.15M504.9 418.2h1.15M487.4 394.8h1.15M486.7 396.9h1.15M540.3 420.1h1.15M488.4 425.0h1.15M514.7 453.2h1.15M494.8 445.6h1.15M534.6 393.8h1.15M487.3 431.9h1.15M522.6 429.0h1.15M495.4 404.9h1.15M494.7 436.1h1.15M510.6 423.3h1.15M547.2 411.6h1.15M508.3 443.1h1.15M550.6 438.0h1.15M538.0 417.6h1.15M544.7 422.7h1.15M511.3 437.2h1.15M540.5 388.1h1.15M532.6 426.3h1.15M499.9 412.3h1.15M512.2 438.4h1.15M494.5 445.1h1.15M487.8 433.4h1.15M509.7 441.9h1.15M485.2 414.9h1.15M522.8 453.2h1.15M521.6 430.1h1.15M509.8 442.6h1.15M489.3 418.8h1.15M505.0 432.1h1.15M510.9 430.3h1.15M503.0 451.6h1.15M532.8 449.2h1.15M487.8 424.8h1.15M535.0 446.9h1.15M535.6 405.4h1.15M544.2 397.2h1.15M503.4 448.0h1.15M502.2 444.3h1.15M490.7 416.9h1.15M503.5 438.4h1.15M539.0 449.0h1.15M495.2 441.9h1.15M496.9 447.9h1.15M527.9 425.6h1.15M502.5 443.9h1.15M553.4 395.6h1.15M533.9 414.5h1.15M495.0 439.8h1.15M531.0 452.9h1.15M556.2 415.2h1.15M557.4 421.9h1.15M540.4 429.6h1.15M512.6 456.2h1.15M551.0 396.0h1.15M493.0 444.7h1.15M544.8 388.3h1.15M499.7 441.8h1.15M488.9 428.3h1.15M543.3 390.3h1.15M535.3 409.2h1.15M507.8 431.5h1.15M520.0 434.3h1.15M509.8 446.9h1.15M492.1 399.4h1.15M491.8 402.0h1.15M511.2 437.6h1.15" stroke="#7e6ce4" stroke-width="1.15" fill="none"/>
<path d="M543.9 403.1h1.15M519.2 450.0h1.15M539.6 407.9h1.15M508.9 455.5h1.15M495.7 435.9h1.15M540.4 414.1h1.15M499.4 437.5h1.15M549.0 390.3h1.15M514.4 434.4h1.15M555.6 420.3h1.15M541.1 424.6h1.15M548.8 420.3h1.15M543.5 416.1h1.15M541.6 403.0h1.15M513.2 431.9h1.15M520.2 438.5h1.15M527.5 452.9h1.15M524.8 458.5h1.15M511.8 449.6h1.15M512.2 459.0h1.15M542.3 413.6h1.15M529.0 423.5h1.15M531.7 436.5h1.15M502.1 449.4h1.15M556.0 408.8h1.15M514.1 452.8h1.15M518.4 433.3h1.15M498.6 449.2h1.15M499.9 418.4h1.15M500.3 438.0h1.15M492.9 439.4h1.15M541.4 445.6h1.15M551.1 395.9h1.15M507.1 455.3h1.15M553.6 405.9h1.15M524.7 440.5h1.15M536.7 406.8h1.15M548.1 394.8h1.15M510.1 426.4h1.15M499.1 447.6h1.15M504.7 432.2h1.15M532.8 455.1h1.15M524.0 437.6h1.15M503.2 425.8h1.15M541.7 426.0h1.15M526.6 434.9h1.15M503.8 438.2h1.15M556.3 419.9h1.15M509.9 448.1h1.15M536.5 453.4h1.15M526.3 435.9h1.15M501.4 453.8h1.15M507.0 454.0h1.15M546.8 402.6h1.15M542.8 416.1h1.15M538.1 452.7h1.15M514.7 435.3h1.15M549.0 415.1h1.15M517.4 450.8h1.15M545.5 436.4h1.15M548.6 422.0h1.15M549.5 443.6h1.15M522.0 453.9h1.15M516.1 431.0h1.15M503.4 451.3h1.15M501.2 455.7h1.15M493.2 399.6h1.15M524.6 453.8h1.15M502.4 442.0h1.15M554.7 408.0h1.15M518.6 430.9h1.15M530.3 439.0h1.15M547.6 391.7h1.15M547.5 426.1h1.15M548.8 430.6h1.15M507.1 442.3h1.15M538.7 415.8h1.15M554.1 422.6h1.15M514.5 431.1h1.15M550.9 402.3h1.15M540.2 424.5h1.15M506.0 445.4h1.15M555.3 412.4h1.15M523.8 423.9h1.15M542.0 437.1h1.15M521.4 456.2h1.15M548.7 436.2h1.15M546.0 420.4h1.15M555.9 413.4h1.15M490.0 396.4h1.15M515.5 446.0h1.15M530.2 415.7h1.15M493.4 399.5h1.15M513.8 429.8h1.15M538.8 414.9h1.15M535.0 403.6h1.15M514.4 434.3h1.15M518.3 432.8h1.15M547.1 391.2h1.15M508.9 433.9h1.15M510.0 431.0h1.15M515.2 432.5h1.15M540.3 446.0h1.15M501.2 413.0h1.15M532.3 405.4h1.15M522.2 434.7h1.15M531.5 415.0h1.15M546.5 421.1h1.15M492.5 397.7h1.15M517.7 454.6h1.15M532.0 450.0h1.15M508.5 456.8h1.15M538.0 400.1h1.15M498.0 418.4h1.15M557.1 407.5h1.15M499.5 438.6h1.15M496.5 426.1h1.15M537.0 428.1h1.15M537.8 435.6h1.15M526.6 442.7h1.15M546.5 408.4h1.15M535.3 398.3h1.15M533.6 414.5h1.15M540.3 418.1h1.15M504.6 456.1h1.15M551.6 419.3h1.15M491.5 430.7h1.15M526.8 432.8h1.15M542.1 388.0h1.15M506.4 456.5h1.15M549.3 396.7h1.15M517.9 424.5h1.15M546.1 392.5h1.15M540.1 399.2h1.15M495.4 447.4h1.15M514.6 439.4h1.15M532.8 424.1h1.15M542.5 441.9h1.15M492.5 411.5h1.15M508.9 443.0h1.15M508.1 431.6h1.15M541.9 393.0h1.15M510.0 425.1h1.15M540.6 400.3h1.15M502.3 437.6h1.15M544.8 419.1h1.15M505.2 454.8h1.15M528.4 436.2h1.15M553.6 424.0h1.15M510.9 445.1h1.15M549.3 424.3h1.15M512.7 421.3h1.15M489.5 429.6h1.15M543.2 423.4h1.15M532.1 403.5h1.15M535.9 418.0h1.15M557.6 410.4h1.15M529.5 424.1h1.15M531.0 453.5h1.15M509.8 450.2h1.15M511.4 444.2h1.15M544.1 443.5h1.15M523.9 440.6h1.15M506.7 451.3h1.15M535.7 392.3h1.15M524.5 435.9h1.15M510.4 454.4h1.15M516.1 423.9h1.15M543.0 445.1h1.15M555.7 400.8h1.15M513.8 454.3h1.15M514.8 441.3h1.15M500.9 444.3h1.15M532.9 448.0h1.15M511.8 446.8h1.15M538.8 406.4h1.15M527.9 417.2h1.15M523.3 446.3h1.15M502.5 446.1h1.15M549.7 416.9h1.15M499.8 444.0h1.15M551.2 437.5h1.15M532.5 405.0h1.15M538.1 421.9h1.15M486.7 411.3h1.15M537.3 396.8h1.15M523.4 426.0h1.15M555.4 412.5h1.15M533.4 405.7h1.15M495.6 443.3h1.15M528.7 438.0h1.15M508.0 432.5h1.15M491.5 400.3h1.15M544.5 416.7h1.15M522.2 445.5h1.15M538.1 400.6h1.15M537.1 413.1h1.15M516.3 423.3h1.15M516.9 456.7h1.15M512.8 435.2h1.15M536.7 440.2h1.15M534.0 407.6h1.15M543.5 433.1h1.15M514.0 441.1h1.15M532.2 434.1h1.15M525.7 459.5h1.15M539.9 425.0h1.15M543.2 447.5h1.15M522.5 446.4h1.15M527.0 448.6h1.15M536.6 416.2h1.15M547.5 388.7h1.15M544.7 428.3h1.15M507.0 439.9h1.15M524.2 435.6h1.15M554.5 393.2h1.15M539.8 395.0h1.15M540.1 411.6h1.15M509.4 426.2h1.15M517.4 439.2h1.15M540.9 403.1h1.15M538.0 404.7h1.15M508.2 432.6h1.15M531.2 457.5h1.15M539.0 398.3h1.15M539.8 433.7h1.15M488.1 434.2h1.15M545.0 449.9h1.15M557.2 422.4h1.15M531.9 455.8h1.15M550.2 405.4h1.15M558.3 405.9h1.15M538.8 417.5h1.15M536.2 410.8h1.15M544.5 442.7h1.15M512.7 460.9h1.15M496.9 446.6h1.15M500.4 425.5h1.15M531.7 423.2h1.15M513.9 452.1h1.15M544.6 445.0h1.15M529.5 447.7h1.15M515.2 442.6h1.15M510.4 454.1h1.15M545.7 415.1h1.15M543.4 400.6h1.15M502.6 433.1h1.15M541.5 446.4h1.15M506.3 449.9h1.15M526.5 432.5h1.15M536.8 426.9h1.15M537.8 452.2h1.15M525.9 434.1h1.15M508.8 446.8h1.15M533.4 401.4h1.15M533.3 399.5h1.15M500.4 411.8h1.15M548.1 441.5h1.15M528.9 420.6h1.15M541.3 419.1h1.15M493.9 439.4h1.15M557.4 400.3h1.15M505.7 457.7h1.15M512.1 446.1h1.15M543.2 400.7h1.15M548.4 420.4h1.15M554.6 432.4h1.15M499.5 451.7h1.15M492.5 398.6h1.15M535.6 450.6h1.15M552.0 401.8h1.15M510.6 458.1h1.15M509.9 452.8h1.15M523.7 450.2h1.15M547.5 399.9h1.15M521.4 447.3h1.15M537.8 430.0h1.15M506.2 447.0h1.15M556.0 418.1h1.15M543.1 412.5h1.15M499.0 442.4h1.15M535.3 431.9h1.15M525.5 453.0h1.15M524.5 438.4h1.15M499.5 441.3h1.15M510.9 441.1h1.15M558.4 412.4h1.15M531.9 446.2h1.15M534.9 451.6h1.15M501.6 449.7h1.15M514.0 431.7h1.15M518.2 429.5h1.15M523.4 455.6h1.15M513.4 444.2h1.15M511.9 438.9h1.15M508.6 447.4h1.15M506.1 428.2h1.15M497.5 449.7h1.15M549.3 437.8h1.15M491.9 442.1h1.15M545.3 389.2h1.15M489.9 405.0h1.15M552.5 404.6h1.15M500.1 443.8h1.15M548.0 414.9h1.15M498.5 446.6h1.15M533.2 398.1h1.15M529.4 426.0h1.15M520.7 433.2h1.15M526.8 426.0h1.15M537.9 446.6h1.15M546.2 401.8h1.15" stroke="#634be6" stroke-width="1.15" fill="none"/>
<path d="M539.2 398.1h1.15M550.0 437.9h1.15M553.4 425.0h1.15M526.8 456.8h1.15M532.5 416.9h1.15M535.8 440.8h1.15M550.6 393.7h1.15M555.2 413.0h1.15M545.9 410.3h1.15M542.4 431.2h1.15M536.7 411.9h1.15M548.6 441.5h1.15M551.1 395.9h1.15M539.4 427.7h1.15M536.3 445.7h1.15M513.3 447.3h1.15M533.4 439.0h1.15M551.7 395.3h1.15M553.2 397.6h1.15M516.2 432.8h1.15M514.3 447.7h1.15M533.9 393.4h1.15M534.5 403.4h1.15M535.9 439.5h1.15M541.9 446.0h1.15M523.0 430.9h1.15M511.1 436.0h1.15M545.6 393.0h1.15M528.0 446.4h1.15M544.0 400.0h1.15M540.8 447.8h1.15M534.2 442.3h1.15M520.2 439.0h1.15M533.5 431.4h1.15M534.8 449.8h1.15M504.8 454.9h1.15M532.2 443.3h1.15M537.2 415.6h1.15M511.7 436.2h1.15M522.7 454.4h1.15M530.4 452.8h1.15M521.9 454.1h1.15M487.9 429.8h1.15M547.9 404.2h1.15M497.1 435.3h1.15M553.2 410.4h1.15M515.6 446.8h1.15M533.8 401.1h1.15M533.2 421.2h1.15M550.8 419.4h1.15M549.7 410.8h1.15M530.7 415.8h1.15M507.9 443.1h1.15M539.6 421.1h1.15M520.8 437.7h1.15M549.4 392.0h1.15M540.2 434.4h1.15M550.2 424.5h1.15M528.3 441.1h1.15M553.3 423.4h1.15M541.6 399.4h1.15M556.1 394.9h1.15M524.0 438.3h1.15M528.8 446.1h1.15M519.9 424.0h1.15M542.5 394.0h1.15M521.9 446.4h1.15M511.0 443.4h1.15M539.9 439.5h1.15M535.0 392.7h1.15M533.1 427.2h1.15M541.4 439.8h1.15M547.0 410.9h1.15M557.9 403.2h1.15M540.5 419.4h1.15M553.7 406.4h1.15M550.8 406.0h1.15M551.9 398.0h1.15M529.0 446.4h1.15M525.7 421.1h1.15M551.8 439.6h1.15M547.6 431.7h1.15M520.2 447.8h1.15M503.3 441.2h1.15M507.4 454.4h1.15M537.0 450.3h1.15M513.4 446.2h1.15M544.3 428.9h1.15M535.3 452.7h1.15M534.1 411.7h1.15M504.9 449.8h1.15M540.7 426.3h1.15M524.6 420.9h1.15M532.5 397.2h1.15M556.1 420.7h1.15M545.1 390.9h1.15M537.7 452.7h1.15M541.1 436.5h1.15M547.9 414.6h1.15M541.0 431.7h1.15M546.1 400.4h1.15M529.8 447.3h1.15M555.6 397.1h1.15M552.5 415.8h1.15M554.1 399.5h1.15M532.7 437.7h1.15M543.7 408.5h1.15M539.1 421.5h1.15M537.8 447.5h1.15M530.5 412.5h1.15M538.8 433.4h1.15M545.5 424.2h1.15M540.2 449.9h1.15M532.2 455.3h1.15M531.9 397.4h1.15M489.4 431.4h1.15M543.0 444.2h1.15M506.4 450.2h1.15M544.0 446.5h1.15M540.2 406.4h1.15M537.2 421.1h1.15M552.7 396.8h1.15M557.5 410.7h1.15M539.7 443.9h1.15M535.2 444.2h1.15M541.5 419.8h1.15M537.9 419.0h1.15M488.5 432.4h1.15M521.5 437.0h1.15M512.3 460.6h1.15M546.6 430.1h1.15M524.2 435.6h1.15M545.7 424.4h1.15M556.1 406.3h1.15M505.3 450.7h1.15M547.9 406.9h1.15M557.3 398.0h1.15M526.3 447.8h1.15M509.2 450.9h1.15M526.2 455.0h1.15M541.3 447.1h1.15M514.5 444.1h1.15M534.9 452.9h1.15M509.3 442.7h1.15M528.9 458.9h1.15M542.2 415.6h1.15M516.8 439.0h1.15M540.0 430.1h1.15M535.8 402.3h1.15M545.1 404.0h1.15M506.4 453.1h1.15M540.5 441.9h1.15M551.1 405.4h1.15M555.9 414.8h1.15M528.4 451.4h1.15M508.5 446.9h1.15M543.3 403.9h1.15M536.2 427.1h1.15M487.8 402.1h1.15M540.9 433.9h1.15M540.2 392.8h1.15M553.1 393.4h1.15M513.9 446.8h1.15M522.1 430.0h1.15M512.9 456.3h1.15M532.3 431.9h1.15M535.3 415.5h1.15M521.0 445.1h1.15M552.0 411.2h1.15M550.3 416.1h1.15M546.6 399.8h1.15M553.2 418.9h1.15M537.0 446.9h1.15M515.5 440.7h1.15M532.5 440.6h1.15M546.9 412.4h1.15M543.6 416.1h1.15M555.6 419.6h1.15M541.3 436.9h1.15M541.8 390.6h1.15M526.5 455.2h1.15M518.7 437.8h1.15M551.7 424.7h1.15M543.6 433.6h1.15M539.1 444.6h1.15M543.7 426.8h1.15M550.2 396.3h1.15M501.2 439.5h1.15M531.5 414.9h1.15M541.2 440.5h1.15M535.6 449.1h1.15M537.1 440.1h1.15M547.4 441.6h1.15M550.7 416.6h1.15M511.5 431.4h1.15M525.9 435.0h1.15M518.8 423.5h1.15M540.4 429.3h1.15M542.9 391.8h1.15M543.0 409.2h1.15M534.3 393.6h1.15M545.4 447.2h1.15M530.7 436.5h1.15M540.8 445.8h1.15M533.9 399.6h1.15M555.8 406.6h1.15M552.6 403.4h1.15M517.6 456.4h1.15M545.9 426.1h1.15M521.0 453.7h1.15M534.5 414.5h1.15M557.5 416.1h1.15M546.9 407.5h1.15M538.5 418.4h1.15M518.2 455.3h1.15M536.6 454.6h1.15M519.1 446.2h1.15M534.3 435.1h1.15M534.9 453.4h1.15M529.9 448.3h1.15M551.6 416.7h1.15M541.8 442.3h1.15M530.4 457.8h1.15M533.2 443.0h1.15M534.8 392.3h1.15M509.6 439.4h1.15M541.0 434.3h1.15M540.5 420.8h1.15M513.2 440.4h1.15M517.8 446.4h1.15M549.7 405.2h1.15M557.1 415.4h1.15M539.7 412.2h1.15M519.3 439.2h1.15M543.8 387.9h1.15M536.5 406.1h1.15M538.7 397.3h1.15M544.3 404.1h1.15M520.8 450.7h1.15M549.3 389.1h1.15M530.8 422.4h1.15M540.9 442.6h1.15M540.6 394.5h1.15M548.0 409.9h1.15M502.6 433.6h1.15M502.9 456.3h1.15M510.5 451.4h1.15M545.2 430.9h1.15M528.9 450.2h1.15M526.7 453.5h1.15M553.7 416.7h1.15M532.4 409.3h1.15M525.6 446.4h1.15M553.1 403.2h1.15M538.2 427.4h1.15M528.3 424.8h1.15M522.6 453.4h1.15M547.3 407.1h1.15M554.1 435.2h1.15M522.6 453.9h1.15M514.6 445.7h1.15M546.1 432.6h1.15M549.9 438.8h1.15M551.8 436.8h1.15M554.4 407.5h1.15M494.8 446.6h1.15M501.2 448.8h1.15M516.8 457.6h1.15M549.7 424.9h1.15M507.6 435.9h1.15M552.7 429.6h1.15M532.9 397.7h1.15M530.8 455.7h1.15M557.7 421.3h1.15M515.2 453.4h1.15M532.8 438.0h1.15M546.4 442.7h1.15M499.8 424.8h1.15M541.2 395.8h1.15M521.7 456.1h1.15M526.3 431.1h1.15M526.0 429.3h1.15M511.4 444.9h1.15M527.8 431.0h1.15M524.2 438.3h1.15M549.9 413.4h1.15M542.2 423.5h1.15M535.2 414.4h1.15M548.6 423.6h1.15M546.0 392.9h1.15M550.0 405.2h1.15M528.0 458.3h1.15M539.6 403.1h1.15M556.6 407.7h1.15M507.7 449.8h1.15M530.6 452.7h1.15M524.4 445.9h1.15M555.0 417.3h1.15M539.2 431.6h1.15M543.4 451.4h1.15M538.8 452.4h1.15M549.5 442.2h1.15M534.5 416.5h1.15M531.6 457.3h1.15M551.7 439.4h1.15M554.9 417.5h1.15M533.3 453.4h1.15M543.2 387.5h1.15M541.3 410.6h1.15M520.8 440.1h1.15M541.1 409.4h1.15M509.6 454.3h1.15M535.5 452.8h1.15M555.5 400.3h1.15M506.9 433.3h1.15M519.4 439.5h1.15M528.1 437.6h1.15M511.5 454.3h1.15M515.1 452.0h1.15M540.8 399.5h1.15M532.7 408.7h1.15M510.1 439.7h1.15M547.1 389.1h1.15M537.9 437.7h1.15M506.8 457.5h1.15M539.3 411.5h1.15M520.7 448.6h1.15M522.5 449.3h1.15M544.8 417.7h1.15M495.4 445.9h1.15M502.4 450.2h1.15M529.7 432.1h1.15M527.8 457.5h1.15M528.6 457.1h1.15M519.1 447.5h1.15M541.9 416.7h1.15M542.7 405.6h1.15M515.7 441.7h1.15M551.3 402.2h1.15M544.4 402.8h1.15M525.1 440.8h1.15M546.3 420.1h1.15M537.2 431.8h1.15M538.4 445.2h1.15M513.3 447.8h1.15M526.5 453.3h1.15M547.6 400.8h1.15M545.3 386.4h1.15M549.3 388.0h1.15M489.4 425.3h1.15M534.5 402.7h1.15M539.4 452.3h1.15M526.1 432.4h1.15M535.8 396.1h1.15M552.8 423.4h1.15M529.1 432.1h1.15M534.2 394.4h1.15M510.0 450.3h1.15M504.1 436.5h1.15M554.7 413.5h1.15M540.2 438.9h1.15M545.8 397.5h1.15M532.2 443.5h1.15M523.6 458.5h1.15M530.1 430.8h1.15M546.7 404.3h1.15M541.1 451.9h1.15M548.5 425.4h1.15M546.5 428.5h1.15M547.9 391.8h1.15M526.9 456.6h1.15M532.4 440.1h1.15M548.4 419.8h1.15M531.8 413.0h1.15M525.0 456.3h1.15M498.0 427.6h1.15M546.4 407.1h1.15M521.1 457.2h1.15M551.7 425.1h1.15M520.6 441.1h1.15M489.4 418.5h1.15M531.5 423.4h1.15M515.4 457.8h1.15M544.5 443.4h1.15M553.9 412.8h1.15M543.5 439.9h1.15M533.1 403.9h1.15M534.1 408.8h1.15M512.8 445.6h1.15M521.0 437.2h1.15M551.6 420.8h1.15M509.7 445.6h1.15M506.5 456.9h1.15M536.7 405.0h1.15M520.1 447.0h1.15M540.1 414.1h1.15M503.1 453.0h1.15M549.7 426.7h1.15M519.4 440.3h1.15M535.6 403.7h1.15M534.4 429.7h1.15M552.9 436.2h1.15M531.7 450.0h1.15M550.7 435.5h1.15M541.5 421.7h1.15M536.1 406.0h1.15M527.4 439.6h1.15M486.4 403.0h1.15M550.0 396.2h1.15M551.4 419.5h1.15M535.1 434.9h1.15M545.3 399.4h1.15M536.4 411.6h1.15M498.2 439.4h1.15M545.7 392.2h1.15M551.0 428.6h1.15M513.1 441.1h1.15M536.4 421.5h1.15M537.7 398.7h1.15M536.4 398.1h1.15M550.5 395.2h1.15M500.9 448.5h1.15M550.4 400.1h1.15M507.7 450.0h1.15M519.1 431.4h1.15M545.1 421.9h1.15M542.2 448.8h1.15M541.6 424.1h1.15M515.1 442.9h1.15M550.6 406.5h1.15M546.3 413.1h1.15M537.0 412.7h1.15M541.4 406.5h1.15M551.3 406.8h1.15M556.6 402.1h1.15M552.1 419.2h1.15M547.7 399.2h1.15M505.7 445.5h1.15M554.0 422.0h1.15M497.6 430.0h1.15M546.7 390.4h1.15M558.0 417.9h1.15M556.6 427.5h1.15M551.4 420.5h1.15M515.1 427.3h1.15M553.9 407.8h1.15M531.1 437.9h1.15M537.6 450.5h1.15M487.7 432.1h1.15M516.3 436.1h1.15M550.4 413.7h1.15M538.9 434.2h1.15M525.2 444.6h1.15M553.2 431.5h1.15M553.4 430.6h1.15M544.7 430.0h1.15M529.8 452.8h1.15M542.1 423.3h1.15M537.1 436.9h1.15M533.6 430.9h1.15M541.5 423.0h1.15M547.4 434.7h1.15M549.5 388.8h1.15M517.4 453.4h1.15M553.8 408.3h1.15M541.7 401.8h1.15M545.0 432.8h1.15M492.4 421.2h1.15M518.5 446.4h1.15M542.2 435.8h1.15M541.1 449.6h1.15M534.5 420.6h1.15M513.2 454.5h1.15M539.9 443.2h1.15M550.9 402.3h1.15M549.1 396.5h1.15M511.3 451.1h1.15M554.3 404.0h1.15M555.4 402.8h1.15M553.8 430.2h1.15M546.1 432.1h1.15M508.0 431.1h1.15M552.7 417.0h1.15M530.2 425.3h1.15M524.4 453.0h1.15M496.6 444.4h1.15M517.3 438.1h1.15M543.8 395.7h1.15M541.4 389.5h1.15M551.2 396.8h1.15M553.1 434.6h1.15M557.7 402.9h1.15M545.0 427.9h1.15M557.8 408.3h1.15M518.6 460.7h1.15M524.6 452.7h1.15M524.3 457.8h1.15M524.8 438.5h1.15M536.6 416.5h1.15M552.4 408.1h1.15M504.6 447.9h1.15M539.2 390.7h1.15M553.2 408.0h1.15M527.5 441.3h1.15M539.5 447.3h1.15M523.0 447.3h1.15M540.0 443.1h1.15M513.6 452.0h1.15M532.8 411.8h1.15M547.8 396.6h1.15M534.5 437.7h1.15M540.4 436.7h1.15M490.6 412.8h1.15M542.5 414.0h1.15M526.6 433.6h1.15M546.5 398.9h1.15M536.0 448.1h1.15M514.8 431.3h1.15M537.8 452.4h1.15M500.6 434.7h1.15M512.5 459.5h1.15M547.5 424.5h1.15M516.6 453.3h1.15M544.7 444.4h1.15M543.0 398.9h1.15M534.6 445.4h1.15M526.3 437.0h1.15M541.6 432.6h1.15M540.3 451.6h1.15M543.1 390.4h1.15M557.2 399.9h1.15M557.0 401.3h1.15M522.6 439.7h1.15M524.1 423.3h1.15M521.5 448.5h1.15M501.1 445.5h1.15M543.1 391.9h1.15M547.9 444.7h1.15M526.2 449.6h1.15M556.9 398.2h1.15M519.6 461.1h1.15M518.8 430.5h1.15M543.4 448.2h1.15M535.4 450.6h1.15M530.1 433.2h1.15M555.5 405.1h1.15M542.5 447.6h1.15M501.2 455.3h1.15M524.0 452.4h1.15M512.9 446.9h1.15M498.1 431.6h1.15M531.8 424.2h1.15M490.4 416.3h1.15M519.1 429.0h1.15M548.4 397.8h1.15M513.7 435.1h1.15M535.9 431.6h1.15M532.5 396.0h1.15M553.8 406.4h1.15M545.0 405.7h1.15M550.1 394.1h1.15M508.6 443.8h1.15M548.7 432.9h1.15M551.9 430.2h1.15M517.8 458.4h1.15M503.1 454.0h1.15M508.0 437.2h1.15M539.1 391.3h1.15M543.1 444.9h1.15M533.3 433.3h1.15M523.9 448.8h1.15M516.1 441.5h1.15M532.4 407.8h1.15M537.7 432.6h1.15M516.9 454.6h1.15M540.8 405.3h1.15M554.9 411.8h1.15M529.6 427.0h1.15M505.0 454.1h1.15M545.8 428.5h1.15M543.8 425.3h1.15M538.2 428.9h1.15M529.0 438.2h1.15M532.3 395.2h1.15M498.5 440.3h1.15M518.0 430.4h1.15M531.6 442.3h1.15M519.9 451.1h1.15M545.0 392.1h1.15M525.8 438.8h1.15M516.6 455.0h1.15M535.2 437.4h1.15M519.9 429.2h1.15M527.7 433.4h1.15M542.5 423.5h1.15M537.2 408.5h1.15M552.8 404.5h1.15M554.1 418.3h1.15M518.0 453.8h1.15M517.3 452.4h1.15M536.4 405.2h1.15M548.2 432.0h1.15M546.4 442.4h1.15M540.9 435.1h1.15M558.2 411.7h1.15M509.1 444.3h1.15M544.6 448.9h1.15M544.1 446.0h1.15M516.3 445.0h1.15M543.9 447.2h1.15M544.6 416.9h1.15M527.4 416.7h1.15M537.2 429.1h1.15M556.2 421.9h1.15M519.0 433.3h1.15M546.8 436.7h1.15M542.7 392.8h1.15M537.6 420.4h1.15M536.3 405.5h1.15M549.8 414.0h1.15M505.5 438.9h1.15M549.0 400.2h1.15M523.2 450.6h1.15M558.4 411.0h1.15M546.8 400.1h1.15M537.6 420.3h1.15M555.2 421.2h1.15M545.2 425.4h1.15M543.3 395.8h1.15M513.4 451.7h1.15M535.6 399.7h1.15M527.9 432.2h1.15M542.5 417.3h1.15M492.8 438.3h1.15M554.8 400.3h1.15M537.7 391.2h1.15M539.3 398.1h1.15M539.1 443.1h1.15M512.1 444.3h1.15M555.4 428.9h1.15M544.7 427.9h1.15M548.5 445.1h1.15M535.1 454.5h1.15M548.4 439.5h1.15M512.3 429.6h1.15M530.1 416.3h1.15M551.3 412.7h1.15M527.4 448.5h1.15M497.7 448.2h1.15M527.1 431.5h1.15M545.8 420.6h1.15M523.0 430.1h1.15M542.1 408.1h1.15M556.5 412.9h1.15M545.2 402.6h1.15M549.9 422.7h1.15M535.8 401.7h1.15M550.1 443.3h1.15M544.8 406.3h1.15M524.1 448.8h1.15M536.9 421.5h1.15M517.2 445.2h1.15M547.8 445.4h1.15M544.0 414.7h1.15M545.4 432.8h1.15M545.5 428.7h1.15" stroke="#482ae7" stroke-width="1.15" fill="none"/>
<text x="0.00" y="0.00" font-size="8.0" text-anchor="middle" fill="#000" font-family='"Liberation Sans", sans-serif' transform="translate(521.85 378.50) scale(0.74 1)">blue</text>
<defs><linearGradient id="gblue" x1="0" x2="0" y1="0" y2="1"><stop offset="0" stop-color="#3a1ae8"/><stop offset="0.5" stop-color="#f0f0f0"/><stop offset="1" stop-color="#c4c4c4"/></linearGradient></defs>
<rect x="570.35" y="411.30" width="3.00" height="35.00" fill="url(#gblue)" stroke="none" stroke-width="1"/>
<line x1="575.85" y1="411.60" x2="578.25" y2="411.60" stroke="#333" stroke-width="1.0"/>
<line x1="575.85" y1="446.40" x2="578.25" y2="446.40" stroke="#333" stroke-width="0.9"/>
<line x1="70.22" y1="573.96" x2="109.03" y2="535.16" stroke="#d77cf6" stroke-width="1.3"/>
<path d="M152.76 537.07 L151.89 536.33 L150.88 535.73 L149.76 535.27 L148.53 534.95 L147.20 534.79 L145.78 534.77 L144.27 534.91 L142.70 535.19 L141.07 535.63 L139.40 536.21 L137.70 536.92 L135.98 537.77 L134.25 538.75 L132.53 539.85 L130.83 541.06 L129.17 542.38 L127.55 543.78 L125.99 545.27 L124.50 546.83 L123.09 548.45 L121.78 550.12 L120.57 551.81 L119.47 553.53 L118.49 555.26 L117.64 556.98 L116.92 558.69 L116.34 560.36 L115.91 561.99 L115.62 563.56 L115.49 565.06 L115.50 566.48 L115.67 567.82 L115.98 569.05 L116.44 570.17 L117.05 571.17 L117.79 572.05 L118.66 572.79 L119.67 573.39 L120.79 573.85 L122.02 574.17 L123.35 574.33 L124.77 574.35 L126.28 574.21 L127.85 573.93 L129.48 573.49 L131.15 572.91 L132.85 572.20 L134.57 571.35 L136.30 570.37 L138.02 569.27 L139.72 568.06 L141.38 566.74 L143.00 565.34 L144.56 563.85 L146.05 562.29 L147.46 560.67 L148.77 559.00 L149.98 557.31 L151.08 555.59 L152.06 553.86 L152.91 552.14 L153.63 550.43 L154.21 548.76 L154.64 547.13 L154.93 545.56 L155.06 544.06 L155.05 542.64 L154.88 541.30 L154.57 540.07 L154.11 538.95 L153.50 537.95Z" fill="#d999fa"/>
<path d="M195.27 540.21 L194.03 539.08 L192.68 538.06 L191.25 537.17 L189.74 536.41 L188.16 535.79 L186.53 535.31 L184.85 534.98 L183.14 534.80 L181.42 534.77 L179.69 534.88 L177.98 535.15 L176.28 535.57 L174.62 536.13 L173.01 536.83 L171.46 537.67 L169.98 538.63 L168.58 539.72 L167.28 540.91 L166.08 542.22 L164.99 543.61 L164.03 545.09 L163.19 546.64 L162.49 548.26 L161.93 549.92 L161.52 551.61 L161.25 553.33 L161.13 555.06 L161.16 556.78 L161.35 558.48 L161.68 560.16 L162.16 561.80 L162.78 563.37 L163.54 564.89 L164.43 566.32 L165.44 567.66 L166.58 568.91 L167.82 570.04 L169.17 571.06 L170.60 571.95 L172.11 572.71 L173.69 573.33 L175.32 573.81 L177.00 574.14 L178.71 574.32 L180.43 574.35 L182.16 574.24 L183.87 573.97 L185.57 573.55 L187.23 572.99 L188.84 572.29 L190.39 571.45 L191.87 570.49 L193.27 569.40 L194.57 568.21 L195.77 566.90 L196.86 565.51 L197.82 564.03 L198.66 562.48 L199.36 560.86 L199.92 559.20 L200.33 557.51 L200.60 555.79 L200.72 554.06 L200.69 552.34 L200.50 550.64 L200.17 548.96 L199.69 547.32 L199.07 545.75 L198.31 544.23 L197.42 542.80 L196.41 541.46Z" fill="#f1ecfa"/>
<line x1="220.97" y1="548.96" x2="232.17" y2="560.16" stroke="#000" stroke-width="1.5"/>
<line x1="220.97" y1="560.16" x2="232.17" y2="548.96" stroke="#000" stroke-width="1.5"/>
<path d="M285.36 541.43 L284.02 540.18 L282.59 539.05 L281.08 538.04 L279.50 537.15 L277.87 536.39 L276.19 535.78 L274.48 535.30 L272.76 534.97 L271.03 534.80 L269.32 534.77 L267.62 534.89 L265.96 535.16 L264.35 535.58 L262.79 536.14 L261.31 536.85 L259.91 537.69 L258.61 538.65 L257.41 539.74 L256.32 540.94 L255.35 542.25 L254.51 543.65 L253.81 545.13 L253.25 546.68 L252.83 548.30 L252.55 549.96 L252.43 551.65 L252.46 553.37 L252.64 555.10 L252.97 556.82 L253.44 558.53 L254.06 560.20 L254.82 561.83 L255.70 563.41 L256.72 564.92 L257.85 566.35 L259.09 567.69 L260.43 568.94 L261.86 570.07 L263.37 571.08 L264.95 571.97 L266.58 572.73 L268.26 573.34 L269.97 573.82 L271.69 574.15 L273.42 574.32 L275.13 574.35 L276.83 574.23 L278.49 573.96 L280.10 573.54 L281.66 572.98 L283.14 572.27 L284.54 571.43 L285.84 570.47 L287.04 569.38 L288.13 568.18 L289.10 566.87 L289.94 565.47 L290.64 563.99 L291.20 562.44 L291.62 560.82 L291.90 559.16 L292.02 557.47 L291.99 555.75 L291.81 554.02 L291.48 552.30 L291.01 550.59 L290.39 548.92 L289.63 547.29 L288.75 545.71 L287.73 544.20 L286.60 542.77Z" fill="#d7e9dc"/>
<line x1="115.87" y1="619.68" x2="154.68" y2="580.88" stroke="#d77cf6" stroke-width="1.3"/>
<path d="M196.13 585.07 L194.97 584.02 L193.70 583.10 L192.33 582.31 L190.88 581.65 L189.35 581.14 L187.76 580.77 L186.11 580.55 L184.43 580.48 L182.71 580.56 L180.99 580.79 L179.26 581.17 L177.55 581.70 L175.86 582.36 L174.21 583.16 L172.62 584.10 L171.08 585.15 L169.62 586.32 L168.25 587.60 L166.97 588.98 L165.80 590.44 L164.74 591.97 L163.81 593.57 L163.01 595.22 L162.34 596.90 L161.82 598.62 L161.44 600.34 L161.21 602.07 L161.13 603.78 L161.19 605.47 L161.41 607.11 L161.78 608.71 L162.30 610.24 L162.95 611.69 L163.75 613.06 L164.67 614.33 L165.72 615.49 L166.88 616.54 L168.15 617.46 L169.52 618.25 L170.97 618.91 L172.50 619.42 L174.09 619.79 L175.74 620.01 L177.42 620.08 L179.14 620.00 L180.86 619.77 L182.59 619.39 L184.30 618.86 L185.99 618.20 L187.64 617.40 L189.23 616.46 L190.77 615.41 L192.23 614.24 L193.60 612.96 L194.88 611.58 L196.05 610.12 L197.11 608.59 L198.04 606.99 L198.84 605.34 L199.51 603.66 L200.03 601.94 L200.41 600.22 L200.64 598.49 L200.72 596.78 L200.66 595.09 L200.44 593.45 L200.07 591.85 L199.55 590.32 L198.90 588.87 L198.10 587.50 L197.18 586.23Z" fill="#e8d4f9"/>
<path d="M243.43 583.42 L242.46 582.58 L241.37 581.87 L240.17 581.31 L238.87 580.89 L237.47 580.61 L235.98 580.49 L234.43 580.51 L232.82 580.69 L231.15 581.02 L229.46 581.49 L227.74 582.10 L226.01 582.86 L224.29 583.74 L222.58 584.76 L220.91 585.89 L219.28 587.13 L217.70 588.47 L216.19 589.90 L214.76 591.41 L213.42 592.98 L212.18 594.61 L211.05 596.29 L210.04 597.99 L209.15 599.72 L208.40 601.44 L207.78 603.16 L207.31 604.86 L206.99 606.52 L206.81 608.13 L206.78 609.69 L206.91 611.17 L207.18 612.57 L207.60 613.88 L208.17 615.08 L208.88 616.17 L209.72 617.14 L210.69 617.98 L211.78 618.69 L212.98 619.25 L214.28 619.67 L215.68 619.95 L217.17 620.07 L218.72 620.05 L220.33 619.87 L222.00 619.54 L223.69 619.07 L225.41 618.46 L227.14 617.70 L228.86 616.82 L230.57 615.80 L232.24 614.67 L233.87 613.43 L235.45 612.09 L236.96 610.66 L238.39 609.15 L239.73 607.58 L240.97 605.95 L242.10 604.27 L243.11 602.57 L244.00 600.84 L244.75 599.12 L245.37 597.40 L245.84 595.70 L246.16 594.04 L246.34 592.43 L246.37 590.87 L246.24 589.39 L245.97 587.99 L245.55 586.68 L244.98 585.48 L244.27 584.39Z" fill="#ddb2f9"/>
<path d="M287.04 585.46 L285.84 584.37 L284.54 583.41 L283.14 582.57 L281.66 581.86 L280.10 581.30 L278.49 580.88 L276.83 580.61 L275.13 580.49 L273.42 580.52 L271.69 580.69 L269.97 581.02 L268.26 581.50 L266.58 582.11 L264.95 582.87 L263.37 583.76 L261.86 584.77 L260.43 585.90 L259.09 587.15 L257.85 588.49 L256.72 589.92 L255.70 591.43 L254.82 593.01 L254.06 594.64 L253.44 596.31 L252.97 598.02 L252.64 599.74 L252.46 601.47 L252.43 603.19 L252.55 604.88 L252.83 606.54 L253.25 608.16 L253.81 609.71 L254.51 611.19 L255.35 612.59 L256.32 613.90 L257.41 615.10 L258.61 616.19 L259.91 617.15 L261.31 617.99 L262.79 618.70 L264.35 619.26 L265.96 619.68 L267.62 619.95 L269.32 620.07 L271.03 620.04 L272.76 619.87 L274.48 619.54 L276.19 619.06 L277.87 618.45 L279.50 617.69 L281.08 616.80 L282.59 615.79 L284.02 614.66 L285.36 613.41 L286.60 612.07 L287.73 610.64 L288.75 609.13 L289.63 607.55 L290.39 605.92 L291.01 604.25 L291.48 602.54 L291.81 600.82 L291.99 599.09 L292.02 597.37 L291.90 595.68 L291.62 594.02 L291.20 592.40 L290.64 590.85 L289.94 589.37 L289.10 587.97 L288.13 586.66Z" fill="#ecdefa"/>
<line x1="161.52" y1="665.40" x2="200.33" y2="626.60" stroke="#d77cf6" stroke-width="1.3"/>
<path d="M242.04 630.54 L240.90 629.52 L239.66 628.62 L238.31 627.86 L236.88 627.24 L235.36 626.76 L233.78 626.42 L232.15 626.24 L230.47 626.21 L228.77 626.32 L227.04 626.59 L225.32 627.00 L223.60 627.56 L221.90 628.26 L220.24 629.09 L218.63 630.05 L217.08 631.14 L215.60 632.33 L214.21 633.63 L212.91 635.03 L211.71 636.51 L210.63 638.06 L209.67 639.67 L208.83 641.33 L208.13 643.02 L207.58 644.74 L207.16 646.47 L206.90 648.19 L206.78 649.90 L206.82 651.58 L207.00 653.21 L207.33 654.79 L207.81 656.30 L208.44 657.74 L209.20 659.08 L210.09 660.33 L211.11 661.46 L212.25 662.48 L213.49 663.38 L214.84 664.14 L216.27 664.76 L217.79 665.24 L219.37 665.58 L221.00 665.76 L222.68 665.79 L224.38 665.68 L226.11 665.41 L227.83 665.00 L229.55 664.44 L231.25 663.74 L232.91 662.91 L234.52 661.95 L236.07 660.86 L237.55 659.67 L238.94 658.37 L240.24 656.97 L241.44 655.49 L242.52 653.94 L243.48 652.33 L244.32 650.67 L245.02 648.98 L245.57 647.26 L245.99 645.53 L246.25 643.81 L246.37 642.10 L246.33 640.42 L246.15 638.79 L245.82 637.21 L245.34 635.70 L244.71 634.26 L243.95 632.92 L243.06 631.67Z" fill="#e6d0f9"/>
<path d="M289.26 628.97 L288.31 628.15 L287.25 627.47 L286.06 626.93 L284.78 626.54 L283.40 626.30 L281.93 626.20 L280.39 626.26 L278.78 626.46 L277.13 626.82 L275.44 627.32 L273.72 627.96 L272.00 628.74 L270.27 629.65 L268.56 630.69 L266.88 631.84 L265.24 633.10 L263.65 634.46 L262.13 635.90 L260.68 637.43 L259.32 639.02 L258.06 640.66 L256.91 642.34 L255.88 644.05 L254.97 645.77 L254.19 647.50 L253.54 649.21 L253.04 650.90 L252.69 652.56 L252.48 654.16 L252.43 655.70 L252.52 657.17 L252.77 658.55 L253.16 659.84 L253.70 661.02 L254.38 662.09 L255.19 663.03 L256.14 663.85 L257.20 664.53 L258.39 665.07 L259.67 665.46 L261.05 665.70 L262.52 665.80 L264.06 665.74 L265.67 665.54 L267.32 665.18 L269.01 664.68 L270.73 664.04 L272.45 663.26 L274.18 662.35 L275.89 661.31 L277.57 660.16 L279.21 658.90 L280.80 657.54 L282.32 656.10 L283.77 654.57 L285.13 652.98 L286.39 651.34 L287.54 649.66 L288.57 647.95 L289.48 646.23 L290.26 644.50 L290.91 642.79 L291.41 641.10 L291.76 639.44 L291.97 637.84 L292.02 636.30 L291.93 634.83 L291.68 633.45 L291.29 632.16 L290.75 630.98 L290.07 629.91Z" fill="#dbaaf8"/>
<line x1="207.17" y1="711.12" x2="245.98" y2="672.32" stroke="#d77cf6" stroke-width="1.3"/>
<path d="M289.93 674.01 L289.10 673.31 L288.13 672.74 L287.04 672.32 L285.84 672.05 L284.53 671.93 L283.13 671.96 L281.65 672.13 L280.10 672.46 L278.49 672.94 L276.83 673.55 L275.13 674.31 L273.41 675.20 L271.68 676.21 L269.96 677.34 L268.26 678.58 L266.58 679.92 L264.95 681.36 L263.37 682.87 L261.86 684.44 L260.43 686.07 L259.09 687.75 L257.85 689.46 L256.72 691.18 L255.70 692.91 L254.81 694.62 L254.06 696.32 L253.44 697.98 L252.97 699.59 L252.64 701.15 L252.46 702.63 L252.43 704.03 L252.55 705.33 L252.83 706.53 L253.25 707.62 L253.81 708.59 L254.52 709.43 L255.35 710.13 L256.32 710.70 L257.41 711.12 L258.61 711.39 L259.92 711.51 L261.32 711.48 L262.80 711.31 L264.35 710.98 L265.96 710.50 L267.62 709.89 L269.32 709.13 L271.04 708.24 L272.77 707.23 L274.49 706.10 L276.19 704.86 L277.87 703.52 L279.50 702.08 L281.08 700.57 L282.59 699.00 L284.02 697.37 L285.36 695.69 L286.60 693.98 L287.73 692.26 L288.75 690.53 L289.64 688.82 L290.39 687.12 L291.01 685.46 L291.48 683.85 L291.81 682.29 L291.99 680.81 L292.02 679.41 L291.90 678.11 L291.62 676.91 L291.20 675.82 L290.64 674.85Z" fill="#d58ef7"/>
<line x1="252.82" y1="756.84" x2="291.63" y2="718.04" stroke="#d77cf6" stroke-width="1.3"/>
<line x1="66.80" y1="531.70" x2="295.05" y2="531.70" stroke="#cfcfcf" stroke-width="0.9"/>
<line x1="66.80" y1="577.42" x2="295.05" y2="577.42" stroke="#cfcfcf" stroke-width="0.9"/>
<line x1="112.45" y1="623.14" x2="295.05" y2="623.14" stroke="#cfcfcf" stroke-width="0.9"/>
<line x1="158.10" y1="668.86" x2="295.05" y2="668.86" stroke="#cfcfcf" stroke-width="0.9"/>
<line x1="203.75" y1="714.58" x2="295.05" y2="714.58" stroke="#cfcfcf" stroke-width="0.9"/>
<line x1="249.40" y1="760.30" x2="295.05" y2="760.30" stroke="#cfcfcf" stroke-width="0.9"/>
<line x1="66.80" y1="531.70" x2="66.80" y2="577.42" stroke="#cfcfcf" stroke-width="0.9"/>
<line x1="112.45" y1="531.70" x2="112.45" y2="623.14" stroke="#cfcfcf" stroke-width="0.9"/>
<line x1="158.10" y1="531.70" x2="158.10" y2="668.86" stroke="#cfcfcf" stroke-width="0.9"/>
<line x1="203.75" y1="531.70" x2="203.75" y2="714.58" stroke="#cfcfcf" stroke-width="0.9"/>
<line x1="249.40" y1="531.70" x2="249.40" y2="760.30" stroke="#cfcfcf" stroke-width="0.9"/>
<line x1="295.05" y1="531.70" x2="295.05" y2="760.30" stroke="#cfcfcf" stroke-width="0.9"/>
<text x="61.60" y="557.46" font-size="11.3" text-anchor="end" fill="#111" font-family='"Liberation Sans", sans-serif'>turquoise</text>
<text x="107.25" y="603.18" font-size="11.3" text-anchor="end" fill="#111" font-family='"Liberation Sans", sans-serif'>yellow</text>
<text x="152.90" y="648.90" font-size="11.3" text-anchor="end" fill="#111" font-family='"Liberation Sans", sans-serif'>green</text>
<text x="198.55" y="694.62" font-size="11.3" text-anchor="end" fill="#111" font-family='"Liberation Sans", sans-serif'>brown</text>
<text x="244.20" y="740.34" font-size="11.3" text-anchor="end" fill="#111" font-family='"Liberation Sans", sans-serif'>blue</text>
<text x="92.42" y="529.50" font-size="11.3" text-anchor="start" fill="#111" font-family='"Liberation Sans", sans-serif' transform="rotate(-45 92.42 529.50)">turquoise</text>
<text x="138.07" y="529.50" font-size="11.3" text-anchor="start" fill="#111" font-family='"Liberation Sans", sans-serif' transform="rotate(-45 138.07 529.50)">yellow</text>
<text x="183.72" y="529.50" font-size="11.3" text-anchor="start" fill="#111" font-family='"Liberation Sans", sans-serif' transform="rotate(-45 183.72 529.50)">green</text>
<text x="229.38" y="529.50" font-size="11.3" text-anchor="start" fill="#111" font-family='"Liberation Sans", sans-serif' transform="rotate(-45 229.38 529.50)">brown</text>
<text x="275.02" y="529.50" font-size="11.3" text-anchor="start" fill="#111" font-family='"Liberation Sans", sans-serif' transform="rotate(-45 275.02 529.50)">blue</text>
<defs><linearGradient id="cpl" x1="0" x2="0" y1="0" y2="1"><stop offset="0" stop-color="#c13cf0"/><stop offset="0.25" stop-color="#dd9cf7"/><stop offset="0.5" stop-color="#ffffff"/><stop offset="0.75" stop-color="#9ccaa7"/><stop offset="1" stop-color="#3d8b4d"/></linearGradient></defs>
<rect x="298.90" y="531.80" width="7.80" height="228.80" fill="url(#cpl)" stroke="#9a9a9a" stroke-width="0.6"/>
<line x1="306.70" y1="531.80" x2="308.50" y2="531.80" stroke="#222" stroke-width="0.7"/>
<text x="312.50" y="535.00" font-size="9.0" text-anchor="start" fill="#111" font-family='"Liberation Sans", sans-serif'>1</text>
<line x1="306.70" y1="554.68" x2="308.50" y2="554.68" stroke="#222" stroke-width="0.7"/>
<text x="309.50" y="557.88" font-size="9.0" text-anchor="start" fill="#111" font-family='"Liberation Sans", sans-serif'>0.8</text>
<line x1="306.70" y1="577.56" x2="308.50" y2="577.56" stroke="#222" stroke-width="0.7"/>
<text x="309.50" y="580.76" font-size="9.0" text-anchor="start" fill="#111" font-family='"Liberation Sans", sans-serif'>0.6</text>
<line x1="306.70" y1="600.44" x2="308.50" y2="600.44" stroke="#222" stroke-width="0.7"/>
<text x="309.50" y="603.64" font-size="9.0" text-anchor="start" fill="#111" font-family='"Liberation Sans", sans-serif'>0.4</text>
<line x1="306.70" y1="623.32" x2="308.50" y2="623.32" stroke="#222" stroke-width="0.7"/>
<text x="309.50" y="626.52" font-size="9.0" text-anchor="start" fill="#111" font-family='"Liberation Sans", sans-serif'>0.2</text>
<line x1="306.70" y1="646.20" x2="308.50" y2="646.20" stroke="#222" stroke-width="0.7"/>
<text x="312.50" y="649.40" font-size="9.0" text-anchor="start" fill="#111" font-family='"Liberation Sans", sans-serif'>0</text>
<line x1="306.70" y1="669.08" x2="308.50" y2="669.08" stroke="#222" stroke-width="0.7"/>
<text x="307.90" y="672.28" font-size="9.0" text-anchor="start" fill="#111" font-family='"Liberation Sans", sans-serif'>-0.2</text>
<line x1="306.70" y1="691.96" x2="308.50" y2="691.96" stroke="#222" stroke-width="0.7"/>
<text x="307.90" y="695.16" font-size="9.0" text-anchor="start" fill="#111" font-family='"Liberation Sans", sans-serif'>-0.4</text>
<line x1="306.70" y1="714.84" x2="308.50" y2="714.84" stroke="#222" stroke-width="0.7"/>
<text x="307.90" y="718.04" font-size="9.0" text-anchor="start" fill="#111" font-family='"Liberation Sans", sans-serif'>-0.6</text>
<line x1="306.70" y1="737.72" x2="308.50" y2="737.72" stroke="#222" stroke-width="0.7"/>
<text x="307.90" y="740.92" font-size="9.0" text-anchor="start" fill="#111" font-family='"Liberation Sans", sans-serif'>-0.8</text>
<line x1="306.70" y1="760.60" x2="308.50" y2="760.60" stroke="#222" stroke-width="0.7"/>
<text x="307.90" y="763.80" font-size="9.0" text-anchor="start" fill="#111" font-family='"Liberation Sans", sans-serif'>-1</text>
<line x1="435.40" y1="505.00" x2="435.40" y2="751.00" stroke="#000" stroke-width="1.15"/>
<line x1="434.90" y1="750.40" x2="510.90" y2="750.40" stroke="#000" stroke-width="1.15"/>
<line x1="431.20" y1="533.90" x2="435.40" y2="533.90" stroke="#000" stroke-width="1.1"/>
<text x="427.50" y="539.00" font-size="14.4" text-anchor="end" fill="#111" font-family='"Liberation Sans", sans-serif'>blue</text>
<line x1="431.20" y1="581.00" x2="435.40" y2="581.00" stroke="#000" stroke-width="1.1"/>
<text x="427.50" y="586.10" font-size="14.4" text-anchor="end" fill="#111" font-family='"Liberation Sans", sans-serif'>brown</text>
<line x1="431.20" y1="628.00" x2="435.40" y2="628.00" stroke="#000" stroke-width="1.1"/>
<text x="427.50" y="633.10" font-size="14.4" text-anchor="end" fill="#111" font-family='"Liberation Sans", sans-serif'>green</text>
<line x1="431.20" y1="675.40" x2="435.40" y2="675.40" stroke="#000" stroke-width="1.1"/>
<text x="427.50" y="680.50" font-size="14.4" text-anchor="end" fill="#111" font-family='"Liberation Sans", sans-serif'>yellow</text>
<line x1="431.20" y1="722.60" x2="435.40" y2="722.60" stroke="#000" stroke-width="1.1"/>
<text x="427.50" y="727.70" font-size="14.4" text-anchor="end" fill="#111" font-family='"Liberation Sans", sans-serif'>turquoise</text>
<line x1="449.50" y1="750.40" x2="449.50" y2="754.90" stroke="#000" stroke-width="1.1"/>
<text x="457.40" y="765.80" font-size="14.4" text-anchor="end" fill="#111" font-family='"Liberation Sans", sans-serif' transform="rotate(-45 457.40 765.80)">HighStem</text>
<line x1="473.10" y1="750.40" x2="473.10" y2="754.90" stroke="#000" stroke-width="1.1"/>
<text x="481.00" y="765.80" font-size="14.4" text-anchor="end" fill="#111" font-family='"Liberation Sans", sans-serif' transform="rotate(-45 481.00 765.80)">DTStem</text>
<line x1="496.60" y1="750.40" x2="496.60" y2="754.90" stroke="#000" stroke-width="1.1"/>
<text x="504.50" y="765.80" font-size="14.4" text-anchor="end" fill="#111" font-family='"Liberation Sans", sans-serif' transform="rotate(-45 504.50 765.80)">LowStem</text>
<text x="361.50" y="627.70" font-size="16.4" text-anchor="middle" fill="#111" font-family='"Liberation Sans", sans-serif' transform="rotate(-90 361.50 627.70)">Features</text>
<circle cx="449.50" cy="533.90" r="8.4" fill="#b2d7cf"/>
<circle cx="473.10" cy="533.90" r="6.1" fill="#c21f30"/>
<circle cx="496.60" cy="533.90" r="2.1" fill="#7ab8ac"/>
<circle cx="449.50" cy="581.00" r="7.0" fill="#c62833"/>
<circle cx="473.10" cy="581.00" r="5.1" fill="#d7ebe7"/>
<circle cx="496.60" cy="581.00" r="3.0" fill="#5ea596"/>
<circle cx="449.50" cy="628.00" r="6.8" fill="#d25a5c"/>
<circle cx="473.10" cy="628.00" r="5.8" fill="#f2cecd"/>
<circle cx="496.60" cy="628.00" r="4.0" fill="#3f8d80"/>
<circle cx="449.50" cy="675.40" r="6.7" fill="#e59e9b"/>
<circle cx="473.10" cy="675.40" r="6.0" fill="#dd7c79"/>
<circle cx="496.60" cy="675.40" r="5.7" fill="#3a8b7d"/>
<circle cx="449.50" cy="722.60" r="6.7" fill="#a2cfc6"/>
<circle cx="473.10" cy="722.60" r="6.3" fill="#a5d0c8"/>
<circle cx="496.60" cy="722.60" r="8.0" fill="#bf1d2c"/>
<rect x="380.5" y="567.0" width="80.8" height="120.6" fill="none" stroke="#f01a1a" stroke-width="2.2" stroke-dasharray="2.3,2.5"/>
<text x="528.20" y="536.50" font-size="16.5" text-anchor="start" fill="#111" font-family='"Liberation Sans", sans-serif'>Percent Expressed</text>
<circle cx="536.5" cy="555.8" r="5.3" fill="#000"/>
<text x="554.40" y="560.90" font-size="14.4" text-anchor="start" fill="#111" font-family='"Liberation Sans", sans-serif'>25</text>
<circle cx="536.5" cy="574.3" r="6.7" fill="#000"/>
<text x="554.40" y="579.40" font-size="14.4" text-anchor="start" fill="#111" font-family='"Liberation Sans", sans-serif'>50</text>
<circle cx="536.5" cy="592.4" r="7.5" fill="#000"/>
<text x="554.40" y="597.50" font-size="14.4" text-anchor="start" fill="#111" font-family='"Liberation Sans", sans-serif'>75</text>
<text x="528.00" y="631.80" font-size="16.5" text-anchor="start" fill="#111" font-family='"Liberation Sans", sans-serif'>Average Expression</text>
<defs><linearGradient id="avg" x1="0" x2="0" y1="0" y2="1"><stop offset="0" stop-color="#c21f2f"/><stop offset="0.25" stop-color="#df7a7a"/><stop offset="0.5" stop-color="#ffffff"/><stop offset="0.75" stop-color="#84bcb1"/><stop offset="1" stop-color="#3a8a7c"/></linearGradient></defs>
<rect x="527.20" y="642.10" width="18.80" height="91.10" fill="url(#avg)" stroke="none" stroke-width="1"/>
<line x1="527.20" y1="649.40" x2="530.80" y2="649.40" stroke="#fff" stroke-width="0.8"/>
<line x1="542.40" y1="649.40" x2="546.00" y2="649.40" stroke="#fff" stroke-width="0.8"/>
<text x="554.40" y="653.40" font-size="14.4" text-anchor="start" fill="#111" font-family='"Liberation Sans", sans-serif'>1.0</text>
<line x1="527.20" y1="668.80" x2="530.80" y2="668.80" stroke="#fff" stroke-width="0.8"/>
<line x1="542.40" y1="668.80" x2="546.00" y2="668.80" stroke="#fff" stroke-width="0.8"/>
<text x="554.40" y="672.80" font-size="14.4" text-anchor="start" fill="#111" font-family='"Liberation Sans", sans-serif'>0.5</text>
<line x1="527.20" y1="688.20" x2="530.80" y2="688.20" stroke="#fff" stroke-width="0.8"/>
<line x1="542.40" y1="688.20" x2="546.00" y2="688.20" stroke="#fff" stroke-width="0.8"/>
<text x="554.40" y="692.20" font-size="14.4" text-anchor="start" fill="#111" font-family='"Liberation Sans", sans-serif'>0.0</text>
<line x1="527.20" y1="707.60" x2="530.80" y2="707.60" stroke="#fff" stroke-width="0.8"/>
<line x1="542.40" y1="707.60" x2="546.00" y2="707.60" stroke="#fff" stroke-width="0.8"/>
<text x="554.40" y="711.60" font-size="14.4" text-anchor="start" fill="#111" font-family='"Liberation Sans", sans-serif'>−0.5</text>
<line x1="527.20" y1="727.00" x2="530.80" y2="727.00" stroke="#fff" stroke-width="0.8"/>
<line x1="542.40" y1="727.00" x2="546.00" y2="727.00" stroke="#fff" stroke-width="0.8"/>
<text x="554.40" y="731.00" font-size="14.4" text-anchor="start" fill="#111" font-family='"Liberation Sans", sans-serif'>−1.0</text>
</svg>
</body></html>
